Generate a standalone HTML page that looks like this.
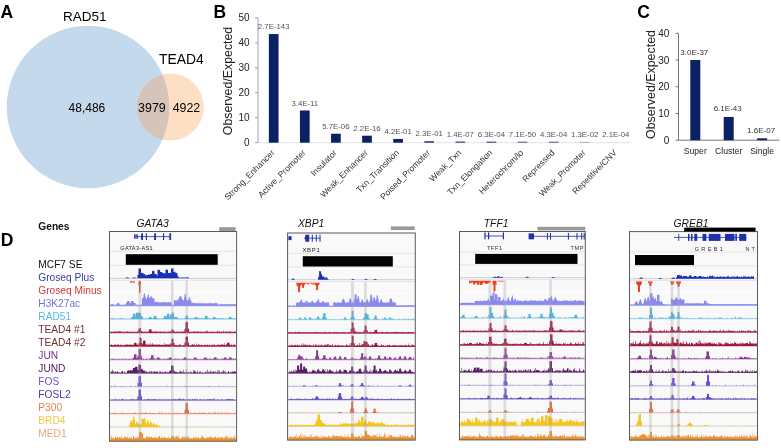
<!DOCTYPE html>
<html><head><meta charset="utf-8"><style>
html,body{margin:0;padding:0;background:#fff;}
svg{display:block;font-family:"Liberation Sans", Arial, sans-serif;}
</style></head><body>
<svg width="781" height="448" viewBox="0 0 781 448">
<defs><clipPath id="cb"><circle cx="88" cy="107" r="81.3"/></clipPath></defs>
<circle cx="88" cy="107" r="81.3" fill="#c5d9ec"/>
<circle cx="170.3" cy="107" r="33.5" fill="#fddfc4"/>
<circle cx="170.3" cy="107" r="33.5" fill="#d4c4b9" clip-path="url(#cb)"/>
<text x="62.9" y="21.0" font-size="13.5">RAD51</text>
<text x="159.0" y="63.5" font-size="13.9">TEAD4</text>
<text x="68.6" y="111.8" font-size="12">48,486</text>
<text x="138.1" y="111.7" font-size="12.4">3979</text>
<text x="172.7" y="111.7" font-size="12.4">4922</text>
<text x="0.6" y="17.5" font-size="17.5" font-weight="bold">A</text>
<text x="213.4" y="17.5" font-size="17.5" font-weight="bold">B</text>
<text x="637.2" y="17.9" font-size="17.5" font-weight="bold">C</text>
<text x="0.8" y="245.9" font-size="17.5" font-weight="bold">D</text>
<line x1="258" y1="142.7" x2="631.5" y2="142.7" stroke="#e2e2ea" stroke-width="1"/>
<line x1="258" y1="17.849999999999994" x2="258" y2="142.7" stroke="#9c9cc8" stroke-width="1"/>
<line x1="255" y1="142.70" x2="258" y2="142.70" stroke="#9c9cc8" stroke-width="1"/>
<text x="249.6" y="146.30" font-size="10" text-anchor="end" fill="#222">0</text>
<line x1="255" y1="117.73" x2="258" y2="117.73" stroke="#9c9cc8" stroke-width="1"/>
<text x="249.6" y="121.33" font-size="10" text-anchor="end" fill="#222">10</text>
<line x1="255" y1="92.76" x2="258" y2="92.76" stroke="#9c9cc8" stroke-width="1"/>
<text x="249.6" y="96.36" font-size="10" text-anchor="end" fill="#222">20</text>
<line x1="255" y1="67.79" x2="258" y2="67.79" stroke="#9c9cc8" stroke-width="1"/>
<text x="249.6" y="71.39" font-size="10" text-anchor="end" fill="#222">30</text>
<line x1="255" y1="42.82" x2="258" y2="42.82" stroke="#9c9cc8" stroke-width="1"/>
<text x="249.6" y="46.42" font-size="10" text-anchor="end" fill="#222">40</text>
<line x1="255" y1="17.85" x2="258" y2="17.85" stroke="#9c9cc8" stroke-width="1"/>
<text x="249.6" y="21.45" font-size="10" text-anchor="end" fill="#222">50</text>
<text transform="translate(232.2,81) rotate(-90)" font-size="12.35" text-anchor="middle" fill="#222">Observed/Expected</text>
<rect x="268.85" y="34.08" width="9.7" height="108.62" fill="#0b2163"/>
<text x="273.70" y="29.28" font-size="7.8" text-anchor="middle" fill="#555">2.7E-143</text>
<text transform="translate(275.20,153.3) rotate(-45)" font-size="8.6" text-anchor="end" fill="#333">Strong_Enhancer</text>
<rect x="299.95" y="110.49" width="9.7" height="32.21" fill="#0b2163"/>
<text x="304.80" y="105.69" font-size="7.8" text-anchor="middle" fill="#555">3.4E-11</text>
<text transform="translate(306.30,153.3) rotate(-45)" font-size="8.6" text-anchor="end" fill="#333">Active_Promoter</text>
<rect x="331.05" y="133.71" width="9.7" height="8.99" fill="#0b2163"/>
<text x="335.90" y="128.91" font-size="7.8" text-anchor="middle" fill="#555">5.7E-06</text>
<text transform="translate(337.40,153.3) rotate(-45)" font-size="8.6" text-anchor="end" fill="#333">Insulator</text>
<rect x="362.15" y="135.71" width="9.7" height="6.99" fill="#0b2163"/>
<text x="367.00" y="130.91" font-size="7.8" text-anchor="middle" fill="#555">2.2E-16</text>
<text transform="translate(368.50,153.3) rotate(-45)" font-size="8.6" text-anchor="end" fill="#333">Weak_Enhancer</text>
<rect x="393.25" y="138.95" width="9.7" height="3.75" fill="#0b2163"/>
<text x="398.10" y="134.15" font-size="7.8" text-anchor="middle" fill="#555">4.2E-01</text>
<text transform="translate(399.60,153.3) rotate(-45)" font-size="8.6" text-anchor="end" fill="#333">Txn_Transition</text>
<rect x="424.35" y="141.20" width="9.7" height="1.50" fill="#2a3470"/>
<text x="429.20" y="136.40" font-size="7.8" text-anchor="middle" fill="#555">2.3E-01</text>
<text transform="translate(430.70,153.3) rotate(-45)" font-size="8.6" text-anchor="end" fill="#333">Poised_Promoter</text>
<rect x="455.45" y="141.58" width="9.7" height="1.12" fill="#2a3470"/>
<text x="460.30" y="136.60" font-size="7.8" text-anchor="middle" fill="#555">1.4E-07</text>
<text transform="translate(461.80,153.3) rotate(-45)" font-size="8.6" text-anchor="end" fill="#333">Weak_Txn</text>
<rect x="486.55" y="141.65" width="9.7" height="1.05" fill="#2a3470"/>
<text x="491.40" y="136.60" font-size="7.8" text-anchor="middle" fill="#555">6.3E-04</text>
<text transform="translate(492.90,153.3) rotate(-45)" font-size="8.6" text-anchor="end" fill="#333">Txn_Elongation</text>
<rect x="517.65" y="141.70" width="9.7" height="1.00" fill="#50568a"/>
<text x="522.50" y="136.60" font-size="7.8" text-anchor="middle" fill="#555">7.1E-50</text>
<text transform="translate(524.00,153.3) rotate(-45)" font-size="8.6" text-anchor="end" fill="#333">Heterochrom/lo</text>
<rect x="548.75" y="141.70" width="9.7" height="1.00" fill="#50568a"/>
<text x="553.60" y="136.60" font-size="7.8" text-anchor="middle" fill="#555">4.3E-04</text>
<text transform="translate(555.10,153.3) rotate(-45)" font-size="8.6" text-anchor="end" fill="#333">Repressed</text>
<rect x="579.85" y="141.83" width="9.7" height="0.87" fill="#a0a4c0"/>
<text x="584.70" y="136.60" font-size="7.8" text-anchor="middle" fill="#555">1.3E-02</text>
<text transform="translate(586.20,153.3) rotate(-45)" font-size="8.6" text-anchor="end" fill="#333">Weak_Promoter</text>
<rect x="610.95" y="142.20" width="9.7" height="0.50" fill="#d8dae6"/>
<text x="615.80" y="136.60" font-size="7.8" text-anchor="middle" fill="#555">2.1E-04</text>
<text transform="translate(617.30,153.3) rotate(-45)" font-size="8.6" text-anchor="end" fill="#333">Repetitive/CNV</text>
<line x1="678.5" y1="33.32" x2="678.5" y2="140.2" stroke="#777" stroke-width="1"/>
<line x1="678.5" y1="140.2" x2="779.3" y2="140.2" stroke="#777" stroke-width="1"/>
<line x1="675.5" y1="140.20" x2="678.5" y2="140.20" stroke="#777" stroke-width="1"/>
<text x="669.4" y="143.80" font-size="10" text-anchor="end" fill="#222">0</text>
<line x1="675.5" y1="113.48" x2="678.5" y2="113.48" stroke="#777" stroke-width="1"/>
<text x="669.4" y="117.08" font-size="10" text-anchor="end" fill="#222">10</text>
<line x1="675.5" y1="86.76" x2="678.5" y2="86.76" stroke="#777" stroke-width="1"/>
<text x="669.4" y="90.36" font-size="10" text-anchor="end" fill="#222">20</text>
<line x1="675.5" y1="60.04" x2="678.5" y2="60.04" stroke="#777" stroke-width="1"/>
<text x="669.4" y="63.64" font-size="10" text-anchor="end" fill="#222">30</text>
<line x1="675.5" y1="33.32" x2="678.5" y2="33.32" stroke="#777" stroke-width="1"/>
<text x="669.4" y="36.92" font-size="10" text-anchor="end" fill="#222">40</text>
<text transform="translate(654.6,84.5) rotate(-90)" font-size="12.4" text-anchor="middle" fill="#222">Observed/Expected</text>
<rect x="690.30" y="60.04" width="10" height="80.16" fill="#0b2163"/>
<text x="694.30" y="54.54" font-size="8" text-anchor="middle" fill="#333">3.0E-37</text>
<text x="695.30" y="153.6" font-size="8.6" text-anchor="middle" fill="#222">Super</text>
<rect x="723.70" y="116.95" width="10" height="23.25" fill="#0b2163"/>
<text x="727.70" y="111.45" font-size="8" text-anchor="middle" fill="#333">6.1E-43</text>
<text x="728.70" y="153.6" font-size="8.6" text-anchor="middle" fill="#222">Cluster</text>
<rect x="757.10" y="138.33" width="10" height="1.87" fill="#0b2163"/>
<text x="761.10" y="132.83" font-size="8" text-anchor="middle" fill="#333">1.6E-07</text>
<text x="762.10" y="153.6" font-size="8.6" text-anchor="middle" fill="#222">Single</text>
<text x="38.3" y="229.7" font-size="10.2" font-weight="bold" fill="#111">Genes</text>
<text x="38.3" y="268.0" font-size="10.2" fill="#111">MCF7 SE</text>
<text x="38.3" y="281.0" font-size="10.2" fill="#3a3aa0">Groseq Plus</text>
<text x="38.3" y="294.0" font-size="10.2" fill="#d8343c">Groseq Minus</text>
<text x="38.3" y="307.0" font-size="10.2" fill="#7474d4">H3K27ac</text>
<text x="38.3" y="320.0" font-size="10.2" fill="#5ab8e2">RAD51</text>
<text x="38.3" y="333.0" font-size="10.2" fill="#7c2a34">TEAD4 #1</text>
<text x="38.3" y="346.0" font-size="10.2" fill="#7c2a34">TEAD4 #2</text>
<text x="38.3" y="359.0" font-size="10.2" fill="#74308c">JUN</text>
<text x="38.3" y="372.0" font-size="10.2" fill="#4c1a58">JUND</text>
<text x="38.3" y="385.0" font-size="10.2" fill="#7050dc">FOS</text>
<text x="38.3" y="398.0" font-size="10.2" fill="#4a38a8">FOSL2</text>
<text x="38.3" y="411.0" font-size="10.2" fill="#e8805a">P300</text>
<text x="38.3" y="424.0" font-size="10.2" fill="#f0cc40">BRD4</text>
<text x="38.3" y="437.0" font-size="10.2" fill="#e8a880">MED1</text>
<rect x="109.5" y="231.5" width="127.1" height="209.7" fill="#f9f9f9"/>
<line x1="109.5" y1="251.3" x2="236.6" y2="251.3" stroke="#dedede" stroke-width="0.8"/>
<line x1="109.5" y1="265.3" x2="236.6" y2="265.3" stroke="#dedede" stroke-width="0.8"/>
<line x1="109.5" y1="280.3" x2="236.6" y2="280.3" stroke="#dedede" stroke-width="0.8"/>
<line x1="109.5" y1="292.3" x2="236.6" y2="292.3" stroke="#ffffff" stroke-width="1"/>
<line x1="109.5" y1="305.8" x2="236.6" y2="305.8" stroke="#ffffff" stroke-width="1"/>
<line x1="109.5" y1="319.3" x2="236.6" y2="319.3" stroke="#ffffff" stroke-width="1"/>
<line x1="109.5" y1="332.8" x2="236.6" y2="332.8" stroke="#ffffff" stroke-width="1"/>
<line x1="109.5" y1="346.3" x2="236.6" y2="346.3" stroke="#ffffff" stroke-width="1"/>
<line x1="109.5" y1="359.9" x2="236.6" y2="359.9" stroke="#ffffff" stroke-width="1"/>
<line x1="109.5" y1="373.4" x2="236.6" y2="373.4" stroke="#ffffff" stroke-width="1"/>
<line x1="109.5" y1="386.9" x2="236.6" y2="386.9" stroke="#ffffff" stroke-width="1"/>
<line x1="109.5" y1="400.4" x2="236.6" y2="400.4" stroke="#ffffff" stroke-width="1"/>
<line x1="109.5" y1="413.9" x2="236.6" y2="413.9" stroke="#ffffff" stroke-width="1"/>
<line x1="109.5" y1="427.4" x2="236.6" y2="427.4" stroke="#ffffff" stroke-width="1"/>
<line x1="110.0" y1="278.3" x2="236.1" y2="278.3" stroke="#bbbbcc" stroke-opacity="0.6" stroke-width="1.3"/>
<path d="M125.0 278.3L125.0 277.9L125.5 277.9L125.5 278.0L126.0 278.0L126.0 277.4L126.5 277.4L126.5 277.4L127.0 277.4L127.0 277.4L127.5 277.4L127.5 277.5L128.0 277.5L128.0 277.5L128.5 277.5L128.5 278.0L129.0 278.0L129.0 278.0L129.5 278.0L129.5 278.3ZM132.0 278.3L132.0 278.0L132.5 278.0L132.5 277.9L133.0 277.9L133.0 277.4L133.5 277.4L133.5 277.4L134.0 277.4L134.0 277.5L134.5 277.5L134.5 277.5L135.0 277.5L135.0 277.4L135.5 277.4L135.5 278.0L136.0 278.0L136.0 278.0L136.5 278.0L136.5 278.3ZM137.5 278.3L137.5 274.7L138.0 274.7L138.0 274.7L138.5 274.7L138.5 268.5L139.0 268.5L139.0 268.2L139.5 268.2L139.5 268.7L140.0 268.7L140.0 268.4L140.5 268.4L140.5 268.6L141.0 268.6L141.0 273.1L141.5 273.1L141.5 272.9L142.0 272.9L142.0 273.0L142.5 273.0L142.5 272.8L143.0 272.8L143.0 272.9L143.5 272.9L143.5 274.2L144.0 274.2L144.0 273.9L144.5 273.9L144.5 274.0L145.0 274.0L145.0 274.2L145.5 274.2L145.5 275.7L146.0 275.7L146.0 275.0L146.5 275.0L146.5 275.2L147.0 275.2L147.0 275.1L147.5 275.1L147.5 275.1L148.0 275.1L148.0 274.5L148.5 274.5L148.5 274.5L149.0 274.5L149.0 274.7L149.5 274.7L149.5 274.8L150.0 274.8L150.0 274.0L150.5 274.0L150.5 274.0L151.0 274.0L151.0 274.0L151.5 274.0L151.5 274.0L152.0 274.0L152.0 270.7L152.5 270.7L152.5 271.2L153.0 271.2L153.0 270.7L153.5 270.7L153.5 271.0L154.0 271.0L154.0 271.2L154.5 271.2L154.5 274.0L155.0 274.0L155.0 274.1L155.5 274.1L155.5 274.1L156.0 274.1L156.0 274.0L156.5 274.0L156.5 275.1L157.0 275.1L157.0 275.7L157.5 275.7L157.5 270.1L158.0 270.1L158.0 270.0L158.5 270.0L158.5 269.6L159.0 269.6L159.0 270.0L159.5 270.0L159.5 269.7L160.0 269.7L160.0 271.8L160.5 271.8L160.5 272.1L161.0 272.1L161.0 271.9L161.5 271.9L161.5 271.9L162.0 271.9L162.0 272.7L162.5 272.7L162.5 272.7L163.0 272.7L163.0 273.3L163.5 273.3L163.5 273.0L164.0 273.0L164.0 272.8L164.5 272.8L164.5 273.7L165.0 273.7L165.0 273.5L165.5 273.5L165.5 269.4L166.0 269.4L166.0 269.6L166.5 269.6L166.5 270.0L167.0 270.0L167.0 269.4L167.5 269.4L167.5 269.8L168.0 269.8L168.0 273.1L168.5 273.1L168.5 273.1L169.0 273.1L169.0 272.7L169.5 272.7L169.5 272.9L170.0 272.9L170.0 272.8L170.5 272.8L170.5 273.1L171.0 273.1L171.0 268.3L171.5 268.3L171.5 268.4L172.0 268.4L172.0 268.7L172.5 268.7L172.5 268.6L173.0 268.6L173.0 267.8L173.5 267.8L173.5 272.1L174.0 272.1L174.0 272.0L174.5 272.0L174.5 271.6L175.0 271.6L175.0 271.7L175.5 271.7L175.5 272.9L176.0 272.9L176.0 273.2L176.5 273.2L176.5 272.8L177.0 272.8L177.0 273.0L177.5 273.0L177.5 276.2L178.0 276.2L178.0 276.3L178.5 276.3L178.5 277.4L179.0 277.4L179.0 277.6L179.5 277.6L179.5 277.6L180.0 277.6L180.0 278.0L180.5 278.0L180.5 277.5L181.0 277.5L181.0 277.5L181.5 277.5L181.5 277.4L182.0 277.4L182.0 277.4L182.5 277.4L182.5 277.5L183.0 277.5L183.0 277.5L183.5 277.5L183.5 277.5L184.0 277.5L184.0 277.5L184.5 277.5L184.5 277.5L185.0 277.5L185.0 277.5L185.5 277.5L185.5 277.9L186.0 277.9L186.0 277.2L186.5 277.2L186.5 277.2L187.0 277.2L187.0 277.2L187.5 277.2L187.5 277.2L188.0 277.2L188.0 277.3L188.5 277.3L188.5 278.0L189.0 278.0L189.0 277.9L189.5 277.9L189.5 278.3Z" fill="#1a2db5"/>
<path d="M130.0 281.3L130.0 282.7L130.5 282.7L130.5 282.4L131.0 282.4L131.0 282.9L131.5 282.9L131.5 282.6L132.0 282.6L132.0 281.3ZM132.5 281.3L132.5 282.6L133.0 282.6L133.0 283.1L133.5 283.1L133.5 282.4L134.0 282.4L134.0 283.3L134.5 283.3L134.5 281.3ZM138.5 281.3L138.5 285.7L139.0 285.7L139.0 292.4L139.5 292.4L139.5 292.8L140.0 292.8L140.0 292.4L140.5 292.4L140.5 284.3L141.0 284.3L141.0 281.3Z" fill="#ec3f1f"/>
<line x1="110.0" y1="305.5" x2="236.1" y2="305.5" stroke="#8a8aee" stroke-opacity="0.85" stroke-width="1.3"/>
<path d="M110.5 305.5L110.5 304.9L111.0 304.9L111.0 304.5L111.5 304.5L111.5 304.1L112.0 304.1L112.0 304.0L112.5 304.0L112.5 304.1L113.0 304.1L113.0 304.6L113.5 304.6L113.5 304.9L114.0 304.9L114.0 305.2L114.5 305.2L114.5 304.8L115.0 304.8L115.0 305.5ZM115.5 305.5L115.5 304.8L116.0 304.8L116.0 304.8L116.5 304.8L116.5 304.2L117.0 304.2L117.0 303.5L117.5 303.5L117.5 303.0L118.0 303.0L118.0 302.6L118.5 302.6L118.5 302.9L119.0 302.9L119.0 303.4L119.5 303.4L119.5 304.4L120.0 304.4L120.0 304.9L120.5 304.9L120.5 305.2L121.0 305.2L121.0 305.1L121.5 305.1L121.5 305.5ZM122.0 305.5L122.0 305.2L122.5 305.2L122.5 305.2L123.0 305.2L123.0 305.0L123.5 305.0L123.5 304.4L124.0 304.4L124.0 305.5ZM125.0 305.5L125.0 305.2L125.5 305.2L125.5 304.1L126.0 304.1L126.0 302.9L126.5 302.9L126.5 302.8L127.0 302.8L127.0 300.9L127.5 300.9L127.5 301.0L128.0 301.0L128.0 301.1L128.5 301.1L128.5 300.9L129.0 300.9L129.0 301.1L129.5 301.1L129.5 302.6L130.0 302.6L130.0 303.2L130.5 303.2L130.5 303.0L131.0 303.0L131.0 301.1L131.5 301.1L131.5 301.1L132.0 301.1L132.0 301.0L132.5 301.0L132.5 300.9L133.0 300.9L133.0 301.1L133.5 301.1L133.5 302.4L134.0 302.4L134.0 302.9L134.5 302.9L134.5 303.1L135.0 303.1L135.0 303.0L135.5 303.0L135.5 304.9L136.0 304.9L136.0 304.7L136.5 304.7L136.5 304.8L137.0 304.8L137.0 305.5ZM137.5 305.5L137.5 305.1L138.0 305.1L138.0 305.2L138.5 305.2L138.5 304.8L139.0 304.8L139.0 305.5ZM140.0 305.5L140.0 304.9L140.5 304.9L140.5 305.0L141.0 305.0L141.0 305.5ZM141.5 305.5L141.5 304.4L142.0 304.4L142.0 298.0L142.5 298.0L142.5 298.0L143.0 298.0L143.0 297.4L143.5 297.4L143.5 294.4L144.0 294.4L144.0 293.5L144.5 293.5L144.5 293.5L145.0 293.5L145.0 296.2L145.5 296.2L145.5 297.3L146.0 297.3L146.0 298.9L146.5 298.9L146.5 298.9L147.0 298.9L147.0 297.2L147.5 297.2L147.5 295.2L148.0 295.2L148.0 294.6L148.5 294.6L148.5 294.8L149.0 294.8L149.0 297.7L149.5 297.7L149.5 297.7L150.0 297.7L150.0 297.7L150.5 297.7L150.5 295.8L151.0 295.8L151.0 296.0L151.5 296.0L151.5 297.0L152.0 297.0L152.0 298.3L152.5 298.3L152.5 297.5L153.0 297.5L153.0 298.5L153.5 298.5L153.5 298.2L154.0 298.2L154.0 298.2L154.5 298.2L154.5 302.2L155.0 302.2L155.0 301.5L155.5 301.5L155.5 302.2L156.0 302.2L156.0 302.1L156.5 302.1L156.5 302.0L157.0 302.0L157.0 302.1L157.5 302.1L157.5 301.8L158.0 301.8L158.0 302.2L158.5 302.2L158.5 302.1L159.0 302.1L159.0 302.7L159.5 302.7L159.5 302.3L160.0 302.3L160.0 302.2L160.5 302.2L160.5 302.2L161.0 302.2L161.0 302.3L161.5 302.3L161.5 302.4L162.0 302.4L162.0 302.2L162.5 302.2L162.5 302.2L163.0 302.2L163.0 301.5L163.5 301.5L163.5 302.2L164.0 302.2L164.0 302.5L164.5 302.5L164.5 302.0L165.0 302.0L165.0 302.3L165.5 302.3L165.5 302.4L166.0 302.4L166.0 302.5L166.5 302.5L166.5 302.3L167.0 302.3L167.0 302.1L167.5 302.1L167.5 302.8L168.0 302.8L168.0 302.4L168.5 302.4L168.5 302.1L169.0 302.1L169.0 302.7L169.5 302.7L169.5 302.1L170.0 302.1L170.0 302.3L170.5 302.3L170.5 302.1L171.0 302.1L171.0 302.2L171.5 302.2L171.5 305.5ZM172.0 305.5L172.0 304.9L172.5 304.9L172.5 304.8L173.0 304.8L173.0 305.5ZM174.0 305.5L174.0 299.8L174.5 299.8L174.5 300.1L175.0 300.1L175.0 300.2L175.5 300.2L175.5 300.8L176.0 300.8L176.0 300.3L176.5 300.3L176.5 300.9L177.0 300.9L177.0 300.2L177.5 300.2L177.5 299.2L178.0 299.2L178.0 300.1L178.5 300.1L178.5 298.2L179.0 298.2L179.0 297.4L179.5 297.4L179.5 296.5L180.0 296.5L180.0 295.7L180.5 295.7L180.5 296.0L181.0 296.0L181.0 296.4L181.5 296.4L181.5 298.2L182.0 298.2L182.0 299.3L182.5 299.3L182.5 299.6L183.0 299.6L183.0 300.2L183.5 300.2L183.5 300.4L184.0 300.4L184.0 297.4L184.5 297.4L184.5 294.3L185.0 294.3L185.0 293.6L185.5 293.6L185.5 295.3L186.0 295.3L186.0 297.6L186.5 297.6L186.5 300.2L187.0 300.2L187.0 299.9L187.5 299.9L187.5 301.1L188.0 301.1L188.0 300.0L188.5 300.0L188.5 298.0L189.0 298.0L189.0 297.3L189.5 297.3L189.5 297.4L190.0 297.4L190.0 299.0L190.5 299.0L190.5 300.8L191.0 300.8L191.0 300.3L191.5 300.3L191.5 303.0L192.0 303.0L192.0 303.0L192.5 303.0L192.5 302.6L193.0 302.6L193.0 303.1L193.5 303.1L193.5 303.3L194.0 303.3L194.0 303.1L194.5 303.1L194.5 303.2L195.0 303.2L195.0 302.9L195.5 302.9L195.5 303.2L196.0 303.2L196.0 303.1L196.5 303.1L196.5 303.3L197.0 303.3L197.0 303.4L197.5 303.4L197.5 303.3L198.0 303.3L198.0 303.3L198.5 303.3L198.5 302.3L199.0 302.3L199.0 303.5L199.5 303.5L199.5 303.2L200.0 303.2L200.0 303.3L200.5 303.3L200.5 303.4L201.0 303.4L201.0 303.3L201.5 303.3L201.5 303.0L202.0 303.0L202.0 303.5L202.5 303.5L202.5 302.5L203.0 302.5L203.0 303.4L203.5 303.4L203.5 303.5L204.0 303.5L204.0 303.3L204.5 303.3L204.5 303.5L205.0 303.5L205.0 303.2L205.5 303.2L205.5 303.3L206.0 303.3L206.0 303.4L206.5 303.4L206.5 303.5L207.0 303.5L207.0 303.1L207.5 303.1L207.5 303.4L208.0 303.4L208.0 303.2L208.5 303.2L208.5 303.4L209.0 303.4L209.0 303.2L209.5 303.2L209.5 303.1L210.0 303.1L210.0 302.9L210.5 302.9L210.5 303.3L211.0 303.3L211.0 303.5L211.5 303.5L211.5 303.3L212.0 303.3L212.0 303.1L212.5 303.1L212.5 303.5L213.0 303.5L213.0 303.3L213.5 303.3L213.5 303.4L214.0 303.4L214.0 303.1L214.5 303.1L214.5 303.4L215.0 303.4L215.0 302.8L215.5 302.8L215.5 303.3L216.0 303.3L216.0 303.5L216.5 303.5L216.5 303.1L217.0 303.1L217.0 303.4L217.5 303.4L217.5 303.3L218.0 303.3L218.0 304.7L218.5 304.7L218.5 305.1L219.0 305.1L219.0 304.4L219.5 304.4L219.5 304.1L220.0 304.1L220.0 304.2L220.5 304.2L220.5 303.8L221.0 303.8L221.0 304.3L221.5 304.3L221.5 304.4L222.0 304.4L222.0 304.1L222.5 304.1L222.5 304.2L223.0 304.2L223.0 304.4L223.5 304.4L223.5 304.2L224.0 304.2L224.0 303.8L224.5 303.8L224.5 304.1L225.0 304.1L225.0 304.3L225.5 304.3L225.5 304.3L226.0 304.3L226.0 304.3L226.5 304.3L226.5 304.2L227.0 304.2L227.0 304.4L227.5 304.4L227.5 304.2L228.0 304.2L228.0 304.2L228.5 304.2L228.5 304.3L229.0 304.3L229.0 304.1L229.5 304.1L229.5 304.3L230.0 304.3L230.0 304.2L230.5 304.2L230.5 304.3L231.0 304.3L231.0 304.3L231.5 304.3L231.5 304.2L232.0 304.2L232.0 304.2L232.5 304.2L232.5 304.4L233.0 304.4L233.0 304.1L233.5 304.1L233.5 304.3L234.0 304.3L234.0 304.2L234.5 304.2L234.5 304.1L235.0 304.1L235.0 304.2L235.5 304.2L235.5 304.1L236.0 304.1L236.0 305.5Z" fill="#8a8aee"/>
<line x1="110.0" y1="319.0" x2="236.1" y2="319.0" stroke="#4db4dc" stroke-opacity="0.5" stroke-width="1.3"/>
<path d="M110.5 319.0L110.5 318.2L111.0 318.2L111.0 319.0ZM111.5 319.0L111.5 318.3L112.0 318.3L112.0 318.2L112.5 318.2L112.5 318.3L113.0 318.3L113.0 318.6L113.5 318.6L113.5 319.0ZM115.5 319.0L115.5 318.1L116.0 318.1L116.0 319.0ZM118.0 319.0L118.0 318.5L118.5 318.5L118.5 319.0ZM119.5 319.0L119.5 318.4L120.0 318.4L120.0 318.2L120.5 318.2L120.5 317.8L121.0 317.8L121.0 319.0ZM121.5 319.0L121.5 318.6L122.0 318.6L122.0 319.0ZM122.5 319.0L122.5 318.3L123.0 318.3L123.0 319.0ZM123.5 319.0L123.5 318.5L124.0 318.5L124.0 319.0ZM124.5 319.0L124.5 318.4L125.0 318.4L125.0 319.0ZM131.0 319.0L131.0 317.0L131.5 317.0L131.5 319.0ZM132.0 319.0L132.0 317.1L132.5 317.1L132.5 316.8L133.0 316.8L133.0 313.8L133.5 313.8L133.5 313.8L134.0 313.8L134.0 313.5L134.5 313.5L134.5 313.9L135.0 313.9L135.0 313.7L135.5 313.7L135.5 316.5L136.0 316.5L136.0 312.8L136.5 312.8L136.5 312.5L137.0 312.5L137.0 312.6L137.5 312.6L137.5 312.7L138.0 312.7L138.0 312.4L138.5 312.4L138.5 312.8L139.0 312.8L139.0 312.9L139.5 312.9L139.5 312.8L140.0 312.8L140.0 312.8L140.5 312.8L140.5 312.5L141.0 312.5L141.0 316.0L141.5 316.0L141.5 316.0L142.0 316.0L142.0 315.7L142.5 315.7L142.5 317.8L143.0 317.8L143.0 317.9L143.5 317.9L143.5 319.0ZM145.0 319.0L145.0 318.3L145.5 318.3L145.5 318.6L146.0 318.6L146.0 319.0ZM148.0 319.0L148.0 318.2L148.5 318.2L148.5 318.1L149.0 318.1L149.0 316.9L149.5 316.9L149.5 317.0L150.0 317.0L150.0 316.9L150.5 316.9L150.5 316.9L151.0 316.9L151.0 317.0L151.5 317.0L151.5 318.2L152.0 318.2L152.0 318.4L152.5 318.4L152.5 319.0ZM153.0 319.0L153.0 317.7L153.5 317.7L153.5 317.8L154.0 317.8L154.0 315.8L154.5 315.8L154.5 315.7L155.0 315.7L155.0 315.8L155.5 315.8L155.5 315.9L156.0 315.9L156.0 315.9L156.5 315.9L156.5 318.0L157.0 318.0L157.0 318.1L157.5 318.1L157.5 319.0ZM159.5 319.0L159.5 318.4L160.0 318.4L160.0 319.0ZM161.0 319.0L161.0 317.9L161.5 317.9L161.5 319.0ZM163.0 319.0L163.0 317.8L163.5 317.8L163.5 317.7L164.0 317.7L164.0 315.9L164.5 315.9L164.5 315.9L165.0 315.9L165.0 315.8L165.5 315.8L165.5 315.7L166.0 315.7L166.0 315.7L166.5 315.7L166.5 316.9L167.0 316.9L167.0 313.8L167.5 313.8L167.5 313.9L168.0 313.9L168.0 313.5L168.5 313.5L168.5 313.8L169.0 313.8L169.0 313.8L169.5 313.8L169.5 317.1L170.0 317.1L170.0 315.0L170.5 315.0L170.5 314.7L171.0 314.7L171.0 314.7L171.5 314.7L171.5 312.9L172.0 312.9L172.0 312.8L172.5 312.8L172.5 312.6L173.0 312.6L173.0 312.9L173.5 312.9L173.5 312.5L174.0 312.5L174.0 317.0L174.5 317.0L174.5 316.8L175.0 316.8L175.0 317.0L175.5 317.0L175.5 316.9L176.0 316.9L176.0 317.0L176.5 317.0L176.5 316.8L177.0 316.8L177.0 317.0L177.5 317.0L177.5 318.0L178.0 318.0L178.0 318.2L178.5 318.2L178.5 319.0ZM180.5 319.0L180.5 317.9L181.0 317.9L181.0 319.0ZM182.5 319.0L182.5 318.6L183.0 318.6L183.0 319.0ZM184.5 319.0L184.5 317.8L185.0 317.8L185.0 317.9L185.5 317.9L185.5 315.9L186.0 315.9L186.0 315.8L186.5 315.8L186.5 315.8L187.0 315.8L187.0 315.8L187.5 315.8L187.5 315.9L188.0 315.9L188.0 317.9L188.5 317.9L188.5 317.8L189.0 317.8L189.0 319.0ZM189.5 319.0L189.5 318.5L190.0 318.5L190.0 317.8L190.5 317.8L190.5 319.0ZM191.0 319.0L191.0 318.2L191.5 318.2L191.5 319.0ZM192.0 319.0L192.0 318.5L192.5 318.5L192.5 319.0ZM193.0 319.0L193.0 318.5L193.5 318.5L193.5 318.6L194.0 318.6L194.0 318.2L194.5 318.2L194.5 317.3L195.0 317.3L195.0 317.0L195.5 317.0L195.5 316.9L196.0 316.9L196.0 316.9L196.5 316.9L196.5 316.9L197.0 316.9L197.0 316.9L197.5 316.9L197.5 318.3L198.0 318.3L198.0 318.4L198.5 318.4L198.5 317.9L199.0 317.9L199.0 317.7L199.5 317.7L199.5 319.0ZM200.0 319.0L200.0 317.9L200.5 317.9L200.5 319.0ZM201.0 319.0L201.0 318.1L201.5 318.1L201.5 319.0ZM202.0 319.0L202.0 318.2L202.5 318.2L202.5 318.0L203.0 318.0L203.0 319.0ZM204.0 319.0L204.0 317.9L204.5 317.9L204.5 317.9L205.0 317.9L205.0 315.7L205.5 315.7L205.5 315.7L206.0 315.7L206.0 315.7L206.5 315.7L206.5 315.7L207.0 315.7L207.0 315.7L207.5 315.7L207.5 317.8L208.0 317.8L208.0 317.7L208.5 317.7L208.5 318.3L209.0 318.3L209.0 319.0ZM210.5 319.0L210.5 317.9L211.0 317.9L211.0 319.0ZM212.0 319.0L212.0 318.4L212.5 318.4L212.5 318.2L213.0 318.2L213.0 316.9L213.5 316.9L213.5 316.9L214.0 316.9L214.0 316.9L214.5 316.9L214.5 316.8L215.0 316.8L215.0 316.9L215.5 316.9L215.5 318.2L216.0 318.2L216.0 318.3L216.5 318.3L216.5 318.6L217.0 318.6L217.0 318.4L217.5 318.4L217.5 318.4L218.0 318.4L218.0 317.9L218.5 317.9L218.5 319.0ZM219.0 319.0L219.0 318.3L219.5 318.3L219.5 319.0ZM220.0 319.0L220.0 317.9L220.5 317.9L220.5 318.6L221.0 318.6L221.0 319.0ZM221.5 319.0L221.5 318.0L222.0 318.0L222.0 319.0ZM222.5 319.0L222.5 317.9L223.0 317.9L223.0 318.1L223.5 318.1L223.5 319.0ZM224.5 319.0L224.5 318.6L225.0 318.6L225.0 319.0ZM228.0 319.0L228.0 318.3L228.5 318.3L228.5 318.1L229.0 318.1L229.0 317.0L229.5 317.0L229.5 317.0L230.0 317.0L230.0 316.8L230.5 316.8L230.5 316.9L231.0 316.9L231.0 317.0L231.5 317.0L231.5 318.2L232.0 318.2L232.0 318.3L232.5 318.3L232.5 319.0ZM233.0 319.0L233.0 318.6L233.5 318.6L233.5 319.0ZM234.0 319.0L234.0 317.9L234.5 317.9L234.5 319.0ZM235.5 319.0L235.5 318.4L236.0 318.4L236.0 319.0Z" fill="#4db4dc"/>
<line x1="110.0" y1="332.5" x2="236.1" y2="332.5" stroke="#a01a3e" stroke-opacity="0.9" stroke-width="1.3"/>
<path d="M111.0 332.5L111.0 331.7L111.5 331.7L111.5 332.1L112.0 332.1L112.0 332.5ZM113.0 332.5L113.0 331.4L113.5 331.4L113.5 331.7L114.0 331.7L114.0 331.7L114.5 331.7L114.5 332.5ZM115.0 332.5L115.0 331.7L115.5 331.7L115.5 331.3L116.0 331.3L116.0 331.4L116.5 331.4L116.5 332.5ZM117.5 332.5L117.5 331.3L118.0 331.3L118.0 331.5L118.5 331.5L118.5 331.4L119.0 331.4L119.0 332.5ZM119.5 332.5L119.5 330.7L120.0 330.7L120.0 331.3L120.5 331.3L120.5 332.5ZM121.0 332.5L121.0 331.9L121.5 331.9L121.5 331.4L122.0 331.4L122.0 332.5ZM124.0 332.5L124.0 331.5L124.5 331.5L124.5 332.5ZM126.0 332.5L126.0 331.8L126.5 331.8L126.5 332.5ZM127.5 332.5L127.5 331.0L128.0 331.0L128.0 332.5ZM129.0 332.5L129.0 331.4L129.5 331.4L129.5 332.0L130.0 332.0L130.0 332.5ZM131.0 332.5L131.0 331.8L131.5 331.8L131.5 332.5ZM132.0 332.5L132.0 331.7L132.5 331.7L132.5 332.5ZM133.0 332.5L133.0 332.0L133.5 332.0L133.5 332.5ZM135.5 332.5L135.5 331.9L136.0 331.9L136.0 332.5ZM137.5 332.5L137.5 330.8L138.0 330.8L138.0 331.2L138.5 331.2L138.5 328.4L139.0 328.4L139.0 328.4L139.5 328.4L139.5 328.4L140.0 328.4L140.0 328.3L140.5 328.3L140.5 328.1L141.0 328.1L141.0 331.0L141.5 331.0L141.5 331.0L142.0 331.0L142.0 331.7L142.5 331.7L142.5 332.2L143.0 332.2L143.0 332.1L143.5 332.1L143.5 332.5ZM144.0 332.5L144.0 332.0L144.5 332.0L144.5 331.9L145.0 331.9L145.0 331.7L145.5 331.7L145.5 332.5ZM146.5 332.5L146.5 331.7L147.0 331.7L147.0 332.5ZM148.0 332.5L148.0 331.5L148.5 331.5L148.5 331.4L149.0 331.4L149.0 329.2L149.5 329.2L149.5 329.3L150.0 329.3L150.0 329.3L150.5 329.3L150.5 329.3L151.0 329.3L151.0 329.2L151.5 329.2L151.5 331.3L152.0 331.3L152.0 331.5L152.5 331.5L152.5 331.7L153.0 331.7L153.0 331.9L153.5 331.9L153.5 332.5ZM154.0 332.5L154.0 331.9L154.5 331.9L154.5 331.3L155.0 331.3L155.0 331.4L155.5 331.4L155.5 331.7L156.0 331.7L156.0 332.1L156.5 332.1L156.5 331.5L157.0 331.5L157.0 332.5ZM157.5 332.5L157.5 331.4L158.0 331.4L158.0 332.0L158.5 332.0L158.5 332.5ZM159.0 332.5L159.0 331.5L159.5 331.5L159.5 332.5ZM160.0 332.5L160.0 331.8L160.5 331.8L160.5 331.5L161.0 331.5L161.0 331.9L161.5 331.9L161.5 331.8L162.0 331.8L162.0 332.5ZM163.5 332.5L163.5 331.5L164.0 331.5L164.0 332.5ZM164.5 332.5L164.5 331.5L165.0 331.5L165.0 332.0L165.5 332.0L165.5 332.5ZM167.5 332.5L167.5 331.9L168.0 331.9L168.0 332.5ZM168.5 332.5L168.5 331.6L169.0 331.6L169.0 331.2L169.5 331.2L169.5 332.5ZM170.0 332.5L170.0 331.7L170.5 331.7L170.5 331.2L171.0 331.2L171.0 331.4L171.5 331.4L171.5 329.3L172.0 329.3L172.0 329.4L172.5 329.4L172.5 329.4L173.0 329.4L173.0 329.4L173.5 329.4L173.5 330.7L174.0 330.7L174.0 331.6L174.5 331.6L174.5 331.7L175.0 331.7L175.0 332.5ZM176.5 332.5L176.5 331.5L177.0 331.5L177.0 332.5ZM178.5 332.5L178.5 331.5L179.0 331.5L179.0 331.9L179.5 331.9L179.5 332.5ZM180.0 332.5L180.0 332.2L180.5 332.2L180.5 332.5ZM181.5 332.5L181.5 331.3L182.0 331.3L182.0 332.5ZM182.5 332.5L182.5 331.8L183.0 331.8L183.0 331.7L183.5 331.7L183.5 331.4L184.0 331.4L184.0 332.0L184.5 332.0L184.5 329.1L185.0 329.1L185.0 328.6L185.5 328.6L185.5 322.4L186.0 322.4L186.0 322.2L186.5 322.2L186.5 321.6L187.0 321.6L187.0 322.1L187.5 322.1L187.5 322.1L188.0 322.1L188.0 329.1L188.5 329.1L188.5 328.3L189.0 328.3L189.0 331.7L189.5 331.7L189.5 332.5ZM191.0 332.5L191.0 331.9L191.5 331.9L191.5 332.0L192.0 332.0L192.0 332.5ZM193.0 332.5L193.0 331.3L193.5 331.3L193.5 332.5ZM194.0 332.5L194.0 331.4L194.5 331.4L194.5 331.5L195.0 331.5L195.0 331.9L195.5 331.9L195.5 332.5ZM196.0 332.5L196.0 331.6L196.5 331.6L196.5 331.7L197.0 331.7L197.0 331.4L197.5 331.4L197.5 332.5ZM198.5 332.5L198.5 331.4L199.0 331.4L199.0 331.8L199.5 331.8L199.5 332.5ZM200.0 332.5L200.0 331.4L200.5 331.4L200.5 332.5ZM201.0 332.5L201.0 332.0L201.5 332.0L201.5 331.9L202.0 331.9L202.0 332.5ZM203.5 332.5L203.5 332.0L204.0 332.0L204.0 332.5ZM204.5 332.5L204.5 331.7L205.0 331.7L205.0 331.7L205.5 331.7L205.5 332.5ZM206.0 332.5L206.0 330.5L206.5 330.5L206.5 332.0L207.0 332.0L207.0 330.8L207.5 330.8L207.5 332.5ZM208.5 332.5L208.5 331.9L209.0 331.9L209.0 332.5ZM209.5 332.5L209.5 332.0L210.0 332.0L210.0 332.5ZM211.0 332.5L211.0 332.0L211.5 332.0L211.5 332.1L212.0 332.1L212.0 331.7L212.5 331.7L212.5 331.6L213.0 331.6L213.0 332.5ZM216.0 332.5L216.0 331.9L216.5 331.9L216.5 332.5ZM217.0 332.5L217.0 331.8L217.5 331.8L217.5 330.4L218.0 330.4L218.0 332.5ZM219.0 332.5L219.0 331.6L219.5 331.6L219.5 331.6L220.0 331.6L220.0 332.5ZM221.5 332.5L221.5 331.6L222.0 331.6L222.0 332.5ZM223.0 332.5L223.0 330.4L223.5 330.4L223.5 332.5ZM226.0 332.5L226.0 331.6L226.5 331.6L226.5 331.6L227.0 331.6L227.0 332.5ZM228.5 332.5L228.5 331.6L229.0 331.6L229.0 331.6L229.5 331.6L229.5 332.5ZM230.0 332.5L230.0 331.6L230.5 331.6L230.5 331.5L231.0 331.5L231.0 332.5ZM233.5 332.5L233.5 332.0L234.0 332.0L234.0 331.6L234.5 331.6L234.5 332.5ZM235.5 332.5L235.5 331.8L236.0 331.8L236.0 332.5Z" fill="#a01a3e"/>
<line x1="110.0" y1="346.0" x2="236.1" y2="346.0" stroke="#9c1438" stroke-opacity="0.95" stroke-width="1.3"/>
<path d="M110.5 346.0L110.5 344.7L111.0 344.7L111.0 345.0L111.5 345.0L111.5 344.2L112.0 344.2L112.0 345.0L112.5 345.0L112.5 345.0L113.0 345.0L113.0 346.0ZM113.5 346.0L113.5 345.0L114.0 345.0L114.0 346.0ZM114.5 346.0L114.5 344.3L115.0 344.3L115.0 344.7L115.5 344.7L115.5 344.5L116.0 344.5L116.0 344.9L116.5 344.9L116.5 346.0ZM117.0 346.0L117.0 344.7L117.5 344.7L117.5 344.4L118.0 344.4L118.0 344.4L118.5 344.4L118.5 344.8L119.0 344.8L119.0 346.0ZM120.0 346.0L120.0 345.4L120.5 345.4L120.5 344.5L121.0 344.5L121.0 344.6L121.5 344.6L121.5 346.0ZM122.0 346.0L122.0 345.4L122.5 345.4L122.5 345.4L123.0 345.4L123.0 346.0ZM123.5 346.0L123.5 345.4L124.0 345.4L124.0 344.8L124.5 344.8L124.5 346.0ZM125.0 346.0L125.0 344.8L125.5 344.8L125.5 345.1L126.0 345.1L126.0 344.2L126.5 344.2L126.5 344.6L127.0 344.6L127.0 344.6L127.5 344.6L127.5 344.8L128.0 344.8L128.0 345.1L128.5 345.1L128.5 344.5L129.0 344.5L129.0 345.0L129.5 345.0L129.5 344.6L130.0 344.6L130.0 344.5L130.5 344.5L130.5 344.8L131.0 344.8L131.0 345.2L131.5 345.2L131.5 344.3L132.0 344.3L132.0 345.1L132.5 345.1L132.5 344.8L133.0 344.8L133.0 344.5L133.5 344.5L133.5 344.9L134.0 344.9L134.0 343.0L134.5 343.0L134.5 342.7L135.0 342.7L135.0 342.8L135.5 342.8L135.5 342.9L136.0 342.9L136.0 343.0L136.5 343.0L136.5 344.4L137.0 344.4L137.0 344.7L137.5 344.7L137.5 344.5L138.0 344.5L138.0 344.8L138.5 344.8L138.5 343.0L139.0 343.0L139.0 342.9L139.5 342.9L139.5 337.4L140.0 337.4L140.0 337.2L140.5 337.2L140.5 337.9L141.0 337.9L141.0 337.9L141.5 337.9L141.5 342.9L142.0 342.9L142.0 343.2L142.5 343.2L142.5 344.5L143.0 344.5L143.0 340.6L143.5 340.6L143.5 341.0L144.0 341.0L144.0 340.5L144.5 340.5L144.5 340.5L145.0 340.5L145.0 340.7L145.5 340.7L145.5 344.4L146.0 344.4L146.0 344.0L146.5 344.0L146.5 345.2L147.0 345.2L147.0 344.9L147.5 344.9L147.5 343.5L148.0 343.5L148.0 345.0L148.5 345.0L148.5 344.3L149.0 344.3L149.0 344.5L149.5 344.5L149.5 344.9L150.0 344.9L150.0 344.6L150.5 344.6L150.5 342.9L151.0 342.9L151.0 344.4L151.5 344.4L151.5 344.9L152.0 344.9L152.0 344.4L152.5 344.4L152.5 343.0L153.0 343.0L153.0 344.3L153.5 344.3L153.5 344.9L154.0 344.9L154.0 344.4L154.5 344.4L154.5 344.7L155.0 344.7L155.0 344.5L155.5 344.5L155.5 344.7L156.0 344.7L156.0 344.7L156.5 344.7L156.5 344.8L157.0 344.8L157.0 344.0L157.5 344.0L157.5 345.2L158.0 345.2L158.0 344.7L158.5 344.7L158.5 344.7L159.0 344.7L159.0 344.3L159.5 344.3L159.5 344.8L160.0 344.8L160.0 344.9L160.5 344.9L160.5 344.7L161.0 344.7L161.0 344.6L161.5 344.6L161.5 344.9L162.0 344.9L162.0 344.8L162.5 344.8L162.5 344.8L163.0 344.8L163.0 344.7L163.5 344.7L163.5 345.2L164.0 345.2L164.0 343.0L164.5 343.0L164.5 344.9L165.0 344.9L165.0 344.5L165.5 344.5L165.5 344.8L166.0 344.8L166.0 344.2L166.5 344.2L166.5 344.6L167.0 344.6L167.0 344.5L167.5 344.5L167.5 344.8L168.0 344.8L168.0 344.5L168.5 344.5L168.5 344.6L169.0 344.6L169.0 344.5L169.5 344.5L169.5 344.7L170.0 344.7L170.0 344.6L170.5 344.6L170.5 343.0L171.0 343.0L171.0 343.7L171.5 343.7L171.5 338.7L172.0 338.7L172.0 338.7L172.5 338.7L172.5 338.4L173.0 338.4L173.0 338.9L173.5 338.9L173.5 343.3L174.0 343.3L174.0 342.9L174.5 342.9L174.5 345.2L175.0 345.2L175.0 344.8L175.5 344.8L175.5 346.0ZM176.0 346.0L176.0 344.9L176.5 344.9L176.5 346.0ZM177.5 346.0L177.5 345.2L178.0 345.2L178.0 346.0ZM179.0 346.0L179.0 344.6L179.5 344.6L179.5 344.3L180.0 344.3L180.0 346.0ZM180.5 346.0L180.5 344.4L181.0 344.4L181.0 346.0ZM183.0 346.0L183.0 344.9L183.5 344.9L183.5 346.0ZM184.5 346.0L184.5 342.3L185.0 342.3L185.0 343.2L185.5 343.2L185.5 336.9L186.0 336.9L186.0 336.8L186.5 336.8L186.5 336.3L187.0 336.3L187.0 336.4L187.5 336.4L187.5 336.4L188.0 336.4L188.0 342.7L188.5 342.7L188.5 342.7L189.0 342.7L189.0 346.0ZM190.0 346.0L190.0 345.4L190.5 345.4L190.5 346.0ZM191.0 346.0L191.0 344.7L191.5 344.7L191.5 346.0ZM192.0 346.0L192.0 343.9L192.5 343.9L192.5 344.5L193.0 344.5L193.0 344.9L193.5 344.9L193.5 345.0L194.0 345.0L194.0 344.4L194.5 344.4L194.5 344.6L195.0 344.6L195.0 346.0ZM196.0 346.0L196.0 343.5L196.5 343.5L196.5 346.0ZM197.0 346.0L197.0 345.1L197.5 345.1L197.5 345.2L198.0 345.2L198.0 344.4L198.5 344.4L198.5 344.3L199.0 344.3L199.0 346.0ZM199.5 346.0L199.5 344.4L200.0 344.4L200.0 345.5L200.5 345.5L200.5 346.0ZM201.0 346.0L201.0 344.5L201.5 344.5L201.5 345.4L202.0 345.4L202.0 346.0ZM202.5 346.0L202.5 345.0L203.0 345.0L203.0 346.0ZM204.0 346.0L204.0 344.7L204.5 344.7L204.5 346.0ZM205.0 346.0L205.0 344.7L205.5 344.7L205.5 344.8L206.0 344.8L206.0 346.0ZM206.5 346.0L206.5 345.0L207.0 345.0L207.0 344.4L207.5 344.4L207.5 344.9L208.0 344.9L208.0 346.0ZM209.5 346.0L209.5 344.3L210.0 344.3L210.0 346.0ZM211.0 346.0L211.0 344.7L211.5 344.7L211.5 345.0L212.0 345.0L212.0 345.1L212.5 345.1L212.5 344.8L213.0 344.8L213.0 346.0ZM213.5 346.0L213.5 344.5L214.0 344.5L214.0 344.3L214.5 344.3L214.5 346.0ZM215.0 346.0L215.0 345.3L215.5 345.3L215.5 346.0ZM216.5 346.0L216.5 345.3L217.0 345.3L217.0 346.0ZM217.5 346.0L217.5 344.6L218.0 344.6L218.0 345.4L218.5 345.4L218.5 344.3L219.0 344.3L219.0 345.1L219.5 345.1L219.5 345.1L220.0 345.1L220.0 345.2L220.5 345.2L220.5 344.3L221.0 344.3L221.0 344.3L221.5 344.3L221.5 346.0ZM222.0 346.0L222.0 344.5L222.5 344.5L222.5 344.5L223.0 344.5L223.0 344.6L223.5 344.6L223.5 345.0L224.0 345.0L224.0 345.1L224.5 345.1L224.5 343.3L225.0 343.3L225.0 346.0ZM225.5 346.0L225.5 345.0L226.0 345.0L226.0 344.5L226.5 344.5L226.5 344.5L227.0 344.5L227.0 342.7L227.5 342.7L227.5 342.8L228.0 342.8L228.0 342.7L228.5 342.7L228.5 342.7L229.0 342.7L229.0 342.7L229.5 342.7L229.5 344.8L230.0 344.8L230.0 344.8L230.5 344.8L230.5 346.0ZM231.0 346.0L231.0 344.3L231.5 344.3L231.5 344.9L232.0 344.9L232.0 346.0ZM232.5 346.0L232.5 345.0L233.0 345.0L233.0 344.4L233.5 344.4L233.5 346.0ZM234.0 346.0L234.0 344.6L234.5 344.6L234.5 344.4L235.0 344.4L235.0 346.0Z" fill="#9c1438"/>
<line x1="110.0" y1="359.5" x2="236.1" y2="359.5" stroke="#8a3a96" stroke-opacity="0.6" stroke-width="1.3"/>
<path d="M112.5 359.5L112.5 358.4L113.0 358.4L113.0 359.5ZM113.5 359.5L113.5 358.9L114.0 358.9L114.0 359.5ZM114.5 359.5L114.5 358.8L115.0 358.8L115.0 359.5ZM118.0 359.5L118.0 359.0L118.5 359.0L118.5 359.0L119.0 359.0L119.0 359.5ZM122.5 359.5L122.5 358.5L123.0 358.5L123.0 359.5ZM125.0 359.5L125.0 358.7L125.5 358.7L125.5 359.5ZM128.5 359.5L128.5 359.0L129.0 359.0L129.0 359.5ZM129.5 359.5L129.5 359.0L130.0 359.0L130.0 359.5ZM130.5 359.5L130.5 358.8L131.0 358.8L131.0 359.5ZM132.5 359.5L132.5 358.5L133.0 358.5L133.0 357.5L133.5 357.5L133.5 357.4L134.0 357.4L134.0 354.1L134.5 354.1L134.5 354.4L135.0 354.4L135.0 354.4L135.5 354.4L135.5 354.1L136.0 354.1L136.0 354.2L136.5 354.2L136.5 357.9L137.0 357.9L137.0 357.8L137.5 357.8L137.5 355.6L138.0 355.6L138.0 356.3L138.5 356.3L138.5 348.7L139.0 348.7L139.0 349.2L139.5 349.2L139.5 349.2L140.0 349.2L140.0 349.0L140.5 349.0L140.5 348.9L141.0 348.9L141.0 355.4L141.5 355.4L141.5 356.4L142.0 356.4L142.0 358.4L142.5 358.4L142.5 359.5ZM143.0 359.5L143.0 358.5L143.5 358.5L143.5 359.5ZM145.0 359.5L145.0 359.2L145.5 359.2L145.5 359.5ZM146.0 359.5L146.0 358.6L146.5 358.6L146.5 359.5ZM147.0 359.5L147.0 358.7L147.5 358.7L147.5 359.5ZM149.5 359.5L149.5 358.8L150.0 358.8L150.0 357.9L150.5 357.9L150.5 358.2L151.0 358.2L151.0 355.4L151.5 355.4L151.5 355.2L152.0 355.2L152.0 355.2L152.5 355.2L152.5 355.2L153.0 355.2L153.0 355.1L153.5 355.1L153.5 358.2L154.0 358.2L154.0 358.1L154.5 358.1L154.5 359.5ZM156.0 359.5L156.0 358.7L156.5 358.7L156.5 358.8L157.0 358.8L157.0 357.5L157.5 357.5L157.5 357.5L158.0 357.5L158.0 357.4L158.5 357.4L158.5 357.3L159.0 357.3L159.0 357.4L159.5 357.4L159.5 358.7L160.0 358.7L160.0 358.7L160.5 358.7L160.5 359.5ZM161.5 359.5L161.5 359.0L162.0 359.0L162.0 359.5ZM164.0 359.5L164.0 358.4L164.5 358.4L164.5 359.0L165.0 359.0L165.0 359.1L165.5 359.1L165.5 359.5ZM167.0 359.5L167.0 358.8L167.5 358.8L167.5 358.6L168.0 358.6L168.0 358.4L168.5 358.4L168.5 358.8L169.0 358.8L169.0 357.4L169.5 357.4L169.5 357.5L170.0 357.5L170.0 357.4L170.5 357.4L170.5 357.5L171.0 357.5L171.0 357.5L171.5 357.5L171.5 358.5L172.0 358.5L172.0 358.9L172.5 358.9L172.5 359.5ZM174.0 359.5L174.0 359.0L174.5 359.0L174.5 359.5ZM175.0 359.5L175.0 358.6L175.5 358.6L175.5 359.5ZM176.0 359.5L176.0 359.0L176.5 359.0L176.5 359.5ZM178.5 359.5L178.5 358.4L179.0 358.4L179.0 359.5ZM182.0 359.5L182.0 358.5L182.5 358.5L182.5 359.5ZM183.0 359.5L183.0 358.7L183.5 358.7L183.5 358.4L184.0 358.4L184.0 357.4L184.5 357.4L184.5 357.5L185.0 357.5L185.0 357.5L185.5 357.5L185.5 357.4L186.0 357.4L186.0 357.4L186.5 357.4L186.5 358.7L187.0 358.7L187.0 358.7L187.5 358.7L187.5 359.5ZM188.5 359.5L188.5 358.5L189.0 358.5L189.0 359.5ZM189.5 359.5L189.5 359.1L190.0 359.1L190.0 359.5ZM191.0 359.5L191.0 359.0L191.5 359.0L191.5 359.5ZM193.0 359.5L193.0 358.8L193.5 358.8L193.5 358.7L194.0 358.7L194.0 357.5L194.5 357.5L194.5 357.5L195.0 357.5L195.0 357.4L195.5 357.4L195.5 357.4L196.0 357.4L196.0 357.5L196.5 357.5L196.5 358.7L197.0 358.7L197.0 358.9L197.5 358.9L197.5 359.5ZM200.5 359.5L200.5 359.0L201.0 359.0L201.0 359.5ZM203.0 359.5L203.0 358.8L203.5 358.8L203.5 358.8L204.0 358.8L204.0 357.4L204.5 357.4L204.5 357.4L205.0 357.4L205.0 357.4L205.5 357.4L205.5 357.4L206.0 357.4L206.0 357.3L206.5 357.3L206.5 358.7L207.0 358.7L207.0 358.7L207.5 358.7L207.5 358.8L208.0 358.8L208.0 359.5ZM209.0 359.5L209.0 358.4L209.5 358.4L209.5 358.8L210.0 358.8L210.0 358.8L210.5 358.8L210.5 359.5ZM211.0 359.5L211.0 358.6L211.5 358.6L211.5 359.5ZM212.5 359.5L212.5 359.0L213.0 359.0L213.0 358.8L213.5 358.8L213.5 358.8L214.0 358.8L214.0 357.4L214.5 357.4L214.5 357.5L215.0 357.5L215.0 357.5L215.5 357.5L215.5 357.3L216.0 357.3L216.0 357.3L216.5 357.3L216.5 358.9L217.0 358.9L217.0 358.2L217.5 358.2L217.5 359.5ZM218.0 359.5L218.0 358.9L218.5 358.9L218.5 359.5ZM221.5 359.5L221.5 358.5L222.0 358.5L222.0 358.5L222.5 358.5L222.5 359.5ZM223.0 359.5L223.0 358.7L223.5 358.7L223.5 358.8L224.0 358.8L224.0 357.5L224.5 357.5L224.5 357.4L225.0 357.4L225.0 357.4L225.5 357.4L225.5 357.4L226.0 357.4L226.0 357.5L226.5 357.5L226.5 358.8L227.0 358.8L227.0 358.9L227.5 358.9L227.5 359.5ZM228.0 359.5L228.0 358.7L228.5 358.7L228.5 358.9L229.0 358.9L229.0 357.5L229.5 357.5L229.5 357.4L230.0 357.4L230.0 357.5L230.5 357.5L230.5 357.5L231.0 357.5L231.0 357.5L231.5 357.5L231.5 358.5L232.0 358.5L232.0 358.8L232.5 358.8L232.5 359.5ZM233.0 359.5L233.0 358.4L233.5 358.4L233.5 359.1L234.0 359.1L234.0 359.5ZM235.0 359.5L235.0 358.5L235.5 358.5L235.5 358.7L236.0 358.7L236.0 359.5Z" fill="#8a3a96"/>
<line x1="110.0" y1="373.1" x2="236.1" y2="373.1" stroke="#5b1d66" stroke-opacity="0.8" stroke-width="1.3"/>
<path d="M111.0 373.1L111.0 372.2L111.5 372.2L111.5 371.1L112.0 371.1L112.0 369.5L112.5 369.5L112.5 371.4L113.0 371.4L113.0 373.1ZM113.5 373.1L113.5 371.1L114.0 371.1L114.0 371.8L114.5 371.8L114.5 373.1ZM115.0 373.1L115.0 372.2L115.5 372.2L115.5 371.3L116.0 371.3L116.0 372.1L116.5 372.1L116.5 373.1ZM117.0 373.1L117.0 371.3L117.5 371.3L117.5 371.4L118.0 371.4L118.0 371.9L118.5 371.9L118.5 373.1ZM119.0 373.1L119.0 372.4L119.5 372.4L119.5 373.1ZM121.0 373.1L121.0 371.3L121.5 371.3L121.5 371.9L122.0 371.9L122.0 371.0L122.5 371.0L122.5 371.2L123.0 371.2L123.0 373.1ZM124.5 373.1L124.5 371.2L125.0 371.2L125.0 373.1ZM127.0 373.1L127.0 371.0L127.5 371.0L127.5 370.6L128.0 370.6L128.0 370.5L128.5 370.5L128.5 370.1L129.0 370.1L129.0 370.7L129.5 370.7L129.5 370.5L130.0 370.5L130.0 370.6L130.5 370.6L130.5 370.1L131.0 370.1L131.0 370.1L131.5 370.1L131.5 370.7L132.0 370.7L132.0 369.5L132.5 369.5L132.5 370.5L133.0 370.5L133.0 368.0L133.5 368.0L133.5 368.0L134.0 368.0L134.0 367.8L134.5 367.8L134.5 367.9L135.0 367.9L135.0 366.7L135.5 366.7L135.5 366.7L136.0 366.7L136.0 366.8L136.5 366.8L136.5 366.5L137.0 366.5L137.0 366.9L137.5 366.9L137.5 370.1L138.0 370.1L138.0 370.0L138.5 370.0L138.5 364.2L139.0 364.2L139.0 364.4L139.5 364.4L139.5 364.8L140.0 364.8L140.0 364.9L140.5 364.9L140.5 364.9L141.0 364.9L141.0 369.0L141.5 369.0L141.5 369.0L142.0 369.0L142.0 368.6L142.5 368.6L142.5 369.7L143.0 369.7L143.0 370.2L143.5 370.2L143.5 371.0L144.0 371.0L144.0 370.6L144.5 370.6L144.5 371.2L145.0 371.2L145.0 370.6L145.5 370.6L145.5 373.1ZM146.0 373.1L146.0 371.2L146.5 371.2L146.5 371.9L147.0 371.9L147.0 373.1ZM147.5 373.1L147.5 372.0L148.0 372.0L148.0 373.1ZM148.5 373.1L148.5 371.7L149.0 371.7L149.0 373.1ZM149.5 373.1L149.5 371.1L150.0 371.1L150.0 371.3L150.5 371.3L150.5 373.1ZM151.0 373.1L151.0 371.4L151.5 371.4L151.5 371.2L152.0 371.2L152.0 371.7L152.5 371.7L152.5 373.1ZM153.5 373.1L153.5 371.1L154.0 371.1L154.0 371.6L154.5 371.6L154.5 371.6L155.0 371.6L155.0 371.9L155.5 371.9L155.5 371.7L156.0 371.7L156.0 371.4L156.5 371.4L156.5 372.1L157.0 372.1L157.0 371.6L157.5 371.6L157.5 371.6L158.0 371.6L158.0 373.1ZM159.5 373.1L159.5 371.3L160.0 371.3L160.0 371.1L160.5 371.1L160.5 372.4L161.0 372.4L161.0 373.1ZM161.5 373.1L161.5 371.8L162.0 371.8L162.0 373.1ZM162.5 373.1L162.5 371.4L163.0 371.4L163.0 372.2L163.5 372.2L163.5 373.1ZM164.0 373.1L164.0 372.2L164.5 372.2L164.5 372.2L165.0 372.2L165.0 372.2L165.5 372.2L165.5 371.1L166.0 371.1L166.0 373.1ZM166.5 373.1L166.5 372.2L167.0 372.2L167.0 371.5L167.5 371.5L167.5 373.1ZM168.5 373.1L168.5 372.0L169.0 372.0L169.0 371.5L169.5 371.5L169.5 371.2L170.0 371.2L170.0 370.2L170.5 370.2L170.5 370.5L171.0 370.5L171.0 365.8L171.5 365.8L171.5 365.6L172.0 365.6L172.0 365.3L172.5 365.3L172.5 365.8L173.0 365.8L173.0 365.9L173.5 365.9L173.5 370.6L174.0 370.6L174.0 370.5L174.5 370.5L174.5 371.9L175.0 371.9L175.0 371.2L175.5 371.2L175.5 372.0L176.0 372.0L176.0 371.9L176.5 371.9L176.5 371.7L177.0 371.7L177.0 373.1ZM177.5 373.1L177.5 372.0L178.0 372.0L178.0 373.1ZM179.0 373.1L179.0 371.9L179.5 371.9L179.5 371.2L180.0 371.2L180.0 372.0L180.5 372.0L180.5 370.2L181.0 370.2L181.0 372.4L181.5 372.4L181.5 371.4L182.0 371.4L182.0 371.4L182.5 371.4L182.5 373.1ZM183.5 373.1L183.5 369.6L184.0 369.6L184.0 373.1ZM184.5 373.1L184.5 372.2L185.0 372.2L185.0 373.1ZM185.5 373.1L185.5 372.3L186.0 372.3L186.0 373.1ZM186.5 373.1L186.5 369.5L187.0 369.5L187.0 371.7L187.5 371.7L187.5 373.1ZM188.5 373.1L188.5 372.2L189.0 372.2L189.0 373.1ZM190.5 373.1L190.5 371.1L191.0 371.1L191.0 372.1L191.5 372.1L191.5 373.1ZM193.0 373.1L193.0 372.2L193.5 372.2L193.5 370.1L194.0 370.1L194.0 370.3L194.5 370.3L194.5 371.3L195.0 371.3L195.0 371.2L195.5 371.2L195.5 371.9L196.0 371.9L196.0 373.1ZM197.0 373.1L197.0 372.3L197.5 372.3L197.5 370.2L198.0 370.2L198.0 373.1ZM199.0 373.1L199.0 372.4L199.5 372.4L199.5 371.5L200.0 371.5L200.0 373.1ZM200.5 373.1L200.5 371.1L201.0 371.1L201.0 373.1ZM202.0 373.1L202.0 371.9L202.5 371.9L202.5 373.1ZM205.5 373.1L205.5 371.4L206.0 371.4L206.0 373.1ZM206.5 373.1L206.5 371.2L207.0 371.2L207.0 369.6L207.5 369.6L207.5 373.1ZM208.5 373.1L208.5 371.4L209.0 371.4L209.0 373.1ZM209.5 373.1L209.5 371.9L210.0 371.9L210.0 370.0L210.5 370.0L210.5 372.3L211.0 372.3L211.0 371.4L211.5 371.4L211.5 373.1ZM212.5 373.1L212.5 371.8L213.0 371.8L213.0 371.5L213.5 371.5L213.5 371.2L214.0 371.2L214.0 373.1ZM214.5 373.1L214.5 371.6L215.0 371.6L215.0 373.1ZM215.5 373.1L215.5 371.2L216.0 371.2L216.0 373.1ZM216.5 373.1L216.5 372.3L217.0 372.3L217.0 370.3L217.5 370.3L217.5 373.1ZM218.0 373.1L218.0 370.1L218.5 370.1L218.5 373.1ZM219.0 373.1L219.0 372.1L219.5 372.1L219.5 370.8L220.0 370.8L220.0 373.1ZM221.0 373.1L221.0 371.8L221.5 371.8L221.5 373.1ZM222.5 373.1L222.5 371.1L223.0 371.1L223.0 369.9L223.5 369.9L223.5 371.7L224.0 371.7L224.0 371.1L224.5 371.1L224.5 373.1ZM225.0 373.1L225.0 371.2L225.5 371.2L225.5 373.1ZM228.0 373.1L228.0 371.3L228.5 371.3L228.5 371.2L229.0 371.2L229.0 373.1ZM230.0 373.1L230.0 371.8L230.5 371.8L230.5 373.1ZM231.5 373.1L231.5 371.5L232.0 371.5L232.0 371.5L232.5 371.5L232.5 371.8L233.0 371.8L233.0 371.7L233.5 371.7L233.5 372.2L234.0 372.2L234.0 371.1L234.5 371.1L234.5 371.6L235.0 371.6L235.0 371.7L235.5 371.7L235.5 371.5L236.0 371.5L236.0 373.1Z" fill="#5b1d66"/>
<line x1="110.0" y1="386.6" x2="236.1" y2="386.6" stroke="#b0a8d8" stroke-opacity="0.7" stroke-width="1.3"/>
<path d="M111.0 386.6L111.0 386.0L111.5 386.0L111.5 385.9L112.0 385.9L112.0 386.6ZM114.5 386.6L114.5 385.2L115.0 385.2L115.0 386.6ZM116.5 386.6L116.5 385.9L117.0 385.9L117.0 386.6ZM121.0 386.6L121.0 386.0L121.5 386.0L121.5 386.6ZM122.0 386.6L122.0 386.0L122.5 386.0L122.5 386.6ZM130.0 386.6L130.0 385.9L130.5 385.9L130.5 385.8L131.0 385.8L131.0 386.6ZM135.5 386.6L135.5 386.3L136.0 386.3L136.0 386.6ZM137.5 386.6L137.5 382.7L138.0 382.7L138.0 383.0L138.5 383.0L138.5 375.9L139.0 375.9L139.0 376.3L139.5 376.3L139.5 375.9L140.0 375.9L140.0 375.8L140.5 375.8L140.5 376.3L141.0 376.3L141.0 383.0L141.5 383.0L141.5 382.5L142.0 382.5L142.0 386.6ZM167.5 386.6L167.5 385.8L168.0 385.8L168.0 386.6ZM171.5 386.6L171.5 385.9L172.0 385.9L172.0 386.6ZM184.0 386.6L184.0 385.8L184.5 385.8L184.5 386.6ZM186.0 386.6L186.0 386.1L186.5 386.1L186.5 386.1L187.0 386.1L187.0 386.6ZM189.0 386.6L189.0 385.9L189.5 385.9L189.5 386.6ZM193.5 386.6L193.5 386.1L194.0 386.1L194.0 386.6ZM198.0 386.6L198.0 385.8L198.5 385.8L198.5 386.6ZM200.5 386.6L200.5 385.9L201.0 385.9L201.0 386.6ZM203.0 386.6L203.0 386.1L203.5 386.1L203.5 386.6ZM206.5 386.6L206.5 386.2L207.0 386.2L207.0 386.6ZM208.0 386.6L208.0 386.1L208.5 386.1L208.5 386.0L209.0 386.0L209.0 386.6ZM218.5 386.6L218.5 385.8L219.0 385.8L219.0 386.0L219.5 386.0L219.5 386.6ZM229.0 386.6L229.0 386.2L229.5 386.2L229.5 386.6Z" fill="#6b4bdf"/>
<line x1="110.0" y1="400.1" x2="236.1" y2="400.1" stroke="#6242c4" stroke-opacity="0.8" stroke-width="1.3"/>
<path d="M112.5 400.1L112.5 399.4L113.0 399.4L113.0 400.1ZM114.0 400.1L114.0 399.4L114.5 399.4L114.5 400.1ZM115.5 400.1L115.5 398.6L116.0 398.6L116.0 400.1ZM117.5 400.1L117.5 399.1L118.0 399.1L118.0 400.1ZM119.0 400.1L119.0 399.1L119.5 399.1L119.5 400.1ZM121.5 400.1L121.5 399.0L122.0 399.0L122.0 399.0L122.5 399.0L122.5 398.6L123.0 398.6L123.0 399.5L123.5 399.5L123.5 400.1ZM125.5 400.1L125.5 399.1L126.0 399.1L126.0 400.1ZM127.5 400.1L127.5 399.7L128.0 399.7L128.0 400.1ZM129.5 400.1L129.5 399.2L130.0 399.2L130.0 400.1ZM130.5 400.1L130.5 399.6L131.0 399.6L131.0 399.2L131.5 399.2L131.5 399.2L132.0 399.2L132.0 399.6L132.5 399.6L132.5 399.3L133.0 399.3L133.0 399.2L133.5 399.2L133.5 400.1ZM134.0 400.1L134.0 399.6L134.5 399.6L134.5 400.1ZM135.5 400.1L135.5 399.3L136.0 399.3L136.0 400.1ZM136.5 400.1L136.5 399.3L137.0 399.3L137.0 399.2L137.5 399.2L137.5 396.2L138.0 396.2L138.0 396.9L138.5 396.9L138.5 389.6L139.0 389.6L139.0 389.7L139.5 389.7L139.5 389.3L140.0 389.3L140.0 389.9L140.5 389.9L140.5 389.4L141.0 389.4L141.0 396.4L141.5 396.4L141.5 396.3L142.0 396.3L142.0 400.1ZM144.0 400.1L144.0 399.2L144.5 399.2L144.5 399.7L145.0 399.7L145.0 400.1ZM145.5 400.1L145.5 399.6L146.0 399.6L146.0 399.6L146.5 399.6L146.5 400.1ZM147.0 400.1L147.0 399.4L147.5 399.4L147.5 399.4L148.0 399.4L148.0 399.0L148.5 399.0L148.5 399.1L149.0 399.1L149.0 400.1ZM149.5 400.1L149.5 399.1L150.0 399.1L150.0 400.1ZM150.5 400.1L150.5 399.3L151.0 399.3L151.0 398.8L151.5 398.8L151.5 400.1ZM152.5 400.1L152.5 399.3L153.0 399.3L153.0 399.1L153.5 399.1L153.5 399.1L154.0 399.1L154.0 399.7L154.5 399.7L154.5 399.5L155.0 399.5L155.0 399.1L155.5 399.1L155.5 399.2L156.0 399.2L156.0 399.7L156.5 399.7L156.5 400.1ZM157.5 400.1L157.5 399.7L158.0 399.7L158.0 399.0L158.5 399.0L158.5 399.7L159.0 399.7L159.0 400.1ZM159.5 400.1L159.5 399.4L160.0 399.4L160.0 400.1ZM160.5 400.1L160.5 399.6L161.0 399.6L161.0 400.1ZM161.5 400.1L161.5 399.2L162.0 399.2L162.0 399.3L162.5 399.3L162.5 400.1ZM163.5 400.1L163.5 399.5L164.0 399.5L164.0 400.1ZM164.5 400.1L164.5 399.3L165.0 399.3L165.0 400.1ZM165.5 400.1L165.5 399.6L166.0 399.6L166.0 400.1ZM167.0 400.1L167.0 399.2L167.5 399.2L167.5 400.1ZM168.0 400.1L168.0 399.4L168.5 399.4L168.5 400.1ZM169.0 400.1L169.0 399.6L169.5 399.6L169.5 399.1L170.0 399.1L170.0 400.1ZM171.0 400.1L171.0 398.5L171.5 398.5L171.5 400.1ZM172.0 400.1L172.0 399.2L172.5 399.2L172.5 399.4L173.0 399.4L173.0 399.6L173.5 399.6L173.5 399.0L174.0 399.0L174.0 399.6L174.5 399.6L174.5 399.2L175.0 399.2L175.0 399.2L175.5 399.2L175.5 399.7L176.0 399.7L176.0 400.1ZM176.5 400.1L176.5 399.4L177.0 399.4L177.0 399.6L177.5 399.6L177.5 399.0L178.0 399.0L178.0 399.3L178.5 399.3L178.5 399.4L179.0 399.4L179.0 399.3L179.5 399.3L179.5 398.2L180.0 398.2L180.0 398.5L180.5 398.5L180.5 399.6L181.0 399.6L181.0 399.6L181.5 399.6L181.5 399.7L182.0 399.7L182.0 400.1ZM182.5 400.1L182.5 399.1L183.0 399.1L183.0 399.6L183.5 399.6L183.5 398.4L184.0 398.4L184.0 400.1ZM184.5 400.1L184.5 399.3L185.0 399.3L185.0 399.7L185.5 399.7L185.5 400.1ZM186.5 400.1L186.5 399.4L187.0 399.4L187.0 399.5L187.5 399.5L187.5 399.5L188.0 399.5L188.0 399.1L188.5 399.1L188.5 399.7L189.0 399.7L189.0 400.1ZM190.0 400.1L190.0 399.4L190.5 399.4L190.5 399.0L191.0 399.0L191.0 400.1ZM192.0 400.1L192.0 399.1L192.5 399.1L192.5 399.0L193.0 399.0L193.0 400.1ZM194.0 400.1L194.0 399.1L194.5 399.1L194.5 399.3L195.0 399.3L195.0 398.5L195.5 398.5L195.5 400.1ZM196.0 400.1L196.0 399.4L196.5 399.4L196.5 400.1ZM197.0 400.1L197.0 399.6L197.5 399.6L197.5 399.4L198.0 399.4L198.0 400.1ZM199.5 400.1L199.5 399.3L200.0 399.3L200.0 399.0L200.5 399.0L200.5 400.1ZM201.5 400.1L201.5 399.1L202.0 399.1L202.0 400.1ZM204.5 400.1L204.5 399.1L205.0 399.1L205.0 399.5L205.5 399.5L205.5 400.1ZM207.0 400.1L207.0 399.6L207.5 399.6L207.5 399.0L208.0 399.0L208.0 399.2L208.5 399.2L208.5 400.1ZM209.0 400.1L209.0 399.1L209.5 399.1L209.5 398.9L210.0 398.9L210.0 398.9L210.5 398.9L210.5 400.1ZM211.0 400.1L211.0 399.7L211.5 399.7L211.5 399.1L212.0 399.1L212.0 399.2L212.5 399.2L212.5 400.1ZM213.0 400.1L213.0 399.5L213.5 399.5L213.5 399.0L214.0 399.0L214.0 398.3L214.5 398.3L214.5 400.1ZM217.0 400.1L217.0 399.3L217.5 399.3L217.5 399.6L218.0 399.6L218.0 400.1ZM221.5 400.1L221.5 399.0L222.0 399.0L222.0 399.5L222.5 399.5L222.5 400.1ZM225.0 400.1L225.0 399.4L225.5 399.4L225.5 399.7L226.0 399.7L226.0 400.1ZM226.5 400.1L226.5 399.2L227.0 399.2L227.0 399.6L227.5 399.6L227.5 399.0L228.0 399.0L228.0 399.1L228.5 399.1L228.5 399.0L229.0 399.0L229.0 398.8L229.5 398.8L229.5 399.4L230.0 399.4L230.0 399.1L230.5 399.1L230.5 400.1ZM231.0 400.1L231.0 399.5L231.5 399.5L231.5 399.2L232.0 399.2L232.0 399.3L232.5 399.3L232.5 399.0L233.0 399.0L233.0 399.7L233.5 399.7L233.5 400.1Z" fill="#6242c4"/>
<line x1="110.0" y1="413.6" x2="236.1" y2="413.6" stroke="#e8683a" stroke-opacity="0.6" stroke-width="1.3"/>
<path d="M110.5 413.6L110.5 413.2L111.0 413.2L111.0 413.6ZM112.0 413.6L112.0 412.9L112.5 412.9L112.5 413.6ZM113.5 413.6L113.5 412.7L114.0 412.7L114.0 412.6L114.5 412.6L114.5 413.6ZM115.0 413.6L115.0 412.9L115.5 412.9L115.5 412.7L116.0 412.7L116.0 412.9L116.5 412.9L116.5 413.6ZM118.5 413.6L118.5 413.0L119.0 413.0L119.0 413.6ZM120.5 413.6L120.5 412.8L121.0 412.8L121.0 413.6ZM122.0 413.6L122.0 413.1L122.5 413.1L122.5 412.0L123.0 412.0L123.0 413.6ZM124.0 413.6L124.0 413.0L124.5 413.0L124.5 413.6ZM126.0 413.6L126.0 412.9L126.5 412.9L126.5 413.6ZM127.5 413.6L127.5 412.9L128.0 412.9L128.0 412.7L128.5 412.7L128.5 413.6ZM130.0 413.6L130.0 413.1L130.5 413.1L130.5 413.6ZM131.0 413.6L131.0 412.7L131.5 412.7L131.5 413.6ZM132.5 413.6L132.5 413.0L133.0 413.0L133.0 413.1L133.5 413.1L133.5 413.6ZM134.0 413.6L134.0 412.7L134.5 412.7L134.5 412.7L135.0 412.7L135.0 412.6L135.5 412.6L135.5 413.3L136.0 413.3L136.0 413.6ZM136.5 413.6L136.5 412.7L137.0 412.7L137.0 413.6ZM138.5 413.6L138.5 412.7L139.0 412.7L139.0 412.8L139.5 412.8L139.5 413.6ZM140.5 413.6L140.5 413.1L141.0 413.1L141.0 412.7L141.5 412.7L141.5 412.8L142.0 412.8L142.0 412.7L142.5 412.7L142.5 413.2L143.0 413.2L143.0 413.6ZM143.5 413.6L143.5 412.7L144.0 412.7L144.0 413.0L144.5 413.0L144.5 413.2L145.0 413.2L145.0 412.2L145.5 412.2L145.5 412.8L146.0 412.8L146.0 412.5L146.5 412.5L146.5 413.1L147.0 413.1L147.0 413.6ZM149.0 413.6L149.0 413.0L149.5 413.0L149.5 412.8L150.0 412.8L150.0 413.1L150.5 413.1L150.5 413.6ZM151.0 413.6L151.0 413.0L151.5 413.0L151.5 413.6ZM152.0 413.6L152.0 412.9L152.5 412.9L152.5 412.7L153.0 412.7L153.0 413.6ZM154.0 413.6L154.0 413.0L154.5 413.0L154.5 413.0L155.0 413.0L155.0 413.6ZM155.5 413.6L155.5 413.2L156.0 413.2L156.0 413.6ZM157.5 413.6L157.5 412.9L158.0 412.9L158.0 413.0L158.5 413.0L158.5 413.6ZM159.5 413.6L159.5 411.8L160.0 411.8L160.0 413.6ZM161.5 413.6L161.5 411.8L162.0 411.8L162.0 413.6ZM163.0 413.6L163.0 412.7L163.5 412.7L163.5 413.6ZM164.0 413.6L164.0 413.0L164.5 413.0L164.5 413.6ZM165.5 413.6L165.5 412.6L166.0 412.6L166.0 413.0L166.5 413.0L166.5 413.6ZM168.0 413.6L168.0 412.9L168.5 412.9L168.5 413.6ZM169.5 413.6L169.5 412.6L170.0 412.6L170.0 413.0L170.5 413.0L170.5 413.6ZM172.0 413.6L172.0 413.1L172.5 413.1L172.5 413.0L173.0 413.0L173.0 413.6ZM173.5 413.6L173.5 413.2L174.0 413.2L174.0 412.7L174.5 412.7L174.5 412.7L175.0 412.7L175.0 413.6ZM176.0 413.6L176.0 413.2L176.5 413.2L176.5 413.6ZM177.0 413.6L177.0 412.6L177.5 412.6L177.5 413.2L178.0 413.2L178.0 413.6ZM178.5 413.6L178.5 413.2L179.0 413.2L179.0 412.8L179.5 412.8L179.5 413.0L180.0 413.0L180.0 413.2L180.5 413.2L180.5 412.8L181.0 412.8L181.0 413.6ZM182.5 413.6L182.5 412.9L183.0 412.9L183.0 413.6ZM184.5 413.6L184.5 410.3L185.0 410.3L185.0 409.2L185.5 409.2L185.5 402.6L186.0 402.6L186.0 402.7L186.5 402.7L186.5 403.5L187.0 403.5L187.0 402.7L187.5 402.7L187.5 402.9L188.0 402.9L188.0 409.8L188.5 409.8L188.5 410.2L189.0 410.2L189.0 413.6ZM190.5 413.6L190.5 411.8L191.0 411.8L191.0 413.6ZM191.5 413.6L191.5 412.9L192.0 412.9L192.0 413.6ZM192.5 413.6L192.5 413.1L193.0 413.1L193.0 413.6ZM194.0 413.6L194.0 413.3L194.5 413.3L194.5 412.4L195.0 412.4L195.0 412.8L195.5 412.8L195.5 413.6ZM196.0 413.6L196.0 412.8L196.5 412.8L196.5 412.9L197.0 412.9L197.0 413.6ZM197.5 413.6L197.5 413.1L198.0 413.1L198.0 413.0L198.5 413.0L198.5 413.6ZM199.0 413.6L199.0 412.1L199.5 412.1L199.5 413.6ZM200.0 413.6L200.0 413.2L200.5 413.2L200.5 413.6ZM201.0 413.6L201.0 412.7L201.5 412.7L201.5 412.8L202.0 412.8L202.0 413.6ZM202.5 413.6L202.5 412.6L203.0 412.6L203.0 413.0L203.5 413.0L203.5 413.0L204.0 413.0L204.0 412.7L204.5 412.7L204.5 412.7L205.0 412.7L205.0 413.2L205.5 413.2L205.5 413.2L206.0 413.2L206.0 413.6ZM206.5 413.6L206.5 413.1L207.0 413.1L207.0 413.6ZM208.0 413.6L208.0 412.6L208.5 412.6L208.5 413.6ZM209.0 413.6L209.0 412.6L209.5 412.6L209.5 413.6ZM210.5 413.6L210.5 412.6L211.0 412.6L211.0 412.8L211.5 412.8L211.5 413.6ZM212.5 413.6L212.5 412.9L213.0 412.9L213.0 412.8L213.5 412.8L213.5 413.6ZM214.0 413.6L214.0 412.1L214.5 412.1L214.5 412.9L215.0 412.9L215.0 413.6ZM215.5 413.6L215.5 412.0L216.0 412.0L216.0 413.6ZM217.0 413.6L217.0 413.1L217.5 413.1L217.5 412.6L218.0 412.6L218.0 412.6L218.5 412.6L218.5 413.6ZM219.5 413.6L219.5 412.9L220.0 412.9L220.0 412.7L220.5 412.7L220.5 413.6ZM221.5 413.6L221.5 411.8L222.0 411.8L222.0 413.6ZM223.0 413.6L223.0 412.8L223.5 412.8L223.5 413.6ZM224.0 413.6L224.0 412.6L224.5 412.6L224.5 413.6ZM225.0 413.6L225.0 412.7L225.5 412.7L225.5 413.6ZM226.0 413.6L226.0 412.4L226.5 412.4L226.5 413.6ZM227.5 413.6L227.5 412.6L228.0 412.6L228.0 413.6ZM228.5 413.6L228.5 412.8L229.0 412.8L229.0 413.6ZM229.5 413.6L229.5 412.6L230.0 412.6L230.0 413.6ZM231.0 413.6L231.0 413.3L231.5 413.3L231.5 413.0L232.0 413.0L232.0 413.6ZM233.0 413.6L233.0 413.2L233.5 413.2L233.5 413.6ZM234.5 413.6L234.5 413.0L235.0 413.0L235.0 412.5L235.5 412.5L235.5 413.6Z" fill="#e8683a"/>
<line x1="110.0" y1="427.1" x2="236.1" y2="427.1" stroke="#c8c0a0" stroke-opacity="0.6" stroke-width="1.3"/>
<path d="M111.5 427.1L111.5 426.6L112.0 426.6L112.0 427.1ZM117.0 427.1L117.0 426.8L117.5 426.8L117.5 426.6L118.0 426.6L118.0 427.1ZM124.0 427.1L124.0 426.8L124.5 426.8L124.5 427.1ZM125.5 427.1L125.5 426.7L126.0 426.7L126.0 427.1ZM128.5 427.1L128.5 426.5L129.0 426.5L129.0 425.7L129.5 425.7L129.5 424.2L130.0 424.2L130.0 422.5L130.5 422.5L130.5 420.4L131.0 420.4L131.0 420.8L131.5 420.8L131.5 420.5L132.0 420.5L132.0 422.3L132.5 422.3L132.5 419.9L133.0 419.9L133.0 417.3L133.5 417.3L133.5 415.3L134.0 415.3L134.0 417.0L134.5 417.0L134.5 419.8L135.0 419.8L135.0 423.4L135.5 423.4L135.5 423.9L136.0 423.9L136.0 422.3L136.5 422.3L136.5 420.9L137.0 420.9L137.0 422.1L137.5 422.1L137.5 423.7L138.0 423.7L138.0 423.6L138.5 423.6L138.5 423.7L139.0 423.7L139.0 423.4L139.5 423.4L139.5 423.5L140.0 423.5L140.0 425.8L140.5 425.8L140.5 424.4L141.0 424.4L141.0 424.1L141.5 424.1L141.5 419.0L142.0 419.0L142.0 418.5L142.5 418.5L142.5 418.5L143.0 418.5L143.0 418.7L143.5 418.7L143.5 418.6L144.0 418.6L144.0 418.7L144.5 418.7L144.5 417.5L145.0 417.5L145.0 418.7L145.5 418.7L145.5 422.4L146.0 422.4L146.0 424.6L146.5 424.6L146.5 422.7L147.0 422.7L147.0 420.4L147.5 420.4L147.5 419.6L148.0 419.6L148.0 420.4L148.5 420.4L148.5 422.7L149.0 422.7L149.0 424.6L149.5 424.6L149.5 423.6L150.0 423.6L150.0 421.6L150.5 421.6L150.5 420.7L151.0 420.7L151.0 421.8L151.5 421.8L151.5 423.0L152.0 423.0L152.0 424.9L152.5 424.9L152.5 424.2L153.0 424.2L153.0 422.7L153.5 422.7L153.5 422.8L154.0 422.8L154.0 423.4L154.5 423.4L154.5 424.4L155.0 424.4L155.0 425.6L155.5 425.6L155.5 425.2L156.0 425.2L156.0 424.6L156.5 424.6L156.5 424.4L157.0 424.4L157.0 424.3L157.5 424.3L157.5 425.2L158.0 425.2L158.0 425.9L158.5 425.9L158.5 425.9L159.0 425.9L159.0 425.6L159.5 425.6L159.5 425.8L160.0 425.8L160.0 426.1L160.5 426.1L160.5 426.6L161.0 426.6L161.0 426.8L161.5 426.8L161.5 427.1ZM164.0 427.1L164.0 426.8L164.5 426.8L164.5 427.1ZM165.0 427.1L165.0 426.7L165.5 426.7L165.5 427.1ZM174.0 427.1L174.0 426.6L174.5 426.6L174.5 427.1ZM176.5 427.1L176.5 426.8L177.0 426.8L177.0 427.1ZM177.5 427.1L177.5 426.7L178.0 426.7L178.0 426.8L178.5 426.8L178.5 427.1ZM184.5 427.1L184.5 426.9L185.0 426.9L185.0 427.1ZM189.5 427.1L189.5 426.6L190.0 426.6L190.0 427.1ZM190.5 427.1L190.5 426.7L191.0 426.7L191.0 427.1ZM192.0 427.1L192.0 426.9L192.5 426.9L192.5 427.1ZM195.0 427.1L195.0 426.2L195.5 426.2L195.5 427.1ZM196.5 427.1L196.5 426.8L197.0 426.8L197.0 427.1ZM197.5 427.1L197.5 426.7L198.0 426.7L198.0 427.1ZM198.5 427.1L198.5 426.3L199.0 426.3L199.0 426.9L199.5 426.9L199.5 427.1ZM202.0 427.1L202.0 426.3L202.5 426.3L202.5 427.1ZM203.0 427.1L203.0 426.7L203.5 426.7L203.5 426.8L204.0 426.8L204.0 427.1ZM204.5 427.1L204.5 426.7L205.0 426.7L205.0 427.1ZM205.5 427.1L205.5 426.7L206.0 426.7L206.0 426.9L206.5 426.9L206.5 426.8L207.0 426.8L207.0 427.1ZM208.5 427.1L208.5 426.8L209.0 426.8L209.0 427.1ZM212.0 427.1L212.0 426.7L212.5 426.7L212.5 427.1ZM214.5 427.1L214.5 426.7L215.0 426.7L215.0 427.1ZM216.5 427.1L216.5 426.7L217.0 426.7L217.0 427.1ZM218.0 427.1L218.0 426.6L218.5 426.6L218.5 427.1ZM227.0 427.1L227.0 426.9L227.5 426.9L227.5 426.7L228.0 426.7L228.0 427.1ZM230.0 427.1L230.0 426.2L230.5 426.2L230.5 426.7L231.0 426.7L231.0 427.1ZM232.5 427.1L232.5 426.9L233.0 426.9L233.0 427.1ZM233.5 427.1L233.5 426.8L234.0 426.8L234.0 426.8L234.5 426.8L234.5 427.1Z" fill="#f6c51d"/>
<line x1="110.0" y1="440.6" x2="236.1" y2="440.6" stroke="#f0922c" stroke-opacity="0.9" stroke-width="1.3"/>
<path d="M110.5 440.6L110.5 437.7L111.0 437.7L111.0 437.9L111.5 437.9L111.5 434.9L112.0 434.9L112.0 438.4L112.5 438.4L112.5 437.3L113.0 437.3L113.0 438.1L113.5 438.1L113.5 438.7L114.0 438.7L114.0 438.7L114.5 438.7L114.5 437.9L115.0 437.9L115.0 436.2L115.5 436.2L115.5 437.2L116.0 437.2L116.0 437.9L116.5 437.9L116.5 438.1L117.0 438.1L117.0 436.4L117.5 436.4L117.5 436.8L118.0 436.8L118.0 438.6L118.5 438.6L118.5 437.5L119.0 437.5L119.0 437.8L119.5 437.8L119.5 436.8L120.0 436.8L120.0 437.4L120.5 437.4L120.5 437.7L121.0 437.7L121.0 436.0L121.5 436.0L121.5 438.7L122.0 438.7L122.0 437.7L122.5 437.7L122.5 437.5L123.0 437.5L123.0 438.4L123.5 438.4L123.5 438.5L124.0 438.5L124.0 437.3L124.5 437.3L124.5 436.2L125.0 436.2L125.0 437.1L125.5 437.1L125.5 436.8L126.0 436.8L126.0 437.4L126.5 437.4L126.5 437.9L127.0 437.9L127.0 437.6L127.5 437.6L127.5 436.6L128.0 436.6L128.0 438.4L128.5 438.4L128.5 438.4L129.0 438.4L129.0 437.2L129.5 437.2L129.5 437.7L130.0 437.7L130.0 438.2L130.5 438.2L130.5 437.3L131.0 437.3L131.0 437.3L131.5 437.3L131.5 438.6L132.0 438.6L132.0 438.4L132.5 438.4L132.5 438.4L133.0 438.4L133.0 435.4L133.5 435.4L133.5 436.4L134.0 436.4L134.0 437.4L134.5 437.4L134.5 438.7L135.0 438.7L135.0 437.5L135.5 437.5L135.5 437.8L136.0 437.8L136.0 437.9L136.5 437.9L136.5 437.6L137.0 437.6L137.0 438.1L137.5 438.1L137.5 436.2L138.0 436.2L138.0 437.5L138.5 437.5L138.5 437.2L139.0 437.2L139.0 431.7L139.5 431.7L139.5 432.2L140.0 432.2L140.0 432.5L140.5 432.5L140.5 431.8L141.0 431.8L141.0 432.0L141.5 432.0L141.5 432.8L142.0 432.8L142.0 433.4L142.5 433.4L142.5 433.0L143.0 433.0L143.0 437.9L143.5 437.9L143.5 437.9L144.0 437.9L144.0 437.8L144.5 437.8L144.5 438.2L145.0 438.2L145.0 438.3L145.5 438.3L145.5 438.3L146.0 438.3L146.0 436.8L146.5 436.8L146.5 435.9L147.0 435.9L147.0 436.3L147.5 436.3L147.5 437.8L148.0 437.8L148.0 438.1L148.5 438.1L148.5 436.6L149.0 436.6L149.0 437.0L149.5 437.0L149.5 436.4L150.0 436.4L150.0 437.2L150.5 437.2L150.5 437.6L151.0 437.6L151.0 436.6L151.5 436.6L151.5 437.5L152.0 437.5L152.0 437.5L152.5 437.5L152.5 437.6L153.0 437.6L153.0 437.9L153.5 437.9L153.5 438.1L154.0 438.1L154.0 437.2L154.5 437.2L154.5 438.0L155.0 438.0L155.0 437.7L155.5 437.7L155.5 436.4L156.0 436.4L156.0 437.5L156.5 437.5L156.5 438.5L157.0 438.5L157.0 438.1L157.5 438.1L157.5 437.3L158.0 437.3L158.0 438.0L158.5 438.0L158.5 436.2L159.0 436.2L159.0 436.4L159.5 436.4L159.5 435.7L160.0 435.7L160.0 438.2L160.5 438.2L160.5 438.0L161.0 438.0L161.0 437.9L161.5 437.9L161.5 436.1L162.0 436.1L162.0 438.0L162.5 438.0L162.5 437.8L163.0 437.8L163.0 437.5L163.5 437.5L163.5 437.7L164.0 437.7L164.0 436.4L164.5 436.4L164.5 437.5L165.0 437.5L165.0 437.3L165.5 437.3L165.5 437.9L166.0 437.9L166.0 438.3L166.5 438.3L166.5 438.2L167.0 438.2L167.0 437.9L167.5 437.9L167.5 437.6L168.0 437.6L168.0 436.5L168.5 436.5L168.5 438.4L169.0 438.4L169.0 438.1L169.5 438.1L169.5 437.8L170.0 437.8L170.0 438.5L170.5 438.5L170.5 438.3L171.0 438.3L171.0 436.2L171.5 436.2L171.5 436.1L172.0 436.1L172.0 436.2L172.5 436.2L172.5 436.2L173.0 436.2L173.0 436.1L173.5 436.1L173.5 436.8L174.0 436.8L174.0 437.5L174.5 437.5L174.5 437.6L175.0 437.6L175.0 435.9L175.5 435.9L175.5 438.2L176.0 438.2L176.0 436.0L176.5 436.0L176.5 436.5L177.0 436.5L177.0 435.9L177.5 435.9L177.5 438.5L178.0 438.5L178.0 437.5L178.5 437.5L178.5 435.7L179.0 435.7L179.0 438.4L179.5 438.4L179.5 438.1L180.0 438.1L180.0 438.7L180.5 438.7L180.5 438.4L181.0 438.4L181.0 438.3L181.5 438.3L181.5 437.8L182.0 437.8L182.0 436.6L182.5 436.6L182.5 437.0L183.0 437.0L183.0 436.4L183.5 436.4L183.5 438.3L184.0 438.3L184.0 438.0L184.5 438.0L184.5 436.1L185.0 436.1L185.0 437.4L185.5 437.4L185.5 437.4L186.0 437.4L186.0 436.3L186.5 436.3L186.5 437.5L187.0 437.5L187.0 437.5L187.5 437.5L187.5 438.1L188.0 438.1L188.0 436.2L188.5 436.2L188.5 437.4L189.0 437.4L189.0 437.4L189.5 437.4L189.5 438.7L190.0 438.7L190.0 438.7L190.5 438.7L190.5 438.4L191.0 438.4L191.0 438.6L191.5 438.6L191.5 437.7L192.0 437.7L192.0 438.4L192.5 438.4L192.5 438.4L193.0 438.4L193.0 436.9L193.5 436.9L193.5 437.5L194.0 437.5L194.0 437.3L194.5 437.3L194.5 438.5L195.0 438.5L195.0 437.9L195.5 437.9L195.5 436.1L196.0 436.1L196.0 438.3L196.5 438.3L196.5 437.6L197.0 437.6L197.0 438.2L197.5 438.2L197.5 437.5L198.0 437.5L198.0 436.4L198.5 436.4L198.5 438.0L199.0 438.0L199.0 438.2L199.5 438.2L199.5 438.8L200.0 438.8L200.0 438.2L200.5 438.2L200.5 437.7L201.0 437.7L201.0 438.0L201.5 438.0L201.5 435.8L202.0 435.8L202.0 436.5L202.5 436.5L202.5 435.8L203.0 435.8L203.0 437.9L203.5 437.9L203.5 437.0L204.0 437.0L204.0 438.2L204.5 438.2L204.5 438.3L205.0 438.3L205.0 437.4L205.5 437.4L205.5 438.6L206.0 438.6L206.0 437.6L206.5 437.6L206.5 437.9L207.0 437.9L207.0 436.4L207.5 436.4L207.5 438.0L208.0 438.0L208.0 437.0L208.5 437.0L208.5 438.4L209.0 438.4L209.0 437.6L209.5 437.6L209.5 437.2L210.0 437.2L210.0 435.6L210.5 435.6L210.5 437.3L211.0 437.3L211.0 437.5L211.5 437.5L211.5 437.2L212.0 437.2L212.0 437.5L212.5 437.5L212.5 438.2L213.0 438.2L213.0 437.4L213.5 437.4L213.5 437.7L214.0 437.7L214.0 436.7L214.5 436.7L214.5 438.0L215.0 438.0L215.0 437.1L215.5 437.1L215.5 436.4L216.0 436.4L216.0 437.6L216.5 437.6L216.5 438.2L217.0 438.2L217.0 438.1L217.5 438.1L217.5 438.1L218.0 438.1L218.0 438.2L218.5 438.2L218.5 436.0L219.0 436.0L219.0 437.4L219.5 437.4L219.5 438.6L220.0 438.6L220.0 438.3L220.5 438.3L220.5 436.9L221.0 436.9L221.0 437.4L221.5 437.4L221.5 437.5L222.0 437.5L222.0 436.2L222.5 436.2L222.5 437.5L223.0 437.5L223.0 438.0L223.5 438.0L223.5 438.7L224.0 438.7L224.0 436.7L224.5 436.7L224.5 438.6L225.0 438.6L225.0 436.6L225.5 436.6L225.5 438.3L226.0 438.3L226.0 436.5L226.5 436.5L226.5 435.9L227.0 435.9L227.0 436.1L227.5 436.1L227.5 438.0L228.0 438.0L228.0 438.2L228.5 438.2L228.5 438.5L229.0 438.5L229.0 438.3L229.5 438.3L229.5 437.1L230.0 437.1L230.0 438.7L230.5 438.7L230.5 437.0L231.0 437.0L231.0 437.2L231.5 437.2L231.5 437.7L232.0 437.7L232.0 438.4L232.5 438.4L232.5 437.9L233.0 437.9L233.0 438.0L233.5 438.0L233.5 436.3L234.0 436.3L234.0 434.7L234.5 434.7L234.5 438.0L235.0 438.0L235.0 438.7L235.5 438.7L235.5 437.3L236.0 437.3L236.0 440.6Z" fill="#f0922c"/>
<rect x="138.4" y="280.5" width="2.9" height="160.7" fill="#a0a0a0" fill-opacity="0.33"/>
<rect x="171.0" y="280.5" width="2.6" height="160.7" fill="#a0a0a0" fill-opacity="0.33"/>
<rect x="185.5" y="280.5" width="2.5" height="160.7" fill="#a0a0a0" fill-opacity="0.33"/>
<rect x="109.5" y="231.5" width="127.1" height="209.7" fill="none" stroke="#5a5a5a" stroke-width="1"/>
<rect x="287.6" y="233.0" width="127.7" height="207.1" fill="#f9f9f9"/>
<line x1="287.6" y1="253.4" x2="415.3" y2="253.4" stroke="#dedede" stroke-width="0.8"/>
<line x1="287.6" y1="266.9" x2="415.3" y2="266.9" stroke="#dedede" stroke-width="0.8"/>
<line x1="287.6" y1="281.6" x2="415.3" y2="281.6" stroke="#dedede" stroke-width="0.8"/>
<line x1="287.6" y1="293.1" x2="415.3" y2="293.1" stroke="#ffffff" stroke-width="1"/>
<line x1="287.6" y1="306.4" x2="415.3" y2="306.4" stroke="#ffffff" stroke-width="1"/>
<line x1="287.6" y1="319.8" x2="415.3" y2="319.8" stroke="#ffffff" stroke-width="1"/>
<line x1="287.6" y1="333.1" x2="415.3" y2="333.1" stroke="#ffffff" stroke-width="1"/>
<line x1="287.6" y1="346.4" x2="415.3" y2="346.4" stroke="#ffffff" stroke-width="1"/>
<line x1="287.6" y1="359.8" x2="415.3" y2="359.8" stroke="#ffffff" stroke-width="1"/>
<line x1="287.6" y1="373.1" x2="415.3" y2="373.1" stroke="#ffffff" stroke-width="1"/>
<line x1="287.6" y1="386.4" x2="415.3" y2="386.4" stroke="#ffffff" stroke-width="1"/>
<line x1="287.6" y1="399.7" x2="415.3" y2="399.7" stroke="#ffffff" stroke-width="1"/>
<line x1="287.6" y1="413.1" x2="415.3" y2="413.1" stroke="#ffffff" stroke-width="1"/>
<line x1="287.6" y1="426.4" x2="415.3" y2="426.4" stroke="#ffffff" stroke-width="1"/>
<line x1="288.1" y1="279.7" x2="414.8" y2="279.7" stroke="#bbbbcc" stroke-opacity="0.6" stroke-width="1.3"/>
<path d="M291.1 279.7L291.1 279.4L291.6 279.4L291.6 279.3L292.1 279.3L292.1 278.7L292.6 278.7L292.6 278.6L293.1 278.6L293.1 278.6L293.6 278.6L293.6 278.6L294.1 278.6L294.1 279.3L294.6 279.3L294.6 279.4L295.1 279.4L295.1 279.7ZM318.1 279.7L318.1 276.7L318.6 276.7L318.6 276.9L319.1 276.9L319.1 270.9L319.6 270.9L319.6 271.3L320.1 271.3L320.1 271.3L320.6 271.3L320.6 271.4L321.1 271.4L321.1 274.1L321.6 274.1L321.6 274.5L322.1 274.5L322.1 276.6L322.6 276.6L322.6 276.6L323.1 276.6L323.1 276.4L323.6 276.4L323.6 276.5L324.1 276.5L324.1 276.7L324.6 276.7L324.6 278.6L325.1 278.6L325.1 277.5L325.6 277.5L325.6 277.6L326.1 277.6L326.1 277.6L326.6 277.6L326.6 277.6L327.1 277.6L327.1 277.7L327.6 277.7L327.6 278.9L328.1 278.9L328.1 278.9L328.6 278.9L328.6 279.7ZM351.1 279.7L351.1 279.4L351.6 279.4L351.6 279.4L352.1 279.4L352.1 278.8L352.6 278.8L352.6 278.9L353.1 278.9L353.1 278.9L353.6 278.9L353.6 278.9L354.1 278.9L354.1 279.4L354.6 279.4L354.6 279.4L355.1 279.4L355.1 279.7ZM364.1 279.7L364.1 279.4L364.6 279.4L364.6 279.4L365.1 279.4L365.1 278.8L365.6 278.8L365.6 278.9L366.1 278.9L366.1 278.8L366.6 278.8L366.6 278.9L367.1 278.9L367.1 279.4L367.6 279.4L367.6 279.4L368.1 279.4L368.1 279.7ZM373.1 279.7L373.1 279.4L373.6 279.4L373.6 279.4L374.1 279.4L374.1 278.8L374.6 278.8L374.6 278.9L375.1 278.9L375.1 278.9L375.6 278.9L375.6 278.8L376.1 278.8L376.1 279.3L376.6 279.3L376.6 279.4L377.1 279.4L377.1 279.7Z" fill="#1a2db5"/>
<path d="M296.1 282.7L296.1 283.4L296.6 283.4L296.6 286.0L297.1 286.0L297.1 286.0L297.6 286.0L297.6 286.6L298.1 286.6L298.1 292.5L298.6 292.5L298.6 291.9L299.1 291.9L299.1 292.5L299.6 292.5L299.6 291.8L300.1 291.8L300.1 286.1L300.6 286.1L300.6 285.8L301.1 285.8L301.1 284.7L301.6 284.7L301.6 284.4L302.1 284.4L302.1 287.8L302.6 287.8L302.6 288.1L303.1 288.1L303.1 288.1L303.6 288.1L303.6 287.7L304.1 287.7L304.1 284.8L304.6 284.8L304.6 284.9L305.1 284.9L305.1 283.4L305.6 283.4L305.6 283.4L306.1 283.4L306.1 283.6L306.6 283.6L306.6 283.7L307.1 283.7L307.1 283.2L307.6 283.2L307.6 284.8L308.1 284.8L308.1 284.8L308.6 284.8L308.6 283.4L309.1 283.4L309.1 283.5L309.6 283.5L309.6 283.2L310.1 283.2L310.1 283.5L310.6 283.5L310.6 283.3L311.1 283.3L311.1 283.9L311.6 283.9L311.6 283.5L312.1 283.5L312.1 283.2L312.6 283.2L312.6 284.9L313.1 284.9L313.1 284.9L313.6 284.9L313.6 283.2L314.1 283.2L314.1 283.5L314.6 283.5L314.6 284.8L315.1 284.8L315.1 285.5L315.6 285.5L315.6 285.4L316.1 285.4L316.1 290.4L316.6 290.4L316.6 290.1L317.1 290.1L317.1 289.8L317.6 289.8L317.6 290.2L318.1 290.2L318.1 285.3L318.6 285.3L318.6 285.2L319.1 285.2L319.1 283.5L319.6 283.5L319.6 283.6L320.1 283.6L320.1 282.7Z" fill="#ec3f1f"/>
<line x1="288.1" y1="306.3" x2="414.8" y2="306.3" stroke="#8a8aee" stroke-opacity="0.85" stroke-width="1.3"/>
<path d="M288.6 306.3L288.6 305.6L289.1 305.6L289.1 305.0L289.6 305.0L289.6 305.6L290.1 305.6L290.1 306.0L290.6 306.0L290.6 306.3ZM291.6 306.3L291.6 306.0L292.1 306.0L292.1 305.6L292.6 305.6L292.6 306.3ZM293.1 306.3L293.1 305.1L293.6 305.1L293.6 306.3ZM294.1 306.3L294.1 305.7L294.6 305.7L294.6 305.7L295.1 305.7L295.1 306.3ZM295.6 306.3L295.6 305.8L296.1 305.8L296.1 302.3L296.6 302.3L296.6 302.9L297.1 302.9L297.1 302.2L297.6 302.2L297.6 302.8L298.1 302.8L298.1 302.5L298.6 302.5L298.6 302.6L299.1 302.6L299.1 302.1L299.6 302.1L299.6 302.1L300.1 302.1L300.1 301.1L300.6 301.1L300.6 299.8L301.1 299.8L301.1 299.2L301.6 299.2L301.6 299.7L302.1 299.7L302.1 302.1L302.6 302.1L302.6 302.6L303.1 302.6L303.1 302.1L303.6 302.1L303.6 303.0L304.1 303.0L304.1 302.5L304.6 302.5L304.6 302.3L305.1 302.3L305.1 302.3L305.6 302.3L305.6 300.7L306.1 300.7L306.1 300.4L306.6 300.4L306.6 301.5L307.1 301.5L307.1 302.7L307.6 302.7L307.6 301.0L308.1 301.0L308.1 302.3L308.6 302.3L308.6 302.4L309.1 302.4L309.1 302.3L309.6 302.3L309.6 302.7L310.1 302.7L310.1 302.8L310.6 302.8L310.6 302.2L311.1 302.2L311.1 302.1L311.6 302.1L311.6 301.1L312.1 301.1L312.1 300.6L312.6 300.6L312.6 300.9L313.1 300.9L313.1 302.8L313.6 302.8L313.6 302.7L314.1 302.7L314.1 302.3L314.6 302.3L314.6 303.0L315.1 303.0L315.1 302.5L315.6 302.5L315.6 302.4L316.1 302.4L316.1 301.0L316.6 301.0L316.6 302.5L317.1 302.5L317.1 300.9L317.6 300.9L317.6 299.5L318.1 299.5L318.1 298.7L318.6 298.7L318.6 299.8L319.1 299.8L319.1 301.7L319.6 301.7L319.6 302.7L320.1 302.7L320.1 302.8L320.6 302.8L320.6 302.2L321.1 302.2L321.1 302.8L321.6 302.8L321.6 302.4L322.1 302.4L322.1 302.1L322.6 302.1L322.6 301.0L323.1 301.0L323.1 300.9L323.6 300.9L323.6 301.2L324.1 301.2L324.1 302.6L324.6 302.6L324.6 302.4L325.1 302.4L325.1 302.5L325.6 302.5L325.6 302.7L326.1 302.7L326.1 302.2L326.6 302.2L326.6 302.4L327.1 302.4L327.1 302.6L327.6 302.6L327.6 302.6L328.1 302.6L328.1 302.3L328.6 302.3L328.6 302.6L329.1 302.6L329.1 305.6L329.6 305.6L329.6 306.3ZM330.6 306.3L330.6 306.0L331.1 306.0L331.1 306.0L331.6 306.0L331.6 306.0L332.1 306.0L332.1 305.7L332.6 305.7L332.6 305.7L333.1 305.7L333.1 302.6L333.6 302.6L333.6 302.6L334.1 302.6L334.1 302.2L334.6 302.2L334.6 302.5L335.1 302.5L335.1 302.6L335.6 302.6L335.6 302.4L336.1 302.4L336.1 302.8L336.6 302.8L336.6 302.5L337.1 302.5L337.1 303.0L337.6 303.0L337.6 302.6L338.1 302.6L338.1 302.2L338.6 302.2L338.6 302.3L339.1 302.3L339.1 302.4L339.6 302.4L339.6 303.0L340.1 303.0L340.1 302.9L340.6 302.9L340.6 302.6L341.1 302.6L341.1 302.3L341.6 302.3L341.6 301.4L342.1 301.4L342.1 299.6L342.6 299.6L342.6 299.5L343.1 299.5L343.1 298.5L343.6 298.5L343.6 299.4L344.1 299.4L344.1 300.0L344.6 300.0L344.6 301.4L345.1 301.4L345.1 302.8L345.6 302.8L345.6 302.9L346.1 302.9L346.1 302.3L346.6 302.3L346.6 302.2L347.1 302.2L347.1 302.4L347.6 302.4L347.6 302.2L348.1 302.2L348.1 302.6L348.6 302.6L348.6 302.2L349.1 302.2L349.1 300.0L349.6 300.0L349.6 298.6L350.1 298.6L350.1 298.1L350.6 298.1L350.6 299.0L351.1 299.0L351.1 301.3L351.6 301.3L351.6 302.8L352.1 302.8L352.1 302.6L352.6 302.6L352.6 301.6L353.1 301.6L353.1 303.0L353.6 303.0L353.6 301.6L354.1 301.6L354.1 298.7L354.6 298.7L354.6 294.7L355.1 294.7L355.1 294.3L355.6 294.3L355.6 294.3L356.1 294.3L356.1 294.4L356.6 294.4L356.6 299.4L357.1 299.4L357.1 298.4L357.6 298.4L357.6 296.1L358.1 296.1L358.1 296.4L358.6 296.4L358.6 296.8L359.1 296.8L359.1 299.8L359.6 299.8L359.6 302.8L360.1 302.8L360.1 302.5L360.6 302.5L360.6 302.2L361.1 302.2L361.1 300.9L361.6 300.9L361.6 299.4L362.1 299.4L362.1 299.2L362.6 299.2L362.6 300.1L363.1 300.1L363.1 301.9L363.6 301.9L363.6 302.2L364.1 302.2L364.1 302.4L364.6 302.4L364.6 302.2L365.1 302.2L365.1 302.6L365.6 302.6L365.6 302.2L366.1 302.2L366.1 300.7L366.6 300.7L366.6 299.8L367.1 299.8L367.1 298.7L367.6 298.7L367.6 300.1L368.1 300.1L368.1 301.6L368.6 301.6L368.6 302.7L369.1 302.7L369.1 302.3L369.6 302.3L369.6 300.5L370.1 300.5L370.1 296.3L370.6 296.3L370.6 294.3L371.1 294.3L371.1 294.3L371.6 294.3L371.6 295.2L372.1 295.2L372.1 298.4L372.6 298.4L372.6 301.5L373.1 301.5L373.1 298.7L373.6 298.7L373.6 296.8L374.1 296.8L374.1 296.9L374.6 296.9L374.6 297.7L375.1 297.7L375.1 300.0L375.6 300.0L375.6 300.7L376.1 300.7L376.1 298.5L376.6 298.5L376.6 294.7L377.1 294.7L377.1 295.5L377.6 295.5L377.6 296.2L378.1 296.2L378.1 299.1L378.6 299.1L378.6 302.2L379.1 302.2L379.1 302.4L379.6 302.4L379.6 302.5L380.1 302.5L380.1 300.7L380.6 300.7L380.6 299.4L381.1 299.4L381.1 298.8L381.6 298.8L381.6 300.1L382.1 300.1L382.1 302.0L382.6 302.0L382.6 302.0L383.1 302.0L383.1 302.6L383.6 302.6L383.6 302.5L384.1 302.5L384.1 302.3L384.6 302.3L384.6 302.8L385.1 302.8L385.1 303.0L385.6 303.0L385.6 302.5L386.1 302.5L386.1 302.6L386.6 302.6L386.6 302.1L387.1 302.1L387.1 303.0L387.6 303.0L387.6 302.4L388.1 302.4L388.1 302.1L388.6 302.1L388.6 302.1L389.1 302.1L389.1 302.5L389.6 302.5L389.6 298.7L390.1 298.7L390.1 298.5L390.6 298.5L390.6 298.9L391.1 298.9L391.1 298.6L391.6 298.6L391.6 299.2L392.1 299.2L392.1 302.7L392.6 302.7L392.6 301.2L393.1 301.2L393.1 302.6L393.6 302.6L393.6 301.5L394.1 301.5L394.1 302.7L394.6 302.7L394.6 302.4L395.1 302.4L395.1 302.9L395.6 302.9L395.6 302.4L396.1 302.4L396.1 305.3L396.6 305.3L396.6 305.4L397.1 305.4L397.1 305.2L397.6 305.2L397.6 305.2L398.1 305.2L398.1 305.4L398.6 305.4L398.6 305.4L399.1 305.4L399.1 305.3L399.6 305.3L399.6 305.4L400.1 305.4L400.1 305.2L400.6 305.2L400.6 305.2L401.1 305.2L401.1 305.3L401.6 305.3L401.6 305.4L402.1 305.4L402.1 305.0L402.6 305.0L402.6 305.4L403.1 305.4L403.1 305.4L403.6 305.4L403.6 305.3L404.1 305.3L404.1 305.4L404.6 305.4L404.6 304.9L405.1 304.9L405.1 305.4L405.6 305.4L405.6 305.4L406.1 305.4L406.1 305.3L406.6 305.3L406.6 305.4L407.1 305.4L407.1 305.3L407.6 305.3L407.6 305.3L408.1 305.3L408.1 305.2L408.6 305.2L408.6 305.2L409.1 305.2L409.1 305.2L409.6 305.2L409.6 305.3L410.1 305.3L410.1 305.4L410.6 305.4L410.6 305.1L411.1 305.1L411.1 305.2L411.6 305.2L411.6 305.3L412.1 305.3L412.1 305.3L412.6 305.3L412.6 305.3L413.1 305.3L413.1 305.3L413.6 305.3L413.6 305.3L414.1 305.3L414.1 305.3L414.6 305.3L414.6 306.3Z" fill="#8a8aee"/>
<line x1="288.1" y1="319.6" x2="414.8" y2="319.6" stroke="#4db4dc" stroke-opacity="0.5" stroke-width="1.3"/>
<path d="M289.6 319.6L289.6 318.8L290.1 318.8L290.1 319.6ZM295.6 319.6L295.6 318.6L296.1 318.6L296.1 319.6ZM298.1 319.6L298.1 318.8L298.6 318.8L298.6 318.9L299.1 318.9L299.1 317.5L299.6 317.5L299.6 317.6L300.1 317.6L300.1 317.5L300.6 317.5L300.6 317.5L301.1 317.5L301.1 318.9L301.6 318.9L301.6 318.8L302.1 318.8L302.1 319.6ZM303.1 319.6L303.1 318.9L303.6 318.9L303.6 319.0L304.1 319.0L304.1 317.6L304.6 317.6L304.6 317.5L305.1 317.5L305.1 317.6L305.6 317.6L305.6 317.5L306.1 317.5L306.1 318.8L306.6 318.8L306.6 318.8L307.1 318.8L307.1 319.6ZM308.1 319.6L308.1 318.8L308.6 318.8L308.6 318.8L309.1 318.8L309.1 317.4L309.6 317.4L309.6 317.6L310.1 317.6L310.1 317.4L310.6 317.4L310.6 317.4L311.1 317.4L311.1 318.8L311.6 318.8L311.6 318.8L312.1 318.8L312.1 319.6ZM312.6 319.6L312.6 318.7L313.1 318.7L313.1 319.6ZM313.6 319.6L313.6 318.5L314.1 318.5L314.1 318.7L314.6 318.7L314.6 319.6ZM315.1 319.6L315.1 318.6L315.6 318.6L315.6 319.6ZM316.1 319.6L316.1 318.5L316.6 318.5L316.6 318.5L317.1 318.5L317.1 316.6L317.6 316.6L317.6 316.4L318.1 316.4L318.1 316.4L318.6 316.4L318.6 316.3L319.1 316.3L319.1 318.3L319.6 318.3L319.6 318.5L320.1 318.5L320.1 319.6ZM320.6 319.6L320.6 318.7L321.1 318.7L321.1 319.6ZM321.6 319.6L321.6 318.9L322.1 318.9L322.1 317.0L322.6 317.0L322.6 317.4L323.1 317.4L323.1 313.6L323.6 313.6L323.6 313.3L324.1 313.3L324.1 313.2L324.6 313.2L324.6 313.1L325.1 313.1L325.1 313.4L325.6 313.4L325.6 317.7L326.1 317.7L326.1 317.2L326.6 317.2L326.6 318.7L327.1 318.7L327.1 319.6ZM330.6 319.6L330.6 318.5L331.1 318.5L331.1 319.6ZM331.6 319.6L331.6 319.2L332.1 319.2L332.1 318.9L332.6 318.9L332.6 319.6ZM334.1 319.6L334.1 319.2L334.6 319.2L334.6 318.7L335.1 318.7L335.1 319.6ZM337.6 319.6L337.6 319.2L338.1 319.2L338.1 319.6ZM341.1 319.6L341.1 318.5L341.6 318.5L341.6 319.6ZM343.1 319.6L343.1 318.9L343.6 318.9L343.6 318.8L344.1 318.8L344.1 317.5L344.6 317.5L344.6 317.6L345.1 317.6L345.1 317.5L345.6 317.5L345.6 317.4L346.1 317.4L346.1 318.9L346.6 318.9L346.6 318.6L347.1 318.6L347.1 319.6ZM347.6 319.6L347.6 319.2L348.1 319.2L348.1 319.6ZM350.6 319.6L350.6 317.1L351.1 317.1L351.1 317.0L351.6 317.0L351.6 311.0L352.1 311.0L352.1 311.0L352.6 311.0L352.6 311.0L353.1 311.0L353.1 310.7L353.6 310.7L353.6 316.9L354.1 316.9L354.1 317.1L354.6 317.1L354.6 319.6ZM356.1 319.6L356.1 318.9L356.6 318.9L356.6 319.6ZM362.6 319.6L362.6 319.0L363.1 319.0L363.1 318.6L363.6 318.6L363.6 317.3L364.1 317.3L364.1 317.5L364.6 317.5L364.6 313.3L365.1 313.3L365.1 313.3L365.6 313.3L365.6 313.0L366.1 313.0L366.1 313.4L366.6 313.4L366.6 313.1L367.1 313.1L367.1 314.5L367.6 314.5L367.6 314.2L368.1 314.2L368.1 314.2L368.6 314.2L368.6 317.8L369.1 317.8L369.1 318.0L369.6 318.0L369.6 319.6ZM373.6 319.6L373.6 318.1L374.1 318.1L374.1 318.2L374.6 318.2L374.6 315.4L375.1 315.4L375.1 315.3L375.6 315.3L375.6 315.6L376.1 315.6L376.1 315.6L376.6 315.6L376.6 317.9L377.1 317.9L377.1 317.9L377.6 317.9L377.6 319.0L378.1 319.0L378.1 319.6ZM378.6 319.6L378.6 319.2L379.1 319.2L379.1 319.6ZM382.1 319.6L382.1 318.8L382.6 318.8L382.6 318.0L383.1 318.0L383.1 319.0L383.6 319.0L383.6 318.9L384.1 318.9L384.1 317.5L384.6 317.5L384.6 317.4L385.1 317.4L385.1 317.5L385.6 317.5L385.6 317.4L386.1 317.4L386.1 319.0L386.6 319.0L386.6 318.8L387.1 318.8L387.1 319.6ZM387.6 319.6L387.6 318.5L388.1 318.5L388.1 319.0L388.6 319.0L388.6 318.8L389.1 318.8L389.1 317.4L389.6 317.4L389.6 317.5L390.1 317.5L390.1 317.4L390.6 317.4L390.6 317.5L391.1 317.5L391.1 318.7L391.6 318.7L391.6 318.8L392.1 318.8L392.1 318.9L392.6 318.9L392.6 318.5L393.1 318.5L393.1 318.5L393.6 318.5L393.6 319.6ZM394.1 319.6L394.1 318.9L394.6 318.9L394.6 319.6ZM396.1 319.6L396.1 318.9L396.6 318.9L396.6 319.6ZM398.6 319.6L398.6 318.8L399.1 318.8L399.1 318.6L399.6 318.6L399.6 319.6ZM401.6 319.6L401.6 319.2L402.1 319.2L402.1 319.6ZM403.6 319.6L403.6 319.1L404.1 319.1L404.1 319.6ZM404.6 319.6L404.6 318.5L405.1 318.5L405.1 319.1L405.6 319.1L405.6 319.6ZM406.1 319.6L406.1 318.5L406.6 318.5L406.6 319.6ZM408.1 319.6L408.1 319.0L408.6 319.0L408.6 318.5L409.1 318.5L409.1 319.6ZM409.6 319.6L409.6 318.9L410.1 318.9L410.1 319.6ZM410.6 319.6L410.6 319.3L411.1 319.3L411.1 319.6ZM411.6 319.6L411.6 319.1L412.1 319.1L412.1 318.6L412.6 318.6L412.6 319.6ZM413.1 319.6L413.1 318.8L413.6 318.8L413.6 318.7L414.1 318.7L414.1 319.1L414.6 319.1L414.6 319.6Z" fill="#4db4dc"/>
<line x1="288.1" y1="333.0" x2="414.8" y2="333.0" stroke="#a01a3e" stroke-opacity="0.9" stroke-width="1.3"/>
<path d="M288.6 333.0L288.6 332.0L289.1 332.0L289.1 332.3L289.6 332.3L289.6 333.0ZM290.6 333.0L290.6 332.2L291.1 332.2L291.1 331.9L291.6 331.9L291.6 333.0ZM293.1 333.0L293.1 332.3L293.6 332.3L293.6 333.0ZM295.1 333.0L295.1 331.8L295.6 331.8L295.6 331.8L296.1 331.8L296.1 333.0ZM296.6 333.0L296.6 332.5L297.1 332.5L297.1 332.4L297.6 332.4L297.6 332.4L298.1 332.4L298.1 332.3L298.6 332.3L298.6 333.0ZM299.1 333.0L299.1 331.5L299.6 331.5L299.6 332.1L300.1 332.1L300.1 331.9L300.6 331.9L300.6 333.0ZM302.1 333.0L302.1 332.1L302.6 332.1L302.6 333.0ZM303.1 333.0L303.1 332.4L303.6 332.4L303.6 333.0ZM304.6 333.0L304.6 332.6L305.1 332.6L305.1 333.0ZM305.6 333.0L305.6 332.2L306.1 332.2L306.1 333.0ZM306.6 333.0L306.6 332.1L307.1 332.1L307.1 333.0ZM308.1 333.0L308.1 332.1L308.6 332.1L308.6 333.0ZM309.6 333.0L309.6 332.0L310.1 332.0L310.1 332.5L310.6 332.5L310.6 332.4L311.1 332.4L311.1 332.3L311.6 332.3L311.6 333.0ZM312.6 333.0L312.6 332.1L313.1 332.1L313.1 333.0ZM314.1 333.0L314.1 332.4L314.6 332.4L314.6 331.9L315.1 331.9L315.1 331.4L315.6 331.4L315.6 333.0ZM316.1 333.0L316.1 332.1L316.6 332.1L316.6 333.0ZM317.6 333.0L317.6 332.1L318.1 332.1L318.1 333.0ZM318.6 333.0L318.6 332.0L319.1 332.0L319.1 333.0ZM319.6 333.0L319.6 332.4L320.1 332.4L320.1 332.3L320.6 332.3L320.6 333.0ZM322.1 333.0L322.1 332.5L322.6 332.5L322.6 332.4L323.1 332.4L323.1 333.0ZM323.6 333.0L323.6 332.4L324.1 332.4L324.1 333.0ZM324.6 333.0L324.6 332.2L325.1 332.2L325.1 331.4L325.6 331.4L325.6 333.0ZM326.6 333.0L326.6 332.4L327.1 332.4L327.1 333.0ZM328.6 333.0L328.6 332.3L329.1 332.3L329.1 331.8L329.6 331.8L329.6 333.0ZM330.6 333.0L330.6 332.2L331.1 332.2L331.1 333.0ZM332.1 333.0L332.1 332.2L332.6 332.2L332.6 333.0ZM333.6 333.0L333.6 332.4L334.1 332.4L334.1 332.2L334.6 332.2L334.6 331.4L335.1 331.4L335.1 333.0ZM336.1 333.0L336.1 331.9L336.6 331.9L336.6 332.0L337.1 332.0L337.1 333.0ZM338.1 333.0L338.1 332.6L338.6 332.6L338.6 333.0ZM339.6 333.0L339.6 331.9L340.1 331.9L340.1 333.0ZM341.1 333.0L341.1 332.5L341.6 332.5L341.6 333.0ZM342.6 333.0L342.6 331.9L343.1 331.9L343.1 332.4L343.6 332.4L343.6 333.0ZM344.1 333.0L344.1 332.4L344.6 332.4L344.6 332.6L345.1 332.6L345.1 333.0ZM345.6 333.0L345.6 332.6L346.1 332.6L346.1 333.0ZM348.6 333.0L348.6 332.3L349.1 332.3L349.1 332.0L349.6 332.0L349.6 333.0ZM350.6 333.0L350.6 328.8L351.1 328.8L351.1 328.7L351.6 328.7L351.6 321.8L352.1 321.8L352.1 322.5L352.6 322.5L352.6 321.9L353.1 321.9L353.1 322.9L353.6 322.9L353.6 327.5L354.1 327.5L354.1 327.8L354.6 327.8L354.6 331.2L355.1 331.2L355.1 330.9L355.6 330.9L355.6 331.8L356.1 331.8L356.1 332.3L356.6 332.3L356.6 332.4L357.1 332.4L357.1 331.8L357.6 331.8L357.6 333.0ZM359.6 333.0L359.6 331.5L360.1 331.5L360.1 332.3L360.6 332.3L360.6 333.0ZM361.1 333.0L361.1 332.4L361.6 332.4L361.6 333.0ZM363.1 333.0L363.1 332.2L363.6 332.2L363.6 330.3L364.1 330.3L364.1 330.7L364.6 330.7L364.6 325.7L365.1 325.7L365.1 325.2L365.6 325.2L365.6 325.7L366.1 325.7L366.1 325.7L366.6 325.7L366.6 330.3L367.1 330.3L367.1 329.9L367.6 329.9L367.6 333.0ZM369.1 333.0L369.1 331.8L369.6 331.8L369.6 333.0ZM370.6 333.0L370.6 331.4L371.1 331.4L371.1 333.0ZM371.6 333.0L371.6 332.3L372.1 332.3L372.1 333.0ZM373.1 333.0L373.1 332.0L373.6 332.0L373.6 331.7L374.1 331.7L374.1 331.9L374.6 331.9L374.6 329.7L375.1 329.7L375.1 329.9L375.6 329.9L375.6 329.9L376.1 329.9L376.1 329.8L376.6 329.8L376.6 329.7L377.1 329.7L377.1 332.0L377.6 332.0L377.6 332.0L378.1 332.0L378.1 333.0ZM379.6 333.0L379.6 332.0L380.1 332.0L380.1 333.0ZM381.1 333.0L381.1 331.9L381.6 331.9L381.6 333.0ZM382.1 333.0L382.1 331.7L382.6 331.7L382.6 331.8L383.1 331.8L383.1 333.0ZM385.1 333.0L385.1 332.0L385.6 332.0L385.6 333.0ZM386.6 333.0L386.6 331.8L387.1 331.8L387.1 332.1L387.6 332.1L387.6 331.9L388.1 331.9L388.1 333.0ZM388.6 333.0L388.6 332.2L389.1 332.2L389.1 333.0ZM390.1 333.0L390.1 332.3L390.6 332.3L390.6 332.0L391.1 332.0L391.1 332.3L391.6 332.3L391.6 333.0ZM392.1 333.0L392.1 332.3L392.6 332.3L392.6 333.0ZM393.1 333.0L393.1 332.3L393.6 332.3L393.6 332.2L394.1 332.2L394.1 332.2L394.6 332.2L394.6 333.0ZM395.1 333.0L395.1 332.0L395.6 332.0L395.6 331.7L396.1 331.7L396.1 332.1L396.6 332.1L396.6 331.8L397.1 331.8L397.1 332.1L397.6 332.1L397.6 332.3L398.1 332.3L398.1 332.2L398.6 332.2L398.6 332.2L399.1 332.2L399.1 332.2L399.6 332.2L399.6 333.0ZM400.1 333.0L400.1 332.0L400.6 332.0L400.6 333.0ZM401.1 333.0L401.1 332.6L401.6 332.6L401.6 333.0ZM402.1 333.0L402.1 332.3L402.6 332.3L402.6 331.9L403.1 331.9L403.1 332.1L403.6 332.1L403.6 332.0L404.1 332.0L404.1 333.0ZM405.6 333.0L405.6 332.5L406.1 332.5L406.1 332.0L406.6 332.0L406.6 333.0ZM407.1 333.0L407.1 332.5L407.6 332.5L407.6 333.0ZM408.1 333.0L408.1 331.8L408.6 331.8L408.6 332.0L409.1 332.0L409.1 332.3L409.6 332.3L409.6 332.4L410.1 332.4L410.1 333.0ZM410.6 333.0L410.6 332.1L411.1 332.1L411.1 333.0ZM411.6 333.0L411.6 331.8L412.1 331.8L412.1 333.0ZM412.6 333.0L412.6 331.9L413.1 331.9L413.1 332.3L413.6 332.3L413.6 333.0Z" fill="#a01a3e"/>
<line x1="288.1" y1="346.3" x2="414.8" y2="346.3" stroke="#9c1438" stroke-opacity="0.95" stroke-width="1.3"/>
<path d="M289.1 346.3L289.1 345.2L289.6 345.2L289.6 345.4L290.1 345.4L290.1 346.3ZM290.6 346.3L290.6 345.1L291.1 345.1L291.1 345.6L291.6 345.6L291.6 344.6L292.1 344.6L292.1 345.5L292.6 345.5L292.6 344.9L293.1 344.9L293.1 346.3ZM294.1 346.3L294.1 345.1L294.6 345.1L294.6 345.1L295.1 345.1L295.1 344.8L295.6 344.8L295.6 345.4L296.1 345.4L296.1 345.4L296.6 345.4L296.6 345.6L297.1 345.6L297.1 345.2L297.6 345.2L297.6 344.6L298.1 344.6L298.1 346.3ZM298.6 346.3L298.6 345.0L299.1 345.0L299.1 345.1L299.6 345.1L299.6 346.3ZM301.1 346.3L301.1 345.2L301.6 345.2L301.6 343.6L302.1 343.6L302.1 345.4L302.6 345.4L302.6 346.3ZM303.1 346.3L303.1 344.8L303.6 344.8L303.6 343.3L304.1 343.3L304.1 345.5L304.6 345.5L304.6 344.6L305.1 344.6L305.1 344.6L305.6 344.6L305.6 345.3L306.1 345.3L306.1 344.8L306.6 344.8L306.6 346.3ZM307.1 346.3L307.1 344.6L307.6 344.6L307.6 345.5L308.1 345.5L308.1 346.3ZM308.6 346.3L308.6 344.7L309.1 344.7L309.1 344.9L309.6 344.9L309.6 344.7L310.1 344.7L310.1 345.2L310.6 345.2L310.6 345.4L311.1 345.4L311.1 346.3ZM311.6 346.3L311.6 345.4L312.1 345.4L312.1 346.3ZM313.1 346.3L313.1 343.9L313.6 343.9L313.6 345.6L314.1 345.6L314.1 346.3ZM315.1 346.3L315.1 344.6L315.6 344.6L315.6 344.6L316.1 344.6L316.1 346.3ZM316.6 346.3L316.6 344.6L317.1 344.6L317.1 345.5L317.6 345.5L317.6 346.3ZM318.1 346.3L318.1 344.5L318.6 344.5L318.6 346.3ZM319.1 346.3L319.1 344.8L319.6 344.8L319.6 346.3ZM320.1 346.3L320.1 345.2L320.6 345.2L320.6 345.3L321.1 345.3L321.1 344.2L321.6 344.2L321.6 346.3ZM322.1 346.3L322.1 345.5L322.6 345.5L322.6 344.7L323.1 344.7L323.1 346.3ZM324.1 346.3L324.1 345.2L324.6 345.2L324.6 344.5L325.1 344.5L325.1 345.4L325.6 345.4L325.6 344.7L326.1 344.7L326.1 345.6L326.6 345.6L326.6 344.2L327.1 344.2L327.1 344.2L327.6 344.2L327.6 344.7L328.1 344.7L328.1 343.9L328.6 343.9L328.6 345.7L329.1 345.7L329.1 344.7L329.6 344.7L329.6 346.3ZM330.1 346.3L330.1 344.9L330.6 344.9L330.6 345.0L331.1 345.0L331.1 346.3ZM332.1 346.3L332.1 343.7L332.6 343.7L332.6 345.5L333.1 345.5L333.1 346.3ZM334.1 346.3L334.1 345.7L334.6 345.7L334.6 346.3ZM335.1 346.3L335.1 345.0L335.6 345.0L335.6 344.6L336.1 344.6L336.1 346.3ZM337.1 346.3L337.1 345.4L337.6 345.4L337.6 344.7L338.1 344.7L338.1 345.5L338.6 345.5L338.6 345.1L339.1 345.1L339.1 344.9L339.6 344.9L339.6 345.7L340.1 345.7L340.1 346.3ZM341.1 346.3L341.1 344.9L341.6 344.9L341.6 346.3ZM342.1 346.3L342.1 345.2L342.6 345.2L342.6 346.3ZM343.6 346.3L343.6 345.5L344.1 345.5L344.1 346.3ZM345.1 346.3L345.1 345.5L345.6 345.5L345.6 346.3ZM346.1 346.3L346.1 344.6L346.6 344.6L346.6 344.4L347.1 344.4L347.1 346.3ZM347.6 346.3L347.6 345.2L348.1 345.2L348.1 345.5L348.6 345.5L348.6 346.3ZM349.1 346.3L349.1 344.6L349.6 344.6L349.6 346.3ZM350.6 346.3L350.6 342.9L351.1 342.9L351.1 343.0L351.6 343.0L351.6 335.6L352.1 335.6L352.1 335.8L352.6 335.8L352.6 335.7L353.1 335.7L353.1 335.8L353.6 335.8L353.6 342.9L354.1 342.9L354.1 343.0L354.6 343.0L354.6 344.9L355.1 344.9L355.1 346.3ZM356.6 346.3L356.6 345.1L357.1 345.1L357.1 344.5L357.6 344.5L357.6 345.4L358.1 345.4L358.1 346.3ZM358.6 346.3L358.6 344.8L359.1 344.8L359.1 343.1L359.6 343.1L359.6 345.4L360.1 345.4L360.1 344.9L360.6 344.9L360.6 346.3ZM361.1 346.3L361.1 343.8L361.6 343.8L361.6 346.3ZM362.1 346.3L362.1 344.6L362.6 344.6L362.6 344.2L363.1 344.2L363.1 344.3L363.6 344.3L363.6 340.9L364.1 340.9L364.1 340.9L364.6 340.9L364.6 341.0L365.1 341.0L365.1 341.1L365.6 341.1L365.6 342.1L366.1 342.1L366.1 341.8L366.6 341.8L366.6 342.1L367.1 342.1L367.1 341.9L367.6 341.9L367.6 344.9L368.1 344.9L368.1 344.5L368.6 344.5L368.6 344.1L369.1 344.1L369.1 346.3ZM370.1 346.3L370.1 345.7L370.6 345.7L370.6 346.3ZM371.6 346.3L371.6 344.5L372.1 344.5L372.1 344.5L372.6 344.5L372.6 344.6L373.1 344.6L373.1 345.7L373.6 345.7L373.6 345.2L374.1 345.2L374.1 344.9L374.6 344.9L374.6 343.2L375.1 343.2L375.1 343.1L375.6 343.1L375.6 343.0L376.1 343.0L376.1 343.1L376.6 343.1L376.6 343.0L377.1 343.0L377.1 345.3L377.6 345.3L377.6 345.0L378.1 345.0L378.1 346.3ZM378.6 346.3L378.6 345.5L379.1 345.5L379.1 346.3ZM381.1 346.3L381.1 344.2L381.6 344.2L381.6 345.0L382.1 345.0L382.1 346.3ZM382.6 346.3L382.6 345.2L383.1 345.2L383.1 344.9L383.6 344.9L383.6 345.6L384.1 345.6L384.1 346.3ZM387.1 346.3L387.1 345.1L387.6 345.1L387.6 345.1L388.1 345.1L388.1 345.4L388.6 345.4L388.6 346.3ZM389.1 346.3L389.1 344.6L389.6 344.6L389.6 345.0L390.1 345.0L390.1 345.5L390.6 345.5L390.6 345.7L391.1 345.7L391.1 346.3ZM392.1 346.3L392.1 345.7L392.6 345.7L392.6 345.3L393.1 345.3L393.1 345.3L393.6 345.3L393.6 344.9L394.1 344.9L394.1 345.5L394.6 345.5L394.6 345.1L395.1 345.1L395.1 345.6L395.6 345.6L395.6 346.3ZM396.1 346.3L396.1 345.1L396.6 345.1L396.6 345.3L397.1 345.3L397.1 346.3ZM398.1 346.3L398.1 345.1L398.6 345.1L398.6 346.3ZM399.1 346.3L399.1 345.1L399.6 345.1L399.6 346.3ZM400.1 346.3L400.1 345.6L400.6 345.6L400.6 345.6L401.1 345.6L401.1 344.7L401.6 344.7L401.6 345.5L402.1 345.5L402.1 345.2L402.6 345.2L402.6 346.3ZM403.6 346.3L403.6 345.2L404.1 345.2L404.1 345.5L404.6 345.5L404.6 345.4L405.1 345.4L405.1 345.0L405.6 345.0L405.6 344.8L406.1 344.8L406.1 346.3ZM406.6 346.3L406.6 345.5L407.1 345.5L407.1 346.3ZM408.1 346.3L408.1 345.0L408.6 345.0L408.6 343.4L409.1 343.4L409.1 345.2L409.6 345.2L409.6 346.3ZM411.1 346.3L411.1 344.8L411.6 344.8L411.6 345.6L412.1 345.6L412.1 344.2L412.6 344.2L412.6 346.3ZM413.1 346.3L413.1 344.8L413.6 344.8L413.6 345.6L414.1 345.6L414.1 345.0L414.6 345.0L414.6 346.3Z" fill="#9c1438"/>
<line x1="288.1" y1="359.6" x2="414.8" y2="359.6" stroke="#8a3a96" stroke-opacity="0.6" stroke-width="1.3"/>
<path d="M289.6 359.6L289.6 358.9L290.1 358.9L290.1 359.6ZM293.6 359.6L293.6 358.9L294.1 358.9L294.1 359.6ZM296.6 359.6L296.6 359.0L297.1 359.0L297.1 358.3L297.6 358.3L297.6 357.3L298.1 357.3L298.1 355.8L298.6 355.8L298.6 354.6L299.1 354.6L299.1 354.4L299.6 354.4L299.6 354.9L300.1 354.9L300.1 356.2L300.6 356.2L300.6 356.4L301.1 356.4L301.1 356.5L301.6 356.5L301.6 356.3L302.1 356.3L302.1 356.4L302.6 356.4L302.6 358.5L303.1 358.5L303.1 358.3L303.6 358.3L303.6 358.7L304.1 358.7L304.1 359.6ZM305.1 359.6L305.1 358.4L305.6 358.4L305.6 359.6ZM306.1 359.6L306.1 358.4L306.6 358.4L306.6 358.0L307.1 358.0L307.1 359.2L307.6 359.2L307.6 359.6ZM308.1 359.6L308.1 359.1L308.6 359.1L308.6 359.6ZM311.1 359.6L311.1 358.8L311.6 358.8L311.6 359.6ZM312.6 359.6L312.6 359.0L313.1 359.0L313.1 359.6ZM313.6 359.6L313.6 358.2L314.1 358.2L314.1 359.0L314.6 359.0L314.6 359.6ZM315.1 359.6L315.1 356.7L315.6 356.7L315.6 355.9L316.1 355.9L316.1 349.9L316.6 349.9L316.6 350.5L317.1 350.5L317.1 350.1L317.6 350.1L317.6 350.4L318.1 350.4L318.1 355.6L318.6 355.6L318.6 356.7L319.1 356.7L319.1 358.8L319.6 358.8L319.6 359.1L320.1 359.1L320.1 359.0L320.6 359.0L320.6 358.6L321.1 358.6L321.1 359.6ZM322.1 359.6L322.1 358.0L322.6 358.0L322.6 358.1L323.1 358.1L323.1 355.5L323.6 355.5L323.6 355.2L324.1 355.2L324.1 355.3L324.6 355.3L324.6 355.3L325.1 355.3L325.1 355.5L325.6 355.5L325.6 358.3L326.1 358.3L326.1 358.2L326.6 358.2L326.6 359.0L327.1 359.0L327.1 358.6L327.6 358.6L327.6 359.6ZM328.1 359.6L328.1 359.0L328.6 359.0L328.6 358.9L329.1 358.9L329.1 357.5L329.6 357.5L329.6 357.5L330.1 357.5L330.1 357.4L330.6 357.4L330.6 357.6L331.1 357.6L331.1 358.9L331.6 358.9L331.6 358.9L332.1 358.9L332.1 359.6ZM333.1 359.6L333.1 358.2L333.6 358.2L333.6 358.6L334.1 358.6L334.1 356.5L334.6 356.5L334.6 356.6L335.1 356.6L335.1 356.5L335.6 356.5L335.6 356.5L336.1 356.5L336.1 358.4L336.6 358.4L336.6 358.6L337.1 358.6L337.1 359.6ZM338.1 359.6L338.1 358.5L338.6 358.5L338.6 358.4L339.1 358.4L339.1 356.5L339.6 356.5L339.6 356.6L340.1 356.6L340.1 356.3L340.6 356.3L340.6 356.3L341.1 356.3L341.1 358.6L341.6 358.6L341.6 358.6L342.1 358.6L342.1 359.6ZM343.1 359.6L343.1 358.7L343.6 358.7L343.6 358.8L344.1 358.8L344.1 356.9L344.6 356.9L344.6 356.9L345.1 356.9L345.1 356.9L345.6 356.9L345.6 357.0L346.1 357.0L346.1 358.6L346.6 358.6L346.6 358.5L347.1 358.5L347.1 359.6ZM348.1 359.6L348.1 359.1L348.6 359.1L348.6 359.6ZM349.6 359.6L349.6 358.9L350.1 358.9L350.1 358.9L350.6 358.9L350.6 358.5L351.1 358.5L351.1 357.6L351.6 357.6L351.6 357.4L352.1 357.4L352.1 357.4L352.6 357.4L352.6 357.5L353.1 357.5L353.1 358.8L353.6 358.8L353.6 358.9L354.1 358.9L354.1 359.6ZM354.6 359.6L354.6 358.2L355.1 358.2L355.1 358.6L355.6 358.6L355.6 358.9L356.1 358.9L356.1 359.6ZM357.1 359.6L357.1 358.9L357.6 358.9L357.6 358.6L358.1 358.6L358.1 359.6ZM358.6 359.6L358.6 359.2L359.1 359.2L359.1 358.8L359.6 358.8L359.6 359.6ZM360.1 359.6L360.1 357.7L360.6 357.7L360.6 357.3L361.1 357.3L361.1 353.5L361.6 353.5L361.6 353.3L362.1 353.3L362.1 353.0L362.6 353.0L362.6 353.2L363.1 353.2L363.1 357.5L363.6 357.5L363.6 357.6L364.1 357.6L364.1 356.3L364.6 356.3L364.6 356.5L365.1 356.5L365.1 356.4L365.6 356.4L365.6 356.4L366.1 356.4L366.1 357.4L366.6 357.4L366.6 358.6L367.1 358.6L367.1 358.4L367.6 358.4L367.6 359.6ZM368.1 359.6L368.1 358.5L368.6 358.5L368.6 358.3L369.1 358.3L369.1 356.5L369.6 356.5L369.6 356.5L370.1 356.5L370.1 356.4L370.6 356.4L370.6 356.3L371.1 356.3L371.1 358.5L371.6 358.5L371.6 358.5L372.1 358.5L372.1 358.5L372.6 358.5L372.6 359.6ZM373.1 359.6L373.1 358.5L373.6 358.5L373.6 359.1L374.1 359.1L374.1 359.6ZM374.6 359.6L374.6 359.0L375.1 359.0L375.1 358.1L375.6 358.1L375.6 358.7L376.1 358.7L376.1 359.6ZM376.6 359.6L376.6 358.2L377.1 358.2L377.1 358.3L377.6 358.3L377.6 358.1L378.1 358.1L378.1 355.4L378.6 355.4L378.6 355.5L379.1 355.5L379.1 355.4L379.6 355.4L379.6 355.3L380.1 355.3L380.1 358.2L380.6 358.2L380.6 358.0L381.1 358.0L381.1 359.0L381.6 359.0L381.6 358.7L382.1 358.7L382.1 358.8L382.6 358.8L382.6 358.6L383.1 358.6L383.1 358.4L383.6 358.4L383.6 358.7L384.1 358.7L384.1 356.6L384.6 356.6L384.6 356.4L385.1 356.4L385.1 356.4L385.6 356.4L385.6 356.4L386.1 356.4L386.1 358.6L386.6 358.6L386.6 358.5L387.1 358.5L387.1 357.5L387.6 357.5L387.6 359.1L388.1 359.1L388.1 358.6L388.6 358.6L388.6 358.7L389.1 358.7L389.1 357.0L389.6 357.0L389.6 357.0L390.1 357.0L390.1 356.9L390.6 356.9L390.6 357.0L391.1 357.0L391.1 358.4L391.6 358.4L391.6 358.5L392.1 358.5L392.1 359.6ZM393.1 359.6L393.1 358.8L393.6 358.8L393.6 358.7L394.1 358.7L394.1 357.4L394.6 357.4L394.6 357.4L395.1 357.4L395.1 357.5L395.6 357.5L395.6 357.5L396.1 357.5L396.1 358.8L396.6 358.8L396.6 358.9L397.1 358.9L397.1 359.6ZM397.6 359.6L397.6 358.8L398.1 358.8L398.1 358.5L398.6 358.5L398.6 358.0L399.1 358.0L399.1 356.4L399.6 356.4L399.6 356.4L400.1 356.4L400.1 356.3L400.6 356.3L400.6 356.5L401.1 356.5L401.1 358.6L401.6 358.6L401.6 358.4L402.1 358.4L402.1 358.7L402.6 358.7L402.6 358.7L403.1 358.7L403.1 358.6L403.6 358.6L403.6 358.3L404.1 358.3L404.1 356.3L404.6 356.3L404.6 356.4L405.1 356.4L405.1 356.5L405.6 356.5L405.6 356.4L406.1 356.4L406.1 358.4L406.6 358.4L406.6 358.3L407.1 358.3L407.1 359.6ZM408.1 359.6L408.1 358.0L408.6 358.0L408.6 358.3L409.1 358.3L409.1 356.8L409.6 356.8L409.6 356.9L410.1 356.9L410.1 356.9L410.6 356.9L410.6 356.9L411.1 356.9L411.1 358.5L411.6 358.5L411.6 358.6L412.1 358.6L412.1 359.6ZM413.1 359.6L413.1 357.2L413.6 357.2L413.6 358.5L414.1 358.5L414.1 359.6Z" fill="#8a3a96"/>
<line x1="288.1" y1="373.0" x2="414.8" y2="373.0" stroke="#5b1d66" stroke-opacity="0.8" stroke-width="1.3"/>
<path d="M289.1 373.0L289.1 372.1L289.6 372.1L289.6 370.8L290.1 370.8L290.1 373.0ZM290.6 373.0L290.6 372.0L291.1 372.0L291.1 370.8L291.6 370.8L291.6 370.9L292.1 370.9L292.1 371.5L292.6 371.5L292.6 373.0ZM293.1 373.0L293.1 371.0L293.6 371.0L293.6 369.5L294.1 369.5L294.1 372.2L294.6 372.2L294.6 371.0L295.1 371.0L295.1 369.3L295.6 369.3L295.6 373.0ZM296.1 373.0L296.1 370.6L296.6 370.6L296.6 370.0L297.1 370.0L297.1 365.4L297.6 365.4L297.6 365.2L298.1 365.2L298.1 365.3L298.6 365.3L298.6 365.8L299.1 365.8L299.1 370.0L299.6 370.0L299.6 369.0L300.1 369.0L300.1 363.6L300.6 363.6L300.6 363.4L301.1 363.4L301.1 363.3L301.6 363.3L301.6 363.3L302.1 363.3L302.1 369.4L302.6 369.4L302.6 370.0L303.1 370.0L303.1 366.8L303.6 366.8L303.6 366.6L304.1 366.6L304.1 366.8L304.6 366.8L304.6 366.6L305.1 366.6L305.1 368.5L305.6 368.5L305.6 368.6L306.1 368.6L306.1 368.8L306.6 368.8L306.6 368.6L307.1 368.6L307.1 371.6L307.6 371.6L307.6 371.7L308.1 371.7L308.1 373.0ZM309.6 373.0L309.6 371.0L310.1 371.0L310.1 373.0ZM310.6 373.0L310.6 371.8L311.1 371.8L311.1 371.9L311.6 371.9L311.6 371.6L312.1 371.6L312.1 370.6L312.6 370.6L312.6 369.8L313.1 369.8L313.1 370.1L313.6 370.1L313.6 370.2L314.1 370.2L314.1 371.1L314.6 371.1L314.6 370.5L315.1 370.5L315.1 370.4L315.6 370.4L315.6 372.1L316.1 372.1L316.1 371.9L316.6 371.9L316.6 371.2L317.1 371.2L317.1 370.1L317.6 370.1L317.6 369.3L318.1 369.3L318.1 368.9L318.6 368.9L318.6 369.5L319.1 369.5L319.1 370.5L319.6 370.5L319.6 371.4L320.1 371.4L320.1 371.2L320.6 371.2L320.6 371.2L321.1 371.2L321.1 371.7L321.6 371.7L321.6 371.2L322.1 371.2L322.1 370.1L322.6 370.1L322.6 368.8L323.1 368.8L323.1 369.0L323.6 369.0L323.6 369.4L324.1 369.4L324.1 370.3L324.6 370.3L324.6 370.9L325.1 370.9L325.1 372.2L325.6 372.2L325.6 369.6L326.1 369.6L326.1 373.0ZM326.6 373.0L326.6 371.6L327.1 371.6L327.1 369.0L327.6 369.0L327.6 371.4L328.1 371.4L328.1 370.8L328.6 370.8L328.6 371.7L329.1 371.7L329.1 369.7L329.6 369.7L329.6 369.8L330.1 369.8L330.1 369.7L330.6 369.7L330.6 369.9L331.1 369.9L331.1 371.0L331.6 371.0L331.6 371.8L332.1 371.8L332.1 370.6L332.6 370.6L332.6 371.9L333.1 371.9L333.1 370.9L333.6 370.9L333.6 373.0ZM335.1 373.0L335.1 371.7L335.6 371.7L335.6 372.1L336.1 372.1L336.1 369.5L336.6 369.5L336.6 371.5L337.1 371.5L337.1 373.0ZM337.6 373.0L337.6 371.1L338.1 371.1L338.1 371.6L338.6 371.6L338.6 371.7L339.1 371.7L339.1 369.8L339.6 369.8L339.6 369.8L340.1 369.8L340.1 369.7L340.6 369.7L340.6 369.8L341.1 369.8L341.1 372.0L341.6 372.0L341.6 371.6L342.1 371.6L342.1 373.0ZM342.6 373.0L342.6 371.2L343.1 371.2L343.1 371.8L343.6 371.8L343.6 369.6L344.1 369.6L344.1 369.7L344.6 369.7L344.6 369.9L345.1 369.9L345.1 369.6L345.6 369.6L345.6 369.9L346.1 369.9L346.1 371.0L346.6 371.0L346.6 370.1L347.1 370.1L347.1 373.0ZM348.1 373.0L348.1 372.1L348.6 372.1L348.6 373.0ZM349.1 373.0L349.1 369.8L349.6 369.8L349.6 371.3L350.1 371.3L350.1 370.4L350.6 370.4L350.6 370.6L351.1 370.6L351.1 366.7L351.6 366.7L351.6 366.4L352.1 366.4L352.1 366.4L352.6 366.4L352.6 366.8L353.1 366.8L353.1 370.9L353.6 370.9L353.6 370.7L354.1 370.7L354.1 372.2L354.6 372.2L354.6 371.1L355.1 371.1L355.1 373.0ZM356.1 373.0L356.1 372.2L356.6 372.2L356.6 371.0L357.1 371.0L357.1 371.1L357.6 371.1L357.6 371.6L358.1 371.6L358.1 371.4L358.6 371.4L358.6 369.0L359.1 369.0L359.1 368.7L359.6 368.7L359.6 368.8L360.1 368.8L360.1 368.6L360.6 368.6L360.6 368.9L361.1 368.9L361.1 371.6L361.6 371.6L361.6 371.4L362.1 371.4L362.1 372.1L362.6 372.1L362.6 373.0ZM363.6 373.0L363.6 370.2L364.1 370.2L364.1 370.2L364.6 370.2L364.6 365.5L365.1 365.5L365.1 365.5L365.6 365.5L365.6 365.7L366.1 365.7L366.1 365.7L366.6 365.7L366.6 370.2L367.1 370.2L367.1 370.4L367.6 370.4L367.6 373.0ZM368.6 373.0L368.6 371.7L369.1 371.7L369.1 371.2L369.6 371.2L369.6 370.7L370.1 370.7L370.1 373.0ZM370.6 373.0L370.6 369.3L371.1 369.3L371.1 373.0ZM371.6 373.0L371.6 371.5L372.1 371.5L372.1 373.0ZM372.6 373.0L372.6 370.3L373.1 370.3L373.1 369.9L373.6 369.9L373.6 365.5L374.1 365.5L374.1 365.3L374.6 365.3L374.6 365.8L375.1 365.8L375.1 365.5L375.6 365.5L375.6 370.7L376.1 370.7L376.1 370.6L376.6 370.6L376.6 369.2L377.1 369.2L377.1 373.0ZM377.6 373.0L377.6 371.3L378.1 371.3L378.1 370.9L378.6 370.9L378.6 371.5L379.1 371.5L379.1 368.8L379.6 368.8L379.6 368.5L380.1 368.5L380.1 368.8L380.6 368.8L380.6 368.8L381.1 368.8L381.1 370.8L381.6 370.8L381.6 371.5L382.1 371.5L382.1 373.0ZM382.6 373.0L382.6 371.0L383.1 371.0L383.1 371.6L383.6 371.6L383.6 371.1L384.1 371.1L384.1 370.7L384.6 370.7L384.6 370.0L385.1 370.0L385.1 369.9L385.6 369.9L385.6 370.1L386.1 370.1L386.1 371.1L386.6 371.1L386.6 371.9L387.1 371.9L387.1 371.4L387.6 371.4L387.6 371.5L388.1 371.5L388.1 372.0L388.6 372.0L388.6 371.9L389.1 371.9L389.1 369.7L389.6 369.7L389.6 369.7L390.1 369.7L390.1 369.8L390.6 369.8L390.6 369.7L391.1 369.7L391.1 371.6L391.6 371.6L391.6 371.1L392.1 371.1L392.1 373.0ZM392.6 373.0L392.6 372.3L393.1 372.3L393.1 372.2L393.6 372.2L393.6 371.0L394.1 371.0L394.1 370.7L394.6 370.7L394.6 370.1L395.1 370.1L395.1 369.8L395.6 369.8L395.6 370.1L396.1 370.1L396.1 371.0L396.6 371.0L396.6 371.3L397.1 371.3L397.1 369.8L397.6 369.8L397.6 370.9L398.1 370.9L398.1 371.6L398.6 371.6L398.6 371.3L399.1 371.3L399.1 368.8L399.6 368.8L399.6 368.8L400.1 368.8L400.1 368.6L400.6 368.6L400.6 368.8L401.1 368.8L401.1 371.2L401.6 371.2L401.6 371.0L402.1 371.0L402.1 372.2L402.6 372.2L402.6 371.5L403.1 371.5L403.1 372.3L403.6 372.3L403.6 371.6L404.1 371.6L404.1 370.9L404.6 370.9L404.6 369.9L405.1 369.9L405.1 369.7L405.6 369.7L405.6 370.3L406.1 370.3L406.1 371.0L406.6 371.0L406.6 371.7L407.1 371.7L407.1 371.3L407.6 371.3L407.6 372.7L408.1 372.7L408.1 371.1L408.6 371.1L408.6 371.6L409.1 371.6L409.1 369.7L409.6 369.7L409.6 369.7L410.1 369.7L410.1 369.7L410.6 369.7L410.6 369.6L411.1 369.6L411.1 371.7L411.6 371.7L411.6 372.0L412.1 372.0L412.1 371.5L412.6 371.5L412.6 372.1L413.1 372.1L413.1 373.0ZM414.1 373.0L414.1 372.0L414.6 372.0L414.6 373.0Z" fill="#5b1d66"/>
<line x1="288.1" y1="386.3" x2="414.8" y2="386.3" stroke="#b0a8d8" stroke-opacity="0.7" stroke-width="1.3"/>
<path d="M293.1 386.3L293.1 385.7L293.6 385.7L293.6 385.9L294.1 385.9L294.1 386.3ZM302.1 386.3L302.1 385.9L302.6 385.9L302.6 385.9L303.1 385.9L303.1 385.2L303.6 385.2L303.6 385.2L304.1 385.2L304.1 385.2L304.6 385.2L304.6 385.3L305.1 385.3L305.1 385.9L305.6 385.9L305.6 385.8L306.1 385.8L306.1 386.3ZM312.6 386.3L312.6 385.4L313.1 385.4L313.1 386.3ZM314.1 386.3L314.1 385.9L314.6 385.9L314.6 386.0L315.1 386.0L315.1 385.3L315.6 385.3L315.6 385.2L316.1 385.2L316.1 385.2L316.6 385.2L316.6 385.2L317.1 385.2L317.1 385.8L317.6 385.8L317.6 386.0L318.1 386.0L318.1 386.3ZM319.6 386.3L319.6 385.8L320.1 385.8L320.1 385.7L320.6 385.7L320.6 386.3ZM324.6 386.3L324.6 386.0L325.1 386.0L325.1 386.3ZM326.6 386.3L326.6 385.7L327.1 385.7L327.1 386.3ZM331.1 386.3L331.1 385.7L331.6 385.7L331.6 386.3ZM334.6 386.3L334.6 385.9L335.1 385.9L335.1 386.3ZM338.1 386.3L338.1 385.2L338.6 385.2L338.6 385.3L339.1 385.3L339.1 383.0L339.6 383.0L339.6 382.9L340.1 382.9L340.1 383.2L340.6 383.2L340.6 383.0L341.1 383.0L341.1 385.2L341.6 385.2L341.6 385.1L342.1 385.1L342.1 386.3ZM343.1 386.3L343.1 384.9L343.6 384.9L343.6 386.3ZM345.6 386.3L345.6 385.7L346.1 385.7L346.1 386.3ZM350.1 386.3L350.1 385.6L350.6 385.6L350.6 385.6L351.1 385.6L351.1 384.2L351.6 384.2L351.6 384.2L352.1 384.2L352.1 384.1L352.6 384.1L352.6 384.1L353.1 384.1L353.1 385.6L353.6 385.6L353.6 385.4L354.1 385.4L354.1 386.3ZM359.1 386.3L359.1 385.6L359.6 385.6L359.6 386.3ZM360.1 386.3L360.1 385.0L360.6 385.0L360.6 385.1L361.1 385.1L361.1 383.2L361.6 383.2L361.6 383.0L362.1 383.0L362.1 383.1L362.6 383.1L362.6 383.1L363.1 383.1L363.1 385.0L363.6 385.0L363.6 385.1L364.1 385.1L364.1 386.3ZM364.6 386.3L364.6 385.6L365.1 385.6L365.1 386.0L365.6 386.0L365.6 385.9L366.1 385.9L366.1 386.3ZM367.6 386.3L367.6 385.6L368.1 385.6L368.1 385.5L368.6 385.5L368.6 385.5L369.1 385.5L369.1 386.3ZM370.1 386.3L370.1 385.6L370.6 385.6L370.6 386.3ZM371.1 386.3L371.1 385.7L371.6 385.7L371.6 386.3ZM373.1 386.3L373.1 385.6L373.6 385.6L373.6 386.3ZM375.6 386.3L375.6 385.9L376.1 385.9L376.1 386.3ZM377.1 386.3L377.1 385.2L377.6 385.2L377.6 386.3ZM378.6 386.3L378.6 385.9L379.1 385.9L379.1 386.3ZM381.6 386.3L381.6 385.8L382.1 385.8L382.1 386.3ZM398.1 386.3L398.1 385.9L398.6 385.9L398.6 385.8L399.1 385.8L399.1 385.2L399.6 385.2L399.6 385.2L400.1 385.2L400.1 385.2L400.6 385.2L400.6 385.2L401.1 385.2L401.1 385.9L401.6 385.9L401.6 385.9L402.1 385.9L402.1 386.3ZM406.1 386.3L406.1 385.6L406.6 385.6L406.6 386.3ZM408.1 386.3L408.1 385.7L408.6 385.7L408.6 385.6L409.1 385.6L409.1 384.7L409.6 384.7L409.6 384.6L410.1 384.6L410.1 384.7L410.6 384.7L410.6 384.6L411.1 384.6L411.1 385.7L411.6 385.7L411.6 385.7L412.1 385.7L412.1 386.3Z" fill="#6b4bdf"/>
<line x1="288.1" y1="399.6" x2="414.8" y2="399.6" stroke="#6242c4" stroke-opacity="0.8" stroke-width="1.3"/>
<path d="M290.1 399.6L290.1 399.2L290.6 399.2L290.6 399.6ZM291.1 399.6L291.1 398.1L291.6 398.1L291.6 399.1L292.1 399.1L292.1 399.6ZM293.1 399.6L293.1 399.2L293.6 399.2L293.6 399.6ZM295.1 399.6L295.1 399.0L295.6 399.0L295.6 399.1L296.1 399.1L296.1 399.6ZM296.6 399.6L296.6 398.5L297.1 398.5L297.1 398.6L297.6 398.6L297.6 399.6ZM298.1 399.6L298.1 398.8L298.6 398.8L298.6 398.4L299.1 398.4L299.1 398.7L299.6 398.7L299.6 399.6ZM300.1 399.6L300.1 398.7L300.6 398.7L300.6 398.8L301.1 398.8L301.1 398.9L301.6 398.9L301.6 399.6ZM302.6 399.6L302.6 398.9L303.1 398.9L303.1 399.1L303.6 399.1L303.6 399.6ZM304.6 399.6L304.6 398.5L305.1 398.5L305.1 398.5L305.6 398.5L305.6 399.6ZM306.1 399.6L306.1 398.6L306.6 398.6L306.6 399.6ZM307.6 399.6L307.6 399.3L308.1 399.3L308.1 398.9L308.6 398.9L308.6 398.9L309.1 398.9L309.1 399.1L309.6 399.1L309.6 399.2L310.1 399.2L310.1 399.6ZM311.1 399.6L311.1 398.8L311.6 398.8L311.6 399.1L312.1 399.1L312.1 398.5L312.6 398.5L312.6 397.7L313.1 397.7L313.1 398.9L313.6 398.9L313.6 398.8L314.1 398.8L314.1 399.2L314.6 399.2L314.6 398.3L315.1 398.3L315.1 398.3L315.6 398.3L315.6 396.5L316.1 396.5L316.1 396.4L316.6 396.4L316.6 396.4L317.1 396.4L317.1 396.3L317.6 396.3L317.6 396.5L318.1 396.5L318.1 398.5L318.6 398.5L318.6 398.1L319.1 398.1L319.1 399.6ZM319.6 399.6L319.6 398.6L320.1 398.6L320.1 398.7L320.6 398.7L320.6 399.6ZM322.1 399.6L322.1 398.1L322.6 398.1L322.6 398.9L323.1 398.9L323.1 399.6ZM323.6 399.6L323.6 399.1L324.1 399.1L324.1 398.9L324.6 398.9L324.6 398.5L325.1 398.5L325.1 399.6ZM325.6 399.6L325.6 398.6L326.1 398.6L326.1 399.6ZM326.6 399.6L326.6 398.8L327.1 398.8L327.1 398.0L327.6 398.0L327.6 399.0L328.1 399.0L328.1 398.7L328.6 398.7L328.6 399.0L329.1 399.0L329.1 398.6L329.6 398.6L329.6 398.4L330.1 398.4L330.1 399.6ZM330.6 399.6L330.6 398.5L331.1 398.5L331.1 399.6ZM332.6 399.6L332.6 398.1L333.1 398.1L333.1 398.6L333.6 398.6L333.6 398.9L334.1 398.9L334.1 399.6ZM335.1 399.6L335.1 398.6L335.6 398.6L335.6 399.6ZM337.6 399.6L337.6 397.5L338.1 397.5L338.1 397.0L338.6 397.0L338.6 393.5L339.1 393.5L339.1 392.9L339.6 392.9L339.6 393.3L340.1 393.3L340.1 392.9L340.6 392.9L340.6 393.5L341.1 393.5L341.1 397.2L341.6 397.2L341.6 397.0L342.1 397.0L342.1 399.6ZM342.6 399.6L342.6 399.2L343.1 399.2L343.1 399.6ZM343.6 399.6L343.6 399.2L344.1 399.2L344.1 398.6L344.6 398.6L344.6 399.6ZM345.6 399.6L345.6 399.0L346.1 399.0L346.1 399.6ZM346.6 399.6L346.6 398.9L347.1 398.9L347.1 398.7L347.6 398.7L347.6 399.6ZM348.1 399.6L348.1 399.1L348.6 399.1L348.6 399.6ZM349.1 399.6L349.1 398.7L349.6 398.7L349.6 399.6ZM350.1 399.6L350.1 398.3L350.6 398.3L350.6 398.4L351.1 398.4L351.1 396.5L351.6 396.5L351.6 396.5L352.1 396.5L352.1 396.3L352.6 396.3L352.6 396.3L353.1 396.3L353.1 398.6L353.6 398.6L353.6 398.5L354.1 398.5L354.1 398.8L354.6 398.8L354.6 399.6ZM355.1 399.6L355.1 398.5L355.6 398.5L355.6 398.6L356.1 398.6L356.1 399.6ZM356.6 399.6L356.6 399.2L357.1 399.2L357.1 399.1L357.6 399.1L357.6 399.6ZM358.1 399.6L358.1 398.7L358.6 398.7L358.6 399.2L359.1 399.2L359.1 398.7L359.6 398.7L359.6 398.7L360.1 398.7L360.1 398.5L360.6 398.5L360.6 398.3L361.1 398.3L361.1 397.2L361.6 397.2L361.6 396.9L362.1 396.9L362.1 396.4L362.6 396.4L362.6 397.0L363.1 397.0L363.1 397.7L363.6 397.7L363.6 398.4L364.1 398.4L364.1 398.8L364.6 398.8L364.6 398.1L365.1 398.1L365.1 397.5L365.6 397.5L365.6 396.8L366.1 396.8L366.1 396.4L366.6 396.4L366.6 396.8L367.1 396.8L367.1 397.7L367.6 397.7L367.6 398.4L368.1 398.4L368.1 398.6L368.6 398.6L368.6 399.4L369.1 399.4L369.1 399.6ZM369.6 399.6L369.6 398.3L370.1 398.3L370.1 399.6ZM370.6 399.6L370.6 398.5L371.1 398.5L371.1 399.6ZM371.6 399.6L371.6 397.8L372.1 397.8L372.1 399.1L372.6 399.1L372.6 398.6L373.1 398.6L373.1 398.4L373.6 398.4L373.6 398.9L374.1 398.9L374.1 399.1L374.6 399.1L374.6 398.9L375.1 398.9L375.1 399.0L375.6 399.0L375.6 399.6ZM376.6 399.6L376.6 399.0L377.1 399.0L377.1 399.6ZM377.6 399.6L377.6 398.0L378.1 398.0L378.1 399.1L378.6 399.1L378.6 398.6L379.1 398.6L379.1 399.6ZM381.1 399.6L381.1 398.5L381.6 398.5L381.6 399.6ZM382.6 399.6L382.6 399.2L383.1 399.2L383.1 399.6ZM383.6 399.6L383.6 398.9L384.1 398.9L384.1 399.6ZM385.1 399.6L385.1 399.1L385.6 399.1L385.6 399.1L386.1 399.1L386.1 399.6ZM387.1 399.6L387.1 398.9L387.6 398.9L387.6 399.6ZM388.1 399.6L388.1 398.7L388.6 398.7L388.6 399.2L389.1 399.2L389.1 399.6ZM390.6 399.6L390.6 398.5L391.1 398.5L391.1 397.9L391.6 397.9L391.6 399.2L392.1 399.2L392.1 399.6ZM392.6 399.6L392.6 399.0L393.1 399.0L393.1 399.0L393.6 399.0L393.6 399.6ZM394.1 399.6L394.1 398.8L394.6 398.8L394.6 399.3L395.1 399.3L395.1 399.6ZM396.1 399.6L396.1 399.0L396.6 399.0L396.6 399.6ZM397.1 399.6L397.1 398.6L397.6 398.6L397.6 399.3L398.1 399.3L398.1 398.7L398.6 398.7L398.6 399.6ZM399.6 399.6L399.6 399.1L400.1 399.1L400.1 399.1L400.6 399.1L400.6 399.6ZM401.1 399.6L401.1 399.1L401.6 399.1L401.6 398.8L402.1 398.8L402.1 399.6ZM402.6 399.6L402.6 399.1L403.1 399.1L403.1 399.6ZM403.6 399.6L403.6 398.7L404.1 398.7L404.1 399.0L404.6 399.0L404.6 399.6ZM405.6 399.6L405.6 398.5L406.1 398.5L406.1 399.6ZM408.1 399.6L408.1 399.1L408.6 399.1L408.6 399.6ZM409.1 399.6L409.1 397.9L409.6 397.9L409.6 398.9L410.1 398.9L410.1 399.6ZM411.6 399.6L411.6 398.9L412.1 398.9L412.1 399.6ZM412.6 399.6L412.6 399.1L413.1 399.1L413.1 398.7L413.6 398.7L413.6 399.0L414.1 399.0L414.1 399.6Z" fill="#6242c4"/>
<line x1="288.1" y1="412.9" x2="414.8" y2="412.9" stroke="#c8b8b0" stroke-opacity="0.7" stroke-width="1.3"/>
<path d="M292.6 412.9L292.6 412.7L293.1 412.7L293.1 412.9ZM295.6 412.9L295.6 412.8L296.1 412.8L296.1 412.9ZM298.6 412.9L298.6 412.7L299.1 412.7L299.1 412.4L299.6 412.4L299.6 412.9ZM302.6 412.9L302.6 412.6L303.1 412.6L303.1 412.7L303.6 412.7L303.6 412.9ZM305.1 412.9L305.1 412.7L305.6 412.7L305.6 412.9ZM309.6 412.9L309.6 412.5L310.1 412.5L310.1 412.9ZM312.1 412.9L312.1 412.8L312.6 412.8L312.6 412.9ZM318.1 412.9L318.1 412.5L318.6 412.5L318.6 412.9ZM329.1 412.9L329.1 412.6L329.6 412.6L329.6 412.9ZM330.1 412.9L330.1 412.7L330.6 412.7L330.6 412.9ZM331.6 412.9L331.6 412.7L332.1 412.7L332.1 412.9ZM332.6 412.9L332.6 412.7L333.1 412.7L333.1 412.9ZM334.1 412.9L334.1 412.5L334.6 412.5L334.6 412.9ZM337.6 412.9L337.6 412.5L338.1 412.5L338.1 412.6L338.6 412.6L338.6 412.5L339.1 412.5L339.1 411.8L339.6 411.8L339.6 411.9L340.1 411.9L340.1 411.8L340.6 411.8L340.6 411.9L341.1 411.9L341.1 412.5L341.6 412.5L341.6 412.6L342.1 412.6L342.1 412.9ZM346.1 412.9L346.1 412.6L346.6 412.6L346.6 412.9ZM350.1 412.9L350.1 409.3L350.6 409.3L350.6 408.3L351.1 408.3L351.1 401.8L351.6 401.8L351.6 401.6L352.1 401.6L352.1 400.9L352.6 400.9L352.6 401.4L353.1 401.4L353.1 408.1L353.6 408.1L353.6 409.0L354.1 409.0L354.1 412.2L354.6 412.2L354.6 412.9ZM356.6 412.9L356.6 412.6L357.1 412.6L357.1 412.9ZM360.1 412.9L360.1 412.7L360.6 412.7L360.6 412.9ZM363.1 412.9L363.1 412.6L363.6 412.6L363.6 412.1L364.1 412.1L364.1 411.0L364.6 411.0L364.6 409.2L365.1 409.2L365.1 408.2L365.6 408.2L365.6 407.5L366.1 407.5L366.1 408.6L366.6 408.6L366.6 410.2L367.1 410.2L367.1 411.4L367.6 411.4L367.6 412.3L368.1 412.3L368.1 412.9ZM372.1 412.9L372.1 412.7L372.6 412.7L372.6 411.7L373.1 411.7L373.1 411.4L373.6 411.4L373.6 408.6L374.1 408.6L374.1 408.7L374.6 408.7L374.6 408.7L375.1 408.7L375.1 408.6L375.6 408.6L375.6 411.6L376.1 411.6L376.1 411.4L376.6 411.4L376.6 412.9ZM377.6 412.9L377.6 412.6L378.1 412.6L378.1 412.7L378.6 412.7L378.6 412.9ZM379.1 412.9L379.1 412.7L379.6 412.7L379.6 412.5L380.1 412.5L380.1 412.9ZM385.6 412.9L385.6 412.4L386.1 412.4L386.1 412.9ZM404.1 412.9L404.1 412.5L404.6 412.5L404.6 412.9ZM406.6 412.9L406.6 412.5L407.1 412.5L407.1 412.9ZM409.1 412.9L409.1 412.7L409.6 412.7L409.6 412.9ZM411.1 412.9L411.1 412.1L411.6 412.1L411.6 412.9ZM413.1 412.9L413.1 412.4L413.6 412.4L413.6 412.9Z" fill="#e8683a"/>
<line x1="288.1" y1="426.3" x2="414.8" y2="426.3" stroke="#c8c0a0" stroke-opacity="0.6" stroke-width="1.3"/>
<path d="M289.1 426.3L289.1 425.1L289.6 425.1L289.6 424.7L290.1 424.7L290.1 425.0L290.6 425.0L290.6 424.8L291.1 424.8L291.1 424.7L291.6 424.7L291.6 424.7L292.1 424.7L292.1 424.9L292.6 424.9L292.6 424.6L293.1 424.6L293.1 425.2L293.6 425.2L293.6 425.1L294.1 425.1L294.1 425.3L294.6 425.3L294.6 424.7L295.1 424.7L295.1 425.0L295.6 425.0L295.6 424.6L296.1 424.6L296.1 424.4L296.6 424.4L296.6 425.3L297.1 425.3L297.1 424.6L297.6 424.6L297.6 424.9L298.1 424.9L298.1 424.7L298.6 424.7L298.6 424.7L299.1 424.7L299.1 425.3L299.6 425.3L299.6 424.8L300.1 424.8L300.1 425.2L300.6 425.2L300.6 425.0L301.1 425.0L301.1 425.0L301.6 425.0L301.6 424.6L302.1 424.6L302.1 424.8L302.6 424.8L302.6 424.8L303.1 424.8L303.1 425.0L303.6 425.0L303.6 425.3L304.1 425.3L304.1 425.1L304.6 425.1L304.6 424.7L305.1 424.7L305.1 425.0L305.6 425.0L305.6 425.3L306.1 425.3L306.1 424.4L306.6 424.4L306.6 424.9L307.1 424.9L307.1 425.2L307.6 425.2L307.6 424.7L308.1 424.7L308.1 425.0L308.6 425.0L308.6 424.9L309.1 424.9L309.1 425.0L309.6 425.0L309.6 424.9L310.1 424.9L310.1 424.8L310.6 424.8L310.6 424.9L311.1 424.9L311.1 424.9L311.6 424.9L311.6 425.2L312.1 425.2L312.1 425.0L312.6 425.0L312.6 424.9L313.1 424.9L313.1 424.7L313.6 424.7L313.6 425.3L314.1 425.3L314.1 424.9L314.6 424.9L314.6 424.6L315.1 424.6L315.1 423.5L315.6 423.5L315.6 422.3L316.1 422.3L316.1 420.5L316.6 420.5L316.6 419.5L317.1 419.5L317.1 419.1L317.6 419.1L317.6 414.3L318.1 414.3L318.1 414.7L318.6 414.7L318.6 414.6L319.1 414.6L319.1 414.4L319.6 414.4L319.6 414.5L320.1 414.5L320.1 419.9L320.6 419.9L320.6 419.7L321.1 419.7L321.1 420.0L321.6 420.0L321.6 421.6L322.1 421.6L322.1 422.4L322.6 422.4L322.6 422.7L323.1 422.7L323.1 422.8L323.6 422.8L323.6 423.1L324.1 423.1L324.1 423.5L324.6 423.5L324.6 424.0L325.1 424.0L325.1 424.6L325.6 424.6L325.6 424.6L326.1 424.6L326.1 424.9L326.6 424.9L326.6 425.2L327.1 425.2L327.1 424.7L327.6 424.7L327.6 424.8L328.1 424.8L328.1 425.0L328.6 425.0L328.6 424.7L329.1 424.7L329.1 424.7L329.6 424.7L329.6 424.3L330.1 424.3L330.1 424.7L330.6 424.7L330.6 425.2L331.1 425.2L331.1 424.8L331.6 424.8L331.6 424.6L332.1 424.6L332.1 424.9L332.6 424.9L332.6 424.6L333.1 424.6L333.1 425.1L333.6 425.1L333.6 424.6L334.1 424.6L334.1 425.2L334.6 425.2L334.6 424.5L335.1 424.5L335.1 424.7L335.6 424.7L335.6 424.8L336.1 424.8L336.1 425.3L336.6 425.3L336.6 425.0L337.1 425.0L337.1 424.6L337.6 424.6L337.6 424.7L338.1 424.7L338.1 424.7L338.6 424.7L338.6 424.6L339.1 424.6L339.1 425.0L339.6 425.0L339.6 424.5L340.1 424.5L340.1 422.5L340.6 422.5L340.6 423.8L341.1 423.8L341.1 424.0L341.6 424.0L341.6 424.0L342.1 424.0L342.1 423.6L342.6 423.6L342.6 423.8L343.1 423.8L343.1 422.2L343.6 422.2L343.6 424.0L344.1 424.0L344.1 423.2L344.6 423.2L344.6 423.7L345.1 423.7L345.1 423.1L345.6 423.1L345.6 422.3L346.1 422.3L346.1 423.3L346.6 423.3L346.6 423.5L347.1 423.5L347.1 423.8L347.6 423.8L347.6 424.2L348.1 424.2L348.1 422.9L348.6 422.9L348.6 423.2L349.1 423.2L349.1 423.7L349.6 423.7L349.6 424.3L350.1 424.3L350.1 424.1L350.6 424.1L350.6 423.2L351.1 423.2L351.1 423.3L351.6 423.3L351.6 423.4L352.1 423.4L352.1 423.4L352.6 423.4L352.6 423.8L353.1 423.8L353.1 424.1L353.6 424.1L353.6 423.0L354.1 423.0L354.1 423.4L354.6 423.4L354.6 424.0L355.1 424.0L355.1 422.7L355.6 422.7L355.6 422.5L356.1 422.5L356.1 423.6L356.6 423.6L356.6 423.3L357.1 423.3L357.1 422.8L357.6 422.8L357.6 423.1L358.1 423.1L358.1 421.5L358.6 421.5L358.6 420.3L359.1 420.3L359.1 419.4L359.6 419.4L359.6 420.7L360.1 420.7L360.1 421.9L360.6 421.9L360.6 422.4L361.1 422.4L361.1 416.5L361.6 416.5L361.6 416.5L362.1 416.5L362.1 417.2L362.6 417.2L362.6 417.0L363.1 417.0L363.1 416.7L363.6 416.7L363.6 422.5L364.1 422.5L364.1 421.3L364.6 421.3L364.6 419.9L365.1 419.9L365.1 419.1L365.6 419.1L365.6 420.8L366.1 420.8L366.1 422.3L366.6 422.3L366.6 423.2L367.1 423.2L367.1 423.9L367.6 423.9L367.6 423.2L368.1 423.2L368.1 422.0L368.6 422.0L368.6 420.9L369.1 420.9L369.1 421.0L369.6 421.0L369.6 421.4L370.1 421.4L370.1 423.0L370.6 423.0L370.6 422.1L371.1 422.1L371.1 421.8L371.6 421.8L371.6 423.1L372.1 423.1L372.1 422.8L372.6 422.8L372.6 421.2L373.1 421.2L373.1 421.8L373.6 421.8L373.6 422.4L374.1 422.4L374.1 422.8L374.6 422.8L374.6 422.8L375.1 422.8L375.1 423.6L375.6 423.6L375.6 424.0L376.1 424.0L376.1 423.7L376.6 423.7L376.6 423.1L377.1 423.1L377.1 422.6L377.6 422.6L377.6 423.1L378.1 423.1L378.1 423.0L378.6 423.0L378.6 423.4L379.1 423.4L379.1 423.3L379.6 423.3L379.6 424.1L380.1 424.1L380.1 422.9L380.6 422.9L380.6 422.6L381.1 422.6L381.1 421.7L381.6 421.7L381.6 423.1L382.1 423.1L382.1 422.8L382.6 422.8L382.6 422.9L383.1 422.9L383.1 423.9L383.6 423.9L383.6 423.5L384.1 423.5L384.1 423.9L384.6 423.9L384.6 423.1L385.1 423.1L385.1 425.3L385.6 425.3L385.6 424.9L386.1 424.9L386.1 425.1L386.6 425.1L386.6 424.7L387.1 424.7L387.1 424.6L387.6 424.6L387.6 424.6L388.1 424.6L388.1 425.0L388.6 425.0L388.6 425.1L389.1 425.1L389.1 424.9L389.6 424.9L389.6 425.2L390.1 425.2L390.1 424.8L390.6 424.8L390.6 425.1L391.1 425.1L391.1 424.6L391.6 424.6L391.6 424.9L392.1 424.9L392.1 425.0L392.6 425.0L392.6 425.2L393.1 425.2L393.1 425.2L393.6 425.2L393.6 425.2L394.1 425.2L394.1 424.6L394.6 424.6L394.6 424.4L395.1 424.4L395.1 424.6L395.6 424.6L395.6 425.3L396.1 425.3L396.1 424.6L396.6 424.6L396.6 425.3L397.1 425.3L397.1 424.4L397.6 424.4L397.6 424.7L398.1 424.7L398.1 424.7L398.6 424.7L398.6 425.2L399.1 425.2L399.1 425.1L399.6 425.1L399.6 425.1L400.1 425.1L400.1 425.3L400.6 425.3L400.6 424.8L401.1 424.8L401.1 425.2L401.6 425.2L401.6 425.1L402.1 425.1L402.1 425.1L402.6 425.1L402.6 424.8L403.1 424.8L403.1 425.3L403.6 425.3L403.6 425.2L404.1 425.2L404.1 423.7L404.6 423.7L404.6 425.1L405.1 425.1L405.1 424.6L405.6 424.6L405.6 425.1L406.1 425.1L406.1 425.0L406.6 425.0L406.6 425.1L407.1 425.1L407.1 424.8L407.6 424.8L407.6 425.2L408.1 425.2L408.1 424.4L408.6 424.4L408.6 424.6L409.1 424.6L409.1 424.8L409.6 424.8L409.6 425.1L410.1 425.1L410.1 425.2L410.6 425.2L410.6 424.8L411.1 424.8L411.1 424.8L411.6 424.8L411.6 424.7L412.1 424.7L412.1 424.9L412.6 424.9L412.6 424.7L413.1 424.7L413.1 424.7L413.6 424.7L413.6 424.3L414.1 424.3L414.1 425.9L414.6 425.9L414.6 426.3Z" fill="#f6c51d"/>
<line x1="288.1" y1="439.6" x2="414.8" y2="439.6" stroke="#f0922c" stroke-opacity="0.9" stroke-width="1.3"/>
<path d="M288.6 439.6L288.6 437.0L289.1 437.0L289.1 437.2L289.6 437.2L289.6 437.0L290.1 437.0L290.1 436.6L290.6 436.6L290.6 436.2L291.1 436.2L291.1 437.7L291.6 437.7L291.6 437.3L292.1 437.3L292.1 437.1L292.6 437.1L292.6 436.8L293.1 436.8L293.1 437.4L293.6 437.4L293.6 437.5L294.1 437.5L294.1 436.4L294.6 436.4L294.6 435.3L295.1 435.3L295.1 436.6L295.6 436.6L295.6 437.0L296.1 437.0L296.1 434.2L296.6 434.2L296.6 437.7L297.1 437.7L297.1 437.1L297.6 437.1L297.6 437.4L298.1 437.4L298.1 437.7L298.6 437.7L298.6 435.7L299.1 435.7L299.1 436.0L299.6 436.0L299.6 436.6L300.1 436.6L300.1 433.5L300.6 433.5L300.6 437.6L301.1 437.6L301.1 436.3L301.6 436.3L301.6 434.6L302.1 434.6L302.1 437.7L302.6 437.7L302.6 437.0L303.1 437.0L303.1 437.4L303.6 437.4L303.6 435.0L304.1 435.0L304.1 435.2L304.6 435.2L304.6 437.4L305.1 437.4L305.1 437.1L305.6 437.1L305.6 435.2L306.1 435.2L306.1 437.0L306.6 437.0L306.6 437.5L307.1 437.5L307.1 437.1L307.6 437.1L307.6 436.0L308.1 436.0L308.1 436.9L308.6 436.9L308.6 436.5L309.1 436.5L309.1 437.0L309.6 437.0L309.6 436.4L310.1 436.4L310.1 434.3L310.6 434.3L310.6 437.6L311.1 437.6L311.1 434.4L311.6 434.4L311.6 437.0L312.1 437.0L312.1 437.2L312.6 437.2L312.6 436.9L313.1 436.9L313.1 437.1L313.6 437.1L313.6 437.0L314.1 437.0L314.1 437.3L314.6 437.3L314.6 436.2L315.1 436.2L315.1 436.1L315.6 436.1L315.6 435.5L316.1 435.5L316.1 436.6L316.6 436.6L316.6 437.5L317.1 437.5L317.1 435.4L317.6 435.4L317.6 436.4L318.1 436.4L318.1 436.4L318.6 436.4L318.6 437.3L319.1 437.3L319.1 437.4L319.6 437.4L319.6 437.5L320.1 437.5L320.1 435.8L320.6 435.8L320.6 437.7L321.1 437.7L321.1 437.6L321.6 437.6L321.6 437.5L322.1 437.5L322.1 437.6L322.6 437.6L322.6 434.8L323.1 434.8L323.1 436.4L323.6 436.4L323.6 437.0L324.1 437.0L324.1 436.1L324.6 436.1L324.6 437.3L325.1 437.3L325.1 436.4L325.6 436.4L325.6 436.7L326.1 436.7L326.1 437.3L326.6 437.3L326.6 437.5L327.1 437.5L327.1 437.1L327.6 437.1L327.6 436.9L328.1 436.9L328.1 435.5L328.6 435.5L328.6 436.1L329.1 436.1L329.1 437.7L329.6 437.7L329.6 436.0L330.1 436.0L330.1 437.3L330.6 437.3L330.6 436.6L331.1 436.6L331.1 437.2L331.6 437.2L331.6 437.7L332.1 437.7L332.1 436.5L332.6 436.5L332.6 434.6L333.1 434.6L333.1 436.2L333.6 436.2L333.6 435.2L334.1 435.2L334.1 435.5L334.6 435.5L334.6 436.3L335.1 436.3L335.1 436.3L335.6 436.3L335.6 436.4L336.1 436.4L336.1 435.6L336.6 435.6L336.6 435.8L337.1 435.8L337.1 436.3L337.6 436.3L337.6 436.5L338.1 436.5L338.1 436.0L338.6 436.0L338.6 436.1L339.1 436.1L339.1 435.3L339.6 435.3L339.6 437.1L340.1 437.1L340.1 437.4L340.6 437.4L340.6 435.4L341.1 435.4L341.1 435.5L341.6 435.5L341.6 436.6L342.1 436.6L342.1 436.4L342.6 436.4L342.6 437.0L343.1 437.0L343.1 436.8L343.6 436.8L343.6 437.1L344.1 437.1L344.1 436.9L344.6 436.9L344.6 434.4L345.1 434.4L345.1 436.6L345.6 436.6L345.6 437.7L346.1 437.7L346.1 436.5L346.6 436.5L346.6 437.2L347.1 437.2L347.1 436.8L347.6 436.8L347.6 435.8L348.1 435.8L348.1 437.0L348.6 437.0L348.6 434.3L349.1 434.3L349.1 437.7L349.6 437.7L349.6 437.7L350.1 437.7L350.1 436.9L350.6 436.9L350.6 437.0L351.1 437.0L351.1 433.3L351.6 433.3L351.6 433.3L352.1 433.3L352.1 433.2L352.6 433.2L352.6 433.2L353.1 433.2L353.1 435.1L353.6 435.1L353.6 436.8L354.1 436.8L354.1 437.7L354.6 437.7L354.6 436.4L355.1 436.4L355.1 436.3L355.6 436.3L355.6 436.8L356.1 436.8L356.1 437.1L356.6 437.1L356.6 437.2L357.1 437.2L357.1 437.1L357.6 437.1L357.6 437.2L358.1 437.2L358.1 436.3L358.6 436.3L358.6 436.1L359.1 436.1L359.1 436.3L359.6 436.3L359.6 435.8L360.1 435.8L360.1 437.7L360.6 437.7L360.6 437.6L361.1 437.6L361.1 433.9L361.6 433.9L361.6 437.6L362.1 437.6L362.1 436.0L362.6 436.0L362.6 436.2L363.1 436.2L363.1 435.4L363.6 435.4L363.6 436.7L364.1 436.7L364.1 436.3L364.6 436.3L364.6 431.0L365.1 431.0L365.1 431.5L365.6 431.5L365.6 430.8L366.1 430.8L366.1 430.7L366.6 430.7L366.6 431.0L367.1 431.0L367.1 434.4L367.6 434.4L367.6 434.3L368.1 434.3L368.1 434.2L368.6 434.2L368.6 435.2L369.1 435.2L369.1 435.6L369.6 435.6L369.6 435.4L370.1 435.4L370.1 436.0L370.6 436.0L370.6 436.4L371.1 436.4L371.1 437.1L371.6 437.1L371.6 435.7L372.1 435.7L372.1 437.3L372.6 437.3L372.6 434.8L373.1 434.8L373.1 436.1L373.6 436.1L373.6 435.3L374.1 435.3L374.1 435.2L374.6 435.2L374.6 435.1L375.1 435.1L375.1 435.1L375.6 435.1L375.6 437.0L376.1 437.0L376.1 436.4L376.6 436.4L376.6 434.1L377.1 434.1L377.1 437.3L377.6 437.3L377.6 436.5L378.1 436.5L378.1 436.1L378.6 436.1L378.6 436.8L379.1 436.8L379.1 433.1L379.6 433.1L379.6 436.8L380.1 436.8L380.1 436.4L380.6 436.4L380.6 437.1L381.1 437.1L381.1 435.2L381.6 435.2L381.6 437.0L382.1 437.0L382.1 437.6L382.6 437.6L382.6 437.3L383.1 437.3L383.1 436.3L383.6 436.3L383.6 435.9L384.1 435.9L384.1 432.7L384.6 432.7L384.6 434.8L385.1 434.8L385.1 437.5L385.6 437.5L385.6 434.3L386.1 434.3L386.1 437.1L386.6 437.1L386.6 437.5L387.1 437.5L387.1 437.0L387.6 437.0L387.6 436.9L388.1 436.9L388.1 434.7L388.6 434.7L388.6 437.3L389.1 437.3L389.1 437.0L389.6 437.0L389.6 435.6L390.1 435.6L390.1 434.8L390.6 434.8L390.6 434.4L391.1 434.4L391.1 435.2L391.6 435.2L391.6 436.3L392.1 436.3L392.1 436.9L392.6 436.9L392.6 436.6L393.1 436.6L393.1 436.6L393.6 436.6L393.6 436.9L394.1 436.9L394.1 436.9L394.6 436.9L394.6 435.9L395.1 435.9L395.1 437.2L395.6 437.2L395.6 436.9L396.1 436.9L396.1 437.4L396.6 437.4L396.6 436.8L397.1 436.8L397.1 437.0L397.6 437.0L397.6 437.2L398.1 437.2L398.1 437.4L398.6 437.4L398.6 435.3L399.1 435.3L399.1 436.5L399.6 436.5L399.6 437.1L400.1 437.1L400.1 435.0L400.6 435.0L400.6 435.4L401.1 435.4L401.1 437.3L401.6 437.3L401.6 437.0L402.1 437.0L402.1 435.0L402.6 435.0L402.6 437.0L403.1 437.0L403.1 436.3L403.6 436.3L403.6 435.4L404.1 435.4L404.1 436.6L404.6 436.6L404.6 436.5L405.1 436.5L405.1 436.3L405.6 436.3L405.6 436.8L406.1 436.8L406.1 437.5L406.6 437.5L406.6 436.1L407.1 436.1L407.1 435.4L407.6 435.4L407.6 436.0L408.1 436.0L408.1 437.1L408.6 437.1L408.6 436.9L409.1 436.9L409.1 437.2L409.6 437.2L409.6 437.6L410.1 437.6L410.1 437.2L410.6 437.2L410.6 437.1L411.1 437.1L411.1 434.4L411.6 434.4L411.6 435.5L412.1 435.5L412.1 434.8L412.6 434.8L412.6 434.9L413.1 434.9L413.1 436.1L413.6 436.1L413.6 437.3L414.1 437.3L414.1 437.6L414.6 437.6L414.6 439.6Z" fill="#f0922c"/>
<rect x="351.0" y="281.9" width="3.0" height="158.2" fill="#a0a0a0" fill-opacity="0.33"/>
<rect x="364.1" y="281.9" width="2.7" height="158.2" fill="#a0a0a0" fill-opacity="0.33"/>
<rect x="287.6" y="233.0" width="127.7" height="207.1" fill="none" stroke="#5a5a5a" stroke-width="1"/>
<rect x="459.5" y="231.5" width="125.8" height="208.4" fill="#f9f9f9"/>
<line x1="459.5" y1="251.8" x2="585.3" y2="251.8" stroke="#dedede" stroke-width="0.8"/>
<line x1="459.5" y1="264.8" x2="585.3" y2="264.8" stroke="#dedede" stroke-width="0.8"/>
<line x1="459.5" y1="279.6" x2="585.3" y2="279.6" stroke="#dedede" stroke-width="0.8"/>
<line x1="459.5" y1="291.4" x2="585.3" y2="291.4" stroke="#ffffff" stroke-width="1"/>
<line x1="459.5" y1="304.9" x2="585.3" y2="304.9" stroke="#ffffff" stroke-width="1"/>
<line x1="459.5" y1="318.3" x2="585.3" y2="318.3" stroke="#ffffff" stroke-width="1"/>
<line x1="459.5" y1="331.8" x2="585.3" y2="331.8" stroke="#ffffff" stroke-width="1"/>
<line x1="459.5" y1="345.3" x2="585.3" y2="345.3" stroke="#ffffff" stroke-width="1"/>
<line x1="459.5" y1="358.8" x2="585.3" y2="358.8" stroke="#ffffff" stroke-width="1"/>
<line x1="459.5" y1="372.2" x2="585.3" y2="372.2" stroke="#ffffff" stroke-width="1"/>
<line x1="459.5" y1="385.7" x2="585.3" y2="385.7" stroke="#ffffff" stroke-width="1"/>
<line x1="459.5" y1="399.2" x2="585.3" y2="399.2" stroke="#ffffff" stroke-width="1"/>
<line x1="459.5" y1="412.6" x2="585.3" y2="412.6" stroke="#ffffff" stroke-width="1"/>
<line x1="459.5" y1="426.1" x2="585.3" y2="426.1" stroke="#ffffff" stroke-width="1"/>
<line x1="460.0" y1="277.7" x2="584.8" y2="277.7" stroke="#bbbbcc" stroke-opacity="0.6" stroke-width="1.3"/>
<path d="M492.0 277.7L492.0 277.5L492.5 277.5L492.5 277.4L493.0 277.4L493.0 277.2L493.5 277.2L493.5 277.0L494.0 277.0L494.0 276.9L494.5 276.9L494.5 276.8L495.0 276.8L495.0 276.6L495.5 276.6L495.5 276.7L496.0 276.7L496.0 276.9L496.5 276.9L496.5 277.0L497.0 277.0L497.0 276.6L497.5 276.6L497.5 276.4L498.0 276.4L498.0 276.1L498.5 276.1L498.5 276.3L499.0 276.3L499.0 276.7L499.5 276.7L499.5 277.1L500.0 277.1L500.0 277.0L500.5 277.0L500.5 276.8L501.0 276.8L501.0 276.7L501.5 276.7L501.5 276.8L502.0 276.8L502.0 277.0L502.5 277.0L502.5 277.3L503.0 277.3L503.0 277.5L503.5 277.5L503.5 277.7ZM525.0 277.7L525.0 277.4L525.5 277.4L525.5 277.4L526.0 277.4L526.0 276.8L526.5 276.8L526.5 276.8L527.0 276.8L527.0 276.9L527.5 276.9L527.5 276.8L528.0 276.8L528.0 276.9L528.5 276.9L528.5 277.4L529.0 277.4L529.0 277.4L529.5 277.4L529.5 277.7ZM551.0 277.7L551.0 277.4L551.5 277.4L551.5 277.4L552.0 277.4L552.0 276.9L552.5 276.9L552.5 276.9L553.0 276.9L553.0 276.9L553.5 276.9L553.5 276.9L554.0 276.9L554.0 276.8L554.5 276.8L554.5 277.4L555.0 277.4L555.0 277.4L555.5 277.4L555.5 277.7Z" fill="#1a2db5"/>
<path d="M469.0 280.7L469.0 282.6L469.5 282.6L469.5 284.1L470.0 284.1L470.0 282.4L470.5 282.4L470.5 283.2L471.0 283.2L471.0 283.2L471.5 283.2L471.5 282.5L472.0 282.5L472.0 282.6L472.5 282.6L472.5 282.4L473.0 282.4L473.0 284.5L473.5 284.5L473.5 284.3L474.0 284.3L474.0 284.4L474.5 284.4L474.5 284.5L475.0 284.5L475.0 284.3L475.5 284.3L475.5 282.7L476.0 282.7L476.0 282.8L476.5 282.8L476.5 283.0L477.0 283.0L477.0 284.8L477.5 284.8L477.5 284.8L478.0 284.8L478.0 284.8L478.5 284.8L478.5 285.0L479.0 285.0L479.0 284.7L479.5 284.7L479.5 282.3L480.0 282.3L480.0 284.8L480.5 284.8L480.5 285.0L481.0 285.0L481.0 284.9L481.5 284.9L481.5 284.8L482.0 284.8L482.0 285.1L482.5 285.1L482.5 283.3L483.0 283.3L483.0 282.5L483.5 282.5L483.5 283.3L484.0 283.3L484.0 282.3L484.5 282.3L484.5 282.6L485.0 282.6L485.0 284.0L485.5 284.0L485.5 284.0L486.0 284.0L486.0 283.8L486.5 283.8L486.5 283.8L487.0 283.8L487.0 284.0L487.5 284.0L487.5 283.3L488.0 283.3L488.0 283.0L488.5 283.0L488.5 283.2L489.0 283.2L489.0 282.6L489.5 282.6L489.5 283.1L490.0 283.1L490.0 282.7L490.5 282.7L490.5 280.7ZM492.5 280.7L492.5 284.8L493.0 284.8L493.0 284.5L493.5 284.5L493.5 291.7L494.0 291.7L494.0 291.4L494.5 291.4L494.5 291.6L495.0 291.6L495.0 290.8L495.5 290.8L495.5 284.5L496.0 284.5L496.0 285.1L496.5 285.1L496.5 280.7ZM497.5 280.7L497.5 281.5L498.0 281.5L498.0 281.5L498.5 281.5L498.5 281.3L499.0 281.3L499.0 281.3L499.5 281.3L499.5 281.8L500.0 281.8L500.0 281.4L500.5 281.4L500.5 281.6L501.0 281.6L501.0 281.6L501.5 281.6L501.5 281.5L502.0 281.5L502.0 281.5L502.5 281.5L502.5 281.7L503.0 281.7L503.0 281.4L503.5 281.4L503.5 280.7Z" fill="#ec3f1f"/>
<line x1="460.0" y1="304.6" x2="584.8" y2="304.6" stroke="#8a8aee" stroke-opacity="0.85" stroke-width="1.3"/>
<path d="M460.5 304.6L460.5 302.4L461.0 302.4L461.0 303.0L461.5 303.0L461.5 303.0L462.0 303.0L462.0 302.8L462.5 302.8L462.5 302.6L463.0 302.6L463.0 302.8L463.5 302.8L463.5 302.9L464.0 302.9L464.0 302.9L464.5 302.9L464.5 302.7L465.0 302.7L465.0 302.8L465.5 302.8L465.5 302.9L466.0 302.9L466.0 302.7L466.5 302.7L466.5 302.8L467.0 302.8L467.0 302.7L467.5 302.7L467.5 303.0L468.0 303.0L468.0 302.2L468.5 302.2L468.5 302.9L469.0 302.9L469.0 303.0L469.5 303.0L469.5 302.7L470.0 302.7L470.0 302.8L470.5 302.8L470.5 302.9L471.0 302.9L471.0 302.5L471.5 302.5L471.5 302.7L472.0 302.7L472.0 302.7L472.5 302.7L472.5 302.9L473.0 302.9L473.0 303.1L473.5 303.1L473.5 303.0L474.0 303.0L474.0 302.2L474.5 302.2L474.5 302.7L475.0 302.7L475.0 300.9L475.5 300.9L475.5 300.9L476.0 300.9L476.0 301.0L476.5 301.0L476.5 300.9L477.0 300.9L477.0 300.9L477.5 300.9L477.5 300.7L478.0 300.7L478.0 300.7L478.5 300.7L478.5 301.3L479.0 301.3L479.0 301.0L479.5 301.0L479.5 301.2L480.0 301.2L480.0 300.5L480.5 300.5L480.5 301.0L481.0 301.0L481.0 301.3L481.5 301.3L481.5 301.0L482.0 301.0L482.0 301.3L482.5 301.3L482.5 300.9L483.0 300.9L483.0 301.0L483.5 301.0L483.5 300.8L484.0 300.8L484.0 300.2L484.5 300.2L484.5 300.6L485.0 300.6L485.0 301.1L485.5 301.1L485.5 300.7L486.0 300.7L486.0 301.3L486.5 301.3L486.5 300.4L487.0 300.4L487.0 300.5L487.5 300.5L487.5 299.7L488.0 299.7L488.0 299.1L488.5 299.1L488.5 299.0L489.0 299.0L489.0 300.9L489.5 300.9L489.5 301.0L490.0 301.0L490.0 296.0L490.5 296.0L490.5 295.4L491.0 295.4L491.0 295.3L491.5 295.3L491.5 295.4L492.0 295.4L492.0 296.0L492.5 296.0L492.5 292.6L493.0 292.6L493.0 292.6L493.5 292.6L493.5 292.6L494.0 292.6L494.0 292.6L494.5 292.6L494.5 299.5L495.0 299.5L495.0 294.0L495.5 294.0L495.5 293.9L496.0 293.9L496.0 294.1L496.5 294.1L496.5 294.6L497.0 294.6L497.0 294.7L497.5 294.7L497.5 300.7L498.0 300.7L498.0 297.2L498.5 297.2L498.5 297.2L499.0 297.2L499.0 297.0L499.5 297.0L499.5 297.0L500.0 297.0L500.0 297.0L500.5 297.0L500.5 301.0L501.0 301.0L501.0 301.1L501.5 301.1L501.5 300.5L502.0 300.5L502.0 300.7L502.5 300.7L502.5 299.6L503.0 299.6L503.0 298.3L503.5 298.3L503.5 298.9L504.0 298.9L504.0 300.9L504.5 300.9L504.5 300.0L505.0 300.0L505.0 300.5L505.5 300.5L505.5 301.2L506.0 301.2L506.0 300.5L506.5 300.5L506.5 301.2L507.0 301.2L507.0 299.5L507.5 299.5L507.5 298.0L508.0 298.0L508.0 296.8L508.5 296.8L508.5 298.3L509.0 298.3L509.0 299.4L509.5 299.4L509.5 301.0L510.0 301.0L510.0 301.2L510.5 301.2L510.5 301.1L511.0 301.1L511.0 298.6L511.5 298.6L511.5 297.1L512.0 297.1L512.0 295.3L512.5 295.3L512.5 296.5L513.0 296.5L513.0 299.2L513.5 299.2L513.5 300.9L514.0 300.9L514.0 300.8L514.5 300.8L514.5 299.1L515.0 299.1L515.0 298.4L515.5 298.4L515.5 299.0L516.0 299.0L516.0 300.6L516.5 300.6L516.5 301.2L517.0 301.2L517.0 301.1L517.5 301.1L517.5 299.8L518.0 299.8L518.0 300.6L518.5 300.6L518.5 300.7L519.0 300.7L519.0 301.1L519.5 301.1L519.5 300.5L520.0 300.5L520.0 300.7L520.5 300.7L520.5 300.6L521.0 300.6L521.0 301.2L521.5 301.2L521.5 300.9L522.0 300.9L522.0 300.9L522.5 300.9L522.5 301.0L523.0 301.0L523.0 301.3L523.5 301.3L523.5 301.2L524.0 301.2L524.0 300.5L524.5 300.5L524.5 300.4L525.0 300.4L525.0 300.5L525.5 300.5L525.5 300.5L526.0 300.5L526.0 300.5L526.5 300.5L526.5 300.7L527.0 300.7L527.0 301.2L527.5 301.2L527.5 301.1L528.0 301.1L528.0 301.2L528.5 301.2L528.5 301.1L529.0 301.1L529.0 300.5L529.5 300.5L529.5 300.8L530.0 300.8L530.0 300.6L530.5 300.6L530.5 300.5L531.0 300.5L531.0 299.4L531.5 299.4L531.5 300.8L532.0 300.8L532.0 300.2L532.5 300.2L532.5 300.9L533.0 300.9L533.0 300.5L533.5 300.5L533.5 301.1L534.0 301.1L534.0 300.1L534.5 300.1L534.5 300.4L535.0 300.4L535.0 300.5L535.5 300.5L535.5 300.5L536.0 300.5L536.0 300.7L536.5 300.7L536.5 301.0L537.0 301.0L537.0 301.1L537.5 301.1L537.5 301.1L538.0 301.1L538.0 300.5L538.5 300.5L538.5 300.6L539.0 300.6L539.0 300.7L539.5 300.7L539.5 301.1L540.0 301.1L540.0 300.6L540.5 300.6L540.5 300.9L541.0 300.9L541.0 300.5L541.5 300.5L541.5 301.3L542.0 301.3L542.0 301.3L542.5 301.3L542.5 300.5L543.0 300.5L543.0 301.2L543.5 301.2L543.5 300.8L544.0 300.8L544.0 299.8L544.5 299.8L544.5 299.3L545.0 299.3L545.0 298.9L545.5 298.9L545.5 298.6L546.0 298.6L546.0 300.0L546.5 300.0L546.5 300.5L547.0 300.5L547.0 300.1L547.5 300.1L547.5 300.9L548.0 300.9L548.0 299.6L548.5 299.6L548.5 297.5L549.0 297.5L549.0 297.9L549.5 297.9L549.5 297.9L550.0 297.9L550.0 298.4L550.5 298.4L550.5 297.1L551.0 297.1L551.0 296.3L551.5 296.3L551.5 296.3L552.0 296.3L552.0 298.5L552.5 298.5L552.5 300.4L553.0 300.4L553.0 301.0L553.5 301.0L553.5 299.8L554.0 299.8L554.0 298.9L554.5 298.9L554.5 298.0L555.0 298.0L555.0 296.9L555.5 296.9L555.5 297.4L556.0 297.4L556.0 298.7L556.5 298.7L556.5 300.0L557.0 300.0L557.0 300.8L557.5 300.8L557.5 300.6L558.0 300.6L558.0 300.8L558.5 300.8L558.5 301.2L559.0 301.2L559.0 300.4L559.5 300.4L559.5 301.2L560.0 301.2L560.0 300.9L560.5 300.9L560.5 301.2L561.0 301.2L561.0 300.9L561.5 300.9L561.5 300.9L562.0 300.9L562.0 300.3L562.5 300.3L562.5 301.0L563.0 301.0L563.0 300.6L563.5 300.6L563.5 301.3L564.0 301.3L564.0 300.8L564.5 300.8L564.5 299.9L565.0 299.9L565.0 300.4L565.5 300.4L565.5 300.2L566.0 300.2L566.0 300.7L566.5 300.7L566.5 300.7L567.0 300.7L567.0 300.4L567.5 300.4L567.5 300.6L568.0 300.6L568.0 300.8L568.5 300.8L568.5 301.3L569.0 301.3L569.0 301.2L569.5 301.2L569.5 300.6L570.0 300.6L570.0 300.5L570.5 300.5L570.5 300.7L571.0 300.7L571.0 301.2L571.5 301.2L571.5 300.7L572.0 300.7L572.0 301.2L572.5 301.2L572.5 300.5L573.0 300.5L573.0 300.5L573.5 300.5L573.5 301.3L574.0 301.3L574.0 300.5L574.5 300.5L574.5 300.3L575.0 300.3L575.0 299.9L575.5 299.9L575.5 300.2L576.0 300.2L576.0 300.8L576.5 300.8L576.5 301.2L577.0 301.2L577.0 300.8L577.5 300.8L577.5 300.8L578.0 300.8L578.0 300.4L578.5 300.4L578.5 300.8L579.0 300.8L579.0 300.8L579.5 300.8L579.5 300.5L580.0 300.5L580.0 300.9L580.5 300.9L580.5 300.2L581.0 300.2L581.0 301.1L581.5 301.1L581.5 300.5L582.0 300.5L582.0 300.7L582.5 300.7L582.5 300.9L583.0 300.9L583.0 301.2L583.5 301.2L583.5 301.1L584.0 301.1L584.0 301.1L584.5 301.1L584.5 304.6Z" fill="#8a8aee"/>
<line x1="460.0" y1="318.1" x2="584.8" y2="318.1" stroke="#4db4dc" stroke-opacity="0.5" stroke-width="1.3"/>
<path d="M460.5 318.1L460.5 317.0L461.0 317.0L461.0 316.8L461.5 316.8L461.5 317.0L462.0 317.0L462.0 315.0L462.5 315.0L462.5 314.8L463.0 314.8L463.0 314.9L463.5 314.9L463.5 314.9L464.0 314.9L464.0 314.7L464.5 314.7L464.5 316.9L465.0 316.9L465.0 316.9L465.5 316.9L465.5 318.1ZM469.0 318.1L469.0 317.5L469.5 317.5L469.5 318.1ZM471.5 318.1L471.5 317.1L472.0 317.1L472.0 317.5L472.5 317.5L472.5 318.1ZM473.0 318.1L473.0 317.2L473.5 317.2L473.5 318.1ZM474.0 318.1L474.0 317.2L474.5 317.2L474.5 317.4L475.0 317.4L475.0 316.0L475.5 316.0L475.5 315.8L476.0 315.8L476.0 316.0L476.5 316.0L476.5 315.9L477.0 315.9L477.0 316.0L477.5 316.0L477.5 317.4L478.0 317.4L478.0 317.0L478.5 317.0L478.5 318.1ZM482.0 318.1L482.0 317.2L482.5 317.2L482.5 316.9L483.0 316.9L483.0 318.1ZM484.5 318.1L484.5 316.9L485.0 316.9L485.0 318.1ZM486.0 318.1L486.0 317.4L486.5 317.4L486.5 318.1ZM487.0 318.1L487.0 316.4L487.5 316.4L487.5 318.1ZM488.5 318.1L488.5 314.7L489.0 314.7L489.0 314.8L489.5 314.8L489.5 307.1L490.0 307.1L490.0 307.3L490.5 307.3L490.5 307.6L491.0 307.6L491.0 306.9L491.5 306.9L491.5 312.9L492.0 312.9L492.0 312.8L492.5 312.8L492.5 312.9L493.0 312.9L493.0 316.1L493.5 316.1L493.5 316.4L494.0 316.4L494.0 318.1ZM494.5 318.1L494.5 317.1L495.0 317.1L495.0 318.1ZM495.5 318.1L495.5 317.7L496.0 317.7L496.0 318.1ZM497.0 318.1L497.0 316.9L497.5 316.9L497.5 317.5L498.0 317.5L498.0 318.1ZM499.5 318.1L499.5 316.9L500.0 316.9L500.0 317.0L500.5 317.0L500.5 316.3L501.0 316.3L501.0 318.1ZM503.5 318.1L503.5 315.5L504.0 315.5L504.0 315.5L504.5 315.5L504.5 309.9L505.0 309.9L505.0 309.7L505.5 309.7L505.5 309.3L506.0 309.3L506.0 309.5L506.5 309.5L506.5 315.4L507.0 315.4L507.0 314.9L507.5 314.9L507.5 317.2L508.0 317.2L508.0 316.9L508.5 316.9L508.5 316.9L509.0 316.9L509.0 318.1ZM510.0 318.1L510.0 317.5L510.5 317.5L510.5 317.1L511.0 317.1L511.0 318.1ZM515.0 318.1L515.0 317.6L515.5 317.6L515.5 318.1ZM516.0 318.1L516.0 317.4L516.5 317.4L516.5 318.1ZM519.5 318.1L519.5 317.4L520.0 317.4L520.0 318.1ZM521.0 318.1L521.0 315.9L521.5 315.9L521.5 318.1ZM523.0 318.1L523.0 316.4L523.5 316.4L523.5 317.3L524.0 317.3L524.0 316.4L524.5 316.4L524.5 317.0L525.0 317.0L525.0 318.1ZM527.5 318.1L527.5 316.6L528.0 316.6L528.0 316.7L528.5 316.7L528.5 314.0L529.0 314.0L529.0 314.0L529.5 314.0L529.5 313.9L530.0 313.9L530.0 313.7L530.5 313.7L530.5 316.3L531.0 316.3L531.0 316.5L531.5 316.5L531.5 318.1ZM535.0 318.1L535.0 317.1L535.5 317.1L535.5 318.1ZM536.0 318.1L536.0 317.4L536.5 317.4L536.5 318.1ZM537.0 318.1L537.0 317.7L537.5 317.7L537.5 317.4L538.0 317.4L538.0 317.3L538.5 317.3L538.5 317.4L539.0 317.4L539.0 318.1ZM539.5 318.1L539.5 316.6L540.0 316.6L540.0 316.6L540.5 316.6L540.5 313.6L541.0 313.6L541.0 314.0L541.5 314.0L541.5 314.0L542.0 314.0L542.0 313.6L542.5 313.6L542.5 316.7L543.0 316.7L543.0 316.3L543.5 316.3L543.5 317.5L544.0 317.5L544.0 316.9L544.5 316.9L544.5 317.1L545.0 317.1L545.0 317.2L545.5 317.2L545.5 318.1ZM546.5 318.1L546.5 316.9L547.0 316.9L547.0 317.2L547.5 317.2L547.5 318.1ZM548.0 318.1L548.0 316.9L548.5 316.9L548.5 318.1ZM549.0 318.1L549.0 313.6L549.5 313.6L549.5 313.6L550.0 313.6L550.0 307.8L550.5 307.8L550.5 307.2L551.0 307.2L551.0 307.9L551.5 307.9L551.5 307.0L552.0 307.0L552.0 313.0L552.5 313.0L552.5 312.7L553.0 312.7L553.0 312.7L553.5 312.7L553.5 316.0L554.0 316.0L554.0 316.4L554.5 316.4L554.5 316.0L555.0 316.0L555.0 318.1ZM557.5 318.1L557.5 317.1L558.0 317.1L558.0 318.1ZM559.0 318.1L559.0 317.0L559.5 317.0L559.5 318.1ZM560.0 318.1L560.0 317.2L560.5 317.2L560.5 317.4L561.0 317.4L561.0 318.1ZM563.5 318.1L563.5 317.7L564.0 317.7L564.0 318.1ZM565.0 318.1L565.0 316.9L565.5 316.9L565.5 318.1ZM568.0 318.1L568.0 317.0L568.5 317.0L568.5 318.1ZM570.0 318.1L570.0 317.2L570.5 317.2L570.5 316.9L571.0 316.9L571.0 317.0L571.5 317.0L571.5 318.1ZM572.0 318.1L572.0 317.0L572.5 317.0L572.5 318.1ZM573.5 318.1L573.5 317.0L574.0 317.0L574.0 317.1L574.5 317.1L574.5 314.9L575.0 314.9L575.0 314.8L575.5 314.8L575.5 314.8L576.0 314.8L576.0 314.8L576.5 314.8L576.5 314.9L577.0 314.9L577.0 317.0L577.5 317.0L577.5 317.0L578.0 317.0L578.0 318.1ZM581.0 318.1L581.0 317.6L581.5 317.6L581.5 318.1ZM582.0 318.1L582.0 317.0L582.5 317.0L582.5 318.1ZM583.5 318.1L583.5 317.1L584.0 317.1L584.0 318.1Z" fill="#4db4dc"/>
<line x1="460.0" y1="331.5" x2="584.8" y2="331.5" stroke="#a01a3e" stroke-opacity="0.9" stroke-width="1.3"/>
<path d="M461.0 331.5L461.0 331.0L461.5 331.0L461.5 331.5ZM462.0 331.5L462.0 331.1L462.5 331.1L462.5 331.5ZM463.0 331.5L463.0 330.5L463.5 330.5L463.5 330.1L464.0 330.1L464.0 331.5ZM465.0 331.5L465.0 331.0L465.5 331.0L465.5 331.1L466.0 331.1L466.0 330.6L466.5 330.6L466.5 330.4L467.0 330.4L467.0 331.5ZM468.0 331.5L468.0 331.0L468.5 331.0L468.5 331.5ZM469.5 331.5L469.5 330.5L470.0 330.5L470.0 331.5ZM472.0 331.5L472.0 330.9L472.5 330.9L472.5 331.0L473.0 331.0L473.0 330.7L473.5 330.7L473.5 330.4L474.0 330.4L474.0 331.5ZM474.5 331.5L474.5 330.4L475.0 330.4L475.0 331.5ZM477.5 331.5L477.5 330.5L478.0 330.5L478.0 331.5ZM480.0 331.5L480.0 330.5L480.5 330.5L480.5 331.5ZM481.5 331.5L481.5 330.8L482.0 330.8L482.0 331.5ZM483.0 331.5L483.0 331.2L483.5 331.2L483.5 331.5ZM484.5 331.5L484.5 330.4L485.0 330.4L485.0 331.5ZM485.5 331.5L485.5 330.5L486.0 330.5L486.0 331.5ZM486.5 331.5L486.5 331.1L487.0 331.1L487.0 330.7L487.5 330.7L487.5 331.5ZM488.5 331.5L488.5 328.0L489.0 328.0L489.0 329.0L489.5 329.0L489.5 323.3L490.0 323.3L490.0 323.1L490.5 323.1L490.5 323.1L491.0 323.1L491.0 322.7L491.5 322.7L491.5 328.3L492.0 328.3L492.0 328.4L492.5 328.4L492.5 330.4L493.0 330.4L493.0 331.2L493.5 331.2L493.5 331.2L494.0 331.2L494.0 331.5ZM494.5 331.5L494.5 330.6L495.0 330.6L495.0 330.4L495.5 330.4L495.5 330.4L496.0 330.4L496.0 331.1L496.5 331.1L496.5 330.8L497.0 330.8L497.0 331.5ZM497.5 331.5L497.5 331.1L498.0 331.1L498.0 330.7L498.5 330.7L498.5 331.5ZM501.0 331.5L501.0 330.9L501.5 330.9L501.5 331.5ZM503.0 331.5L503.0 330.4L503.5 330.4L503.5 329.5L504.0 329.5L504.0 329.1L504.5 329.1L504.5 325.2L505.0 325.2L505.0 325.0L505.5 325.0L505.5 325.5L506.0 325.5L506.0 325.2L506.5 325.2L506.5 329.4L507.0 329.4L507.0 329.3L507.5 329.3L507.5 330.7L508.0 330.7L508.0 331.5ZM508.5 331.5L508.5 330.4L509.0 330.4L509.0 331.5ZM509.5 331.5L509.5 330.7L510.0 330.7L510.0 331.5ZM511.0 331.5L511.0 331.1L511.5 331.1L511.5 331.1L512.0 331.1L512.0 329.6L512.5 329.6L512.5 330.5L513.0 330.5L513.0 331.5ZM516.0 331.5L516.0 329.8L516.5 329.8L516.5 331.5ZM518.0 331.5L518.0 330.5L518.5 330.5L518.5 331.5ZM519.0 331.5L519.0 330.9L519.5 330.9L519.5 330.6L520.0 330.6L520.0 330.7L520.5 330.7L520.5 331.5ZM521.0 331.5L521.0 330.9L521.5 330.9L521.5 331.2L522.0 331.2L522.0 331.5ZM522.5 331.5L522.5 331.1L523.0 331.1L523.0 329.9L523.5 329.9L523.5 331.1L524.0 331.1L524.0 331.5ZM525.0 331.5L525.0 331.1L525.5 331.1L525.5 330.0L526.0 330.0L526.0 330.4L526.5 330.4L526.5 331.1L527.0 331.1L527.0 331.5ZM528.0 331.5L528.0 330.9L528.5 330.9L528.5 330.8L529.0 330.8L529.0 330.6L529.5 330.6L529.5 331.0L530.0 331.0L530.0 330.8L530.5 330.8L530.5 331.0L531.0 331.0L531.0 330.5L531.5 330.5L531.5 331.0L532.0 331.0L532.0 330.8L532.5 330.8L532.5 331.5ZM533.0 331.5L533.0 329.8L533.5 329.8L533.5 331.5ZM534.0 331.5L534.0 330.9L534.5 330.9L534.5 330.6L535.0 330.6L535.0 330.8L535.5 330.8L535.5 331.5ZM538.5 331.5L538.5 330.6L539.0 330.6L539.0 331.5ZM539.5 331.5L539.5 331.1L540.0 331.1L540.0 330.9L540.5 330.9L540.5 331.5ZM543.5 331.5L543.5 330.9L544.0 330.9L544.0 330.5L544.5 330.5L544.5 330.5L545.0 330.5L545.0 330.0L545.5 330.0L545.5 331.0L546.0 331.0L546.0 331.5ZM546.5 331.5L546.5 330.5L547.0 330.5L547.0 330.6L547.5 330.6L547.5 331.5ZM548.0 331.5L548.0 330.6L548.5 330.6L548.5 331.1L549.0 331.1L549.0 327.7L549.5 327.7L549.5 327.3L550.0 327.3L550.0 320.9L550.5 320.9L550.5 321.2L551.0 321.2L551.0 320.9L551.5 320.9L551.5 320.8L552.0 320.8L552.0 321.4L552.5 321.4L552.5 327.6L553.0 327.6L553.0 327.6L553.5 327.6L553.5 331.5ZM554.0 331.5L554.0 330.5L554.5 330.5L554.5 330.6L555.0 330.6L555.0 331.1L555.5 331.1L555.5 330.4L556.0 330.4L556.0 331.1L556.5 331.1L556.5 331.1L557.0 331.1L557.0 330.8L557.5 330.8L557.5 330.4L558.0 330.4L558.0 331.5ZM558.5 331.5L558.5 330.4L559.0 330.4L559.0 330.6L559.5 330.6L559.5 329.4L560.0 329.4L560.0 329.5L560.5 329.5L560.5 329.5L561.0 329.5L561.0 329.5L561.5 329.5L561.5 329.4L562.0 329.4L562.0 330.5L562.5 330.5L562.5 330.8L563.0 330.8L563.0 331.5ZM563.5 331.5L563.5 329.4L564.0 329.4L564.0 331.5ZM564.5 331.5L564.5 330.7L565.0 330.7L565.0 330.7L565.5 330.7L565.5 331.5ZM566.5 331.5L566.5 331.1L567.0 331.1L567.0 331.5ZM569.0 331.5L569.0 330.4L569.5 330.4L569.5 330.6L570.0 330.6L570.0 331.0L570.5 331.0L570.5 330.5L571.0 330.5L571.0 330.7L571.5 330.7L571.5 330.8L572.0 330.8L572.0 330.4L572.5 330.4L572.5 330.4L573.0 330.4L573.0 331.5ZM574.0 331.5L574.0 330.9L574.5 330.9L574.5 331.5ZM576.0 331.5L576.0 331.2L576.5 331.2L576.5 331.5ZM577.0 331.5L577.0 331.0L577.5 331.0L577.5 331.5ZM578.0 331.5L578.0 330.9L578.5 330.9L578.5 329.7L579.0 329.7L579.0 329.7L579.5 329.7L579.5 330.4L580.0 330.4L580.0 331.5ZM581.5 331.5L581.5 331.2L582.0 331.2L582.0 331.1L582.5 331.1L582.5 331.5ZM583.0 331.5L583.0 330.1L583.5 330.1L583.5 331.5Z" fill="#a01a3e"/>
<line x1="460.0" y1="345.0" x2="584.8" y2="345.0" stroke="#9c1438" stroke-opacity="0.95" stroke-width="1.3"/>
<path d="M461.0 345.0L461.0 344.2L461.5 344.2L461.5 345.0ZM463.5 345.0L463.5 343.3L464.0 343.3L464.0 343.6L464.5 343.6L464.5 343.6L465.0 343.6L465.0 344.0L465.5 344.0L465.5 343.4L466.0 343.4L466.0 344.4L466.5 344.4L466.5 345.0ZM467.0 345.0L467.0 343.5L467.5 343.5L467.5 343.6L468.0 343.6L468.0 343.8L468.5 343.8L468.5 344.3L469.0 344.3L469.0 343.0L469.5 343.0L469.5 342.9L470.0 342.9L470.0 342.8L470.5 342.8L470.5 343.0L471.0 343.0L471.0 342.9L471.5 342.9L471.5 343.3L472.0 343.3L472.0 344.0L472.5 344.0L472.5 345.0ZM473.0 345.0L473.0 344.2L473.5 344.2L473.5 345.0ZM474.0 345.0L474.0 343.5L474.5 343.5L474.5 344.1L475.0 344.1L475.0 344.3L475.5 344.3L475.5 343.6L476.0 343.6L476.0 344.4L476.5 344.4L476.5 343.0L477.0 343.0L477.0 341.9L477.5 341.9L477.5 343.4L478.0 343.4L478.0 344.1L478.5 344.1L478.5 344.3L479.0 344.3L479.0 342.8L479.5 342.8L479.5 342.8L480.0 342.8L480.0 343.0L480.5 343.0L480.5 342.8L481.0 342.8L481.0 342.9L481.5 342.9L481.5 344.1L482.0 344.1L482.0 344.3L482.5 344.3L482.5 343.7L483.0 343.7L483.0 343.5L483.5 343.5L483.5 343.5L484.0 343.5L484.0 344.1L484.5 344.1L484.5 344.4L485.0 344.4L485.0 345.0ZM486.0 345.0L486.0 342.8L486.5 342.8L486.5 345.0ZM487.0 345.0L487.0 344.3L487.5 344.3L487.5 343.9L488.0 343.9L488.0 341.9L488.5 341.9L488.5 342.3L489.0 342.3L489.0 336.4L489.5 336.4L489.5 336.8L490.0 336.8L490.0 336.9L490.5 336.9L490.5 336.7L491.0 336.7L491.0 336.6L491.5 336.6L491.5 342.0L492.0 342.0L492.0 342.2L492.5 342.2L492.5 345.0ZM493.5 345.0L493.5 343.5L494.0 343.5L494.0 343.3L494.5 343.3L494.5 344.2L495.0 344.2L495.0 343.7L495.5 343.7L495.5 345.0ZM496.5 345.0L496.5 343.5L497.0 343.5L497.0 345.0ZM497.5 345.0L497.5 343.9L498.0 343.9L498.0 345.0ZM499.5 345.0L499.5 344.0L500.0 344.0L500.0 345.0ZM501.0 345.0L501.0 343.9L501.5 343.9L501.5 343.4L502.0 343.4L502.0 345.0ZM502.5 345.0L502.5 343.3L503.0 343.3L503.0 343.0L503.5 343.0L503.5 342.5L504.0 342.5L504.0 338.9L504.5 338.9L504.5 338.6L505.0 338.6L505.0 338.4L505.5 338.4L505.5 338.7L506.0 338.7L506.0 338.5L506.5 338.5L506.5 342.9L507.0 342.9L507.0 342.6L507.5 342.6L507.5 345.0ZM508.0 345.0L508.0 343.2L508.5 343.2L508.5 343.9L509.0 343.9L509.0 343.7L509.5 343.7L509.5 345.0ZM510.5 345.0L510.5 343.4L511.0 343.4L511.0 345.0ZM511.5 345.0L511.5 344.4L512.0 344.4L512.0 343.7L512.5 343.7L512.5 344.1L513.0 344.1L513.0 343.9L513.5 343.9L513.5 343.8L514.0 343.8L514.0 343.6L514.5 343.6L514.5 345.0ZM515.0 345.0L515.0 344.4L515.5 344.4L515.5 343.3L516.0 343.3L516.0 343.8L516.5 343.8L516.5 345.0ZM517.0 345.0L517.0 343.4L517.5 343.4L517.5 344.1L518.0 344.1L518.0 345.0ZM519.0 345.0L519.0 343.8L519.5 343.8L519.5 344.1L520.0 344.1L520.0 343.3L520.5 343.3L520.5 345.0ZM521.0 345.0L521.0 344.2L521.5 344.2L521.5 343.7L522.0 343.7L522.0 343.9L522.5 343.9L522.5 344.5L523.0 344.5L523.0 344.2L523.5 344.2L523.5 344.3L524.0 344.3L524.0 342.9L524.5 342.9L524.5 342.9L525.0 342.9L525.0 342.9L525.5 342.9L525.5 342.8L526.0 342.8L526.0 342.9L526.5 342.9L526.5 343.2L527.0 343.2L527.0 344.3L527.5 344.3L527.5 344.0L528.0 344.0L528.0 344.1L528.5 344.1L528.5 344.1L529.0 344.1L529.0 343.4L529.5 343.4L529.5 345.0ZM530.0 345.0L530.0 341.9L530.5 341.9L530.5 345.0ZM531.5 345.0L531.5 343.4L532.0 343.4L532.0 344.4L532.5 344.4L532.5 345.0ZM533.0 345.0L533.0 344.0L533.5 344.0L533.5 345.0ZM534.0 345.0L534.0 344.1L534.5 344.1L534.5 344.1L535.0 344.1L535.0 345.0ZM536.0 345.0L536.0 343.4L536.5 343.4L536.5 344.2L537.0 344.2L537.0 344.1L537.5 344.1L537.5 345.0ZM538.0 345.0L538.0 344.0L538.5 344.0L538.5 343.5L539.0 343.5L539.0 343.3L539.5 343.3L539.5 343.3L540.0 343.3L540.0 345.0ZM540.5 345.0L540.5 344.3L541.0 344.3L541.0 344.1L541.5 344.1L541.5 345.0ZM542.5 345.0L542.5 343.4L543.0 343.4L543.0 341.8L543.5 341.8L543.5 343.8L544.0 343.8L544.0 345.0ZM544.5 345.0L544.5 344.3L545.0 344.3L545.0 345.0ZM545.5 345.0L545.5 344.1L546.0 344.1L546.0 345.0ZM546.5 345.0L546.5 344.4L547.0 344.4L547.0 343.6L547.5 343.6L547.5 343.6L548.0 343.6L548.0 345.0ZM549.0 345.0L549.0 341.8L549.5 341.8L549.5 340.6L550.0 340.6L550.0 333.9L550.5 333.9L550.5 333.9L551.0 333.9L551.0 334.2L551.5 334.2L551.5 334.4L552.0 334.4L552.0 334.2L552.5 334.2L552.5 340.8L553.0 340.8L553.0 340.7L553.5 340.7L553.5 343.3L554.0 343.3L554.0 345.0ZM554.5 345.0L554.5 344.3L555.0 344.3L555.0 343.5L555.5 343.5L555.5 344.1L556.0 344.1L556.0 342.5L556.5 342.5L556.5 345.0ZM557.5 345.0L557.5 343.9L558.0 343.9L558.0 343.9L558.5 343.9L558.5 343.2L559.0 343.2L559.0 343.4L559.5 343.4L559.5 344.1L560.0 344.1L560.0 343.7L560.5 343.7L560.5 343.7L561.0 343.7L561.0 345.0ZM562.0 345.0L562.0 344.4L562.5 344.4L562.5 345.0ZM563.0 345.0L563.0 343.2L563.5 343.2L563.5 343.3L564.0 343.3L564.0 343.3L564.5 343.3L564.5 344.0L565.0 344.0L565.0 342.4L565.5 342.4L565.5 345.0ZM567.0 345.0L567.0 344.3L567.5 344.3L567.5 343.4L568.0 343.4L568.0 345.0ZM568.5 345.0L568.5 343.8L569.0 343.8L569.0 343.7L569.5 343.7L569.5 343.7L570.0 343.7L570.0 342.1L570.5 342.1L570.5 343.7L571.0 343.7L571.0 343.3L571.5 343.3L571.5 343.3L572.0 343.3L572.0 345.0ZM573.5 345.0L573.5 343.9L574.0 343.9L574.0 344.0L574.5 344.0L574.5 345.0ZM575.0 345.0L575.0 343.5L575.5 343.5L575.5 342.6L576.0 342.6L576.0 343.9L576.5 343.9L576.5 343.4L577.0 343.4L577.0 343.7L577.5 343.7L577.5 344.0L578.0 344.0L578.0 344.4L578.5 344.4L578.5 342.0L579.0 342.0L579.0 343.5L579.5 343.5L579.5 344.2L580.0 344.2L580.0 343.4L580.5 343.4L580.5 345.0ZM581.5 345.0L581.5 343.9L582.0 343.9L582.0 342.0L582.5 342.0L582.5 345.0ZM583.0 345.0L583.0 342.1L583.5 342.1L583.5 343.8L584.0 343.8L584.0 344.1L584.5 344.1L584.5 345.0Z" fill="#9c1438"/>
<line x1="460.0" y1="358.5" x2="584.8" y2="358.5" stroke="#8a3a96" stroke-opacity="0.6" stroke-width="1.3"/>
<path d="M461.5 358.5L461.5 357.8L462.0 357.8L462.0 358.5ZM462.5 358.5L462.5 356.9L463.0 356.9L463.0 358.5ZM464.0 358.5L464.0 358.0L464.5 358.0L464.5 358.1L465.0 358.1L465.0 358.5ZM465.5 358.5L465.5 357.5L466.0 357.5L466.0 358.5ZM466.5 358.5L466.5 357.6L467.0 357.6L467.0 358.5ZM468.0 358.5L468.0 357.8L468.5 357.8L468.5 358.5ZM470.5 358.5L470.5 357.5L471.0 357.5L471.0 358.5ZM476.0 358.5L476.0 357.3L476.5 357.3L476.5 357.5L477.0 357.5L477.0 358.5ZM477.5 358.5L477.5 357.6L478.0 357.6L478.0 358.5ZM479.5 358.5L479.5 357.7L480.0 357.7L480.0 357.3L480.5 357.3L480.5 358.5ZM481.0 358.5L481.0 357.9L481.5 357.9L481.5 358.5ZM486.0 358.5L486.0 356.4L486.5 356.4L486.5 358.5ZM487.0 358.5L487.0 357.4L487.5 357.4L487.5 357.8L488.0 357.8L488.0 358.0L488.5 358.0L488.5 358.5ZM489.5 358.5L489.5 357.9L490.0 357.9L490.0 358.0L490.5 358.0L490.5 358.5ZM493.0 358.5L493.0 358.0L493.5 358.0L493.5 357.5L494.0 357.5L494.0 357.3L494.5 357.3L494.5 358.5ZM495.0 358.5L495.0 357.7L495.5 357.7L495.5 358.5ZM496.0 358.5L496.0 357.7L496.5 357.7L496.5 358.5ZM497.5 358.5L497.5 358.1L498.0 358.1L498.0 358.5ZM500.5 358.5L500.5 358.1L501.0 358.1L501.0 358.5ZM502.5 358.5L502.5 358.0L503.0 358.0L503.0 358.0L503.5 358.0L503.5 355.2L504.0 355.2L504.0 354.7L504.5 354.7L504.5 347.7L505.0 347.7L505.0 348.4L505.5 348.4L505.5 348.0L506.0 348.0L506.0 347.6L506.5 347.6L506.5 355.0L507.0 355.0L507.0 354.0L507.5 354.0L507.5 358.5ZM508.5 358.5L508.5 357.6L509.0 357.6L509.0 358.5ZM511.0 358.5L511.0 357.9L511.5 357.9L511.5 358.5ZM512.0 358.5L512.0 357.9L512.5 357.9L512.5 358.5ZM513.0 358.5L513.0 357.3L513.5 357.3L513.5 358.5ZM517.0 358.5L517.0 357.0L517.5 357.0L517.5 358.5ZM518.0 358.5L518.0 356.9L518.5 356.9L518.5 358.5ZM519.0 358.5L519.0 358.1L519.5 358.1L519.5 358.5ZM520.5 358.5L520.5 357.2L521.0 357.2L521.0 358.0L521.5 358.0L521.5 357.6L522.0 357.6L522.0 357.5L522.5 357.5L522.5 358.5ZM523.0 358.5L523.0 358.1L523.5 358.1L523.5 358.5ZM524.5 358.5L524.5 356.8L525.0 356.8L525.0 357.8L525.5 357.8L525.5 358.5ZM526.0 358.5L526.0 357.5L526.5 357.5L526.5 358.5ZM527.0 358.5L527.0 357.9L527.5 357.9L527.5 357.7L528.0 357.7L528.0 358.5ZM528.5 358.5L528.5 357.7L529.0 357.7L529.0 358.5ZM529.5 358.5L529.5 357.7L530.0 357.7L530.0 358.0L530.5 358.0L530.5 358.5ZM531.0 358.5L531.0 357.9L531.5 357.9L531.5 358.5ZM533.0 358.5L533.0 358.0L533.5 358.0L533.5 358.5ZM534.0 358.5L534.0 357.7L534.5 357.7L534.5 358.5ZM540.0 358.5L540.0 357.5L540.5 357.5L540.5 357.8L541.0 357.8L541.0 358.5ZM541.5 358.5L541.5 357.4L542.0 357.4L542.0 357.5L542.5 357.5L542.5 358.5ZM543.0 358.5L543.0 358.0L543.5 358.0L543.5 358.5ZM547.0 358.5L547.0 356.5L547.5 356.5L547.5 357.9L548.0 357.9L548.0 358.5ZM548.5 358.5L548.5 356.1L549.0 356.1L549.0 356.0L549.5 356.0L549.5 352.3L550.0 352.3L550.0 351.9L550.5 351.9L550.5 352.2L551.0 352.2L551.0 352.3L551.5 352.3L551.5 352.1L552.0 352.1L552.0 356.4L552.5 356.4L552.5 356.2L553.0 356.2L553.0 358.5ZM553.5 358.5L553.5 357.5L554.0 357.5L554.0 357.4L554.5 357.4L554.5 358.5ZM556.0 358.5L556.0 357.6L556.5 357.6L556.5 358.5ZM557.0 358.5L557.0 358.0L557.5 358.0L557.5 358.5ZM559.5 358.5L559.5 357.0L560.0 357.0L560.0 358.5ZM561.5 358.5L561.5 357.7L562.0 357.7L562.0 358.5ZM562.5 358.5L562.5 357.4L563.0 357.4L563.0 357.7L563.5 357.7L563.5 356.4L564.0 356.4L564.0 356.3L564.5 356.3L564.5 356.4L565.0 356.4L565.0 356.3L565.5 356.3L565.5 357.6L566.0 357.6L566.0 357.8L566.5 357.8L566.5 358.5ZM569.0 358.5L569.0 358.1L569.5 358.1L569.5 357.6L570.0 357.6L570.0 357.3L570.5 357.3L570.5 358.5ZM571.0 358.5L571.0 357.6L571.5 357.6L571.5 358.5ZM572.0 358.5L572.0 357.3L572.5 357.3L572.5 358.5ZM573.5 358.5L573.5 357.4L574.0 357.4L574.0 357.8L574.5 357.8L574.5 358.5ZM575.0 358.5L575.0 357.5L575.5 357.5L575.5 357.7L576.0 357.7L576.0 358.5ZM577.5 358.5L577.5 357.4L578.0 357.4L578.0 357.2L578.5 357.2L578.5 358.5ZM579.0 358.5L579.0 357.4L579.5 357.4L579.5 357.6L580.0 357.6L580.0 358.5Z" fill="#8a3a96"/>
<line x1="460.0" y1="372.0" x2="584.8" y2="372.0" stroke="#5b1d66" stroke-opacity="0.8" stroke-width="1.3"/>
<path d="M460.5 372.0L460.5 371.0L461.0 371.0L461.0 367.9L461.5 367.9L461.5 372.0ZM463.5 372.0L463.5 370.0L464.0 370.0L464.0 370.3L464.5 370.3L464.5 369.8L465.0 369.8L465.0 370.1L465.5 370.1L465.5 370.7L466.0 370.7L466.0 372.0ZM466.5 372.0L466.5 369.7L467.0 369.7L467.0 371.1L467.5 371.1L467.5 371.0L468.0 371.0L468.0 369.7L468.5 369.7L468.5 369.8L469.0 369.8L469.0 368.7L469.5 368.7L469.5 371.1L470.0 371.1L470.0 370.9L470.5 370.9L470.5 370.9L471.0 370.9L471.0 372.0ZM471.5 372.0L471.5 369.6L472.0 369.6L472.0 372.0ZM473.0 372.0L473.0 370.3L473.5 370.3L473.5 369.6L474.0 369.6L474.0 367.8L474.5 367.8L474.5 367.7L475.0 367.7L475.0 367.8L475.5 367.8L475.5 367.6L476.0 367.6L476.0 367.5L476.5 367.5L476.5 370.3L477.0 370.3L477.0 367.8L477.5 367.8L477.5 367.6L478.0 367.6L478.0 367.8L478.5 367.8L478.5 367.5L479.0 367.5L479.0 367.6L479.5 367.6L479.5 370.3L480.0 370.3L480.0 368.7L480.5 368.7L480.5 368.9L481.0 368.9L481.0 368.8L481.5 368.8L481.5 368.8L482.0 368.8L482.0 368.6L482.5 368.6L482.5 371.0L483.0 371.0L483.0 370.7L483.5 370.7L483.5 372.0ZM485.0 372.0L485.0 370.9L485.5 370.9L485.5 372.0ZM486.0 372.0L486.0 370.5L486.5 370.5L486.5 369.6L487.0 369.6L487.0 370.2L487.5 370.2L487.5 372.0ZM488.0 372.0L488.0 369.7L488.5 369.7L488.5 369.6L489.0 369.6L489.0 369.9L489.5 369.9L489.5 369.4L490.0 369.4L490.0 369.9L490.5 369.9L490.5 369.8L491.0 369.8L491.0 369.8L491.5 369.8L491.5 369.8L492.0 369.8L492.0 371.1L492.5 371.1L492.5 372.0ZM493.0 372.0L493.0 370.6L493.5 370.6L493.5 372.0ZM494.0 372.0L494.0 370.4L494.5 370.4L494.5 371.2L495.0 371.2L495.0 372.0ZM496.5 372.0L496.5 371.1L497.0 371.1L497.0 372.0ZM497.5 372.0L497.5 370.2L498.0 370.2L498.0 372.0ZM499.0 372.0L499.0 371.0L499.5 371.0L499.5 371.2L500.0 371.2L500.0 370.7L500.5 370.7L500.5 372.0ZM501.0 372.0L501.0 370.6L501.5 370.6L501.5 372.0ZM503.0 372.0L503.0 370.0L503.5 370.0L503.5 367.5L504.0 367.5L504.0 367.5L504.5 367.5L504.5 361.6L505.0 361.6L505.0 361.5L505.5 361.5L505.5 361.7L506.0 361.7L506.0 361.0L506.5 361.0L506.5 367.9L507.0 367.9L507.0 368.5L507.5 368.5L507.5 369.7L508.0 369.7L508.0 370.7L508.5 370.7L508.5 371.0L509.0 371.0L509.0 369.8L509.5 369.8L509.5 370.7L510.0 370.7L510.0 370.2L510.5 370.2L510.5 370.7L511.0 370.7L511.0 372.0ZM511.5 372.0L511.5 370.9L512.0 370.9L512.0 370.0L512.5 370.0L512.5 372.0ZM513.0 372.0L513.0 370.5L513.5 370.5L513.5 372.0ZM514.0 372.0L514.0 370.9L514.5 370.9L514.5 370.2L515.0 370.2L515.0 369.8L515.5 369.8L515.5 369.8L516.0 369.8L516.0 372.0ZM516.5 372.0L516.5 370.3L517.0 370.3L517.0 372.0ZM518.5 372.0L518.5 369.6L519.0 369.6L519.0 370.2L519.5 370.2L519.5 370.5L520.0 370.5L520.0 369.7L520.5 369.7L520.5 372.0ZM521.0 372.0L521.0 370.8L521.5 370.8L521.5 370.3L522.0 370.3L522.0 370.9L522.5 370.9L522.5 372.0ZM523.0 372.0L523.0 369.8L523.5 369.8L523.5 370.6L524.0 370.6L524.0 370.2L524.5 370.2L524.5 372.0ZM525.0 372.0L525.0 368.9L525.5 368.9L525.5 369.7L526.0 369.7L526.0 371.2L526.5 371.2L526.5 370.3L527.0 370.3L527.0 372.0ZM527.5 372.0L527.5 369.8L528.0 369.8L528.0 369.0L528.5 369.0L528.5 372.0ZM529.0 372.0L529.0 370.0L529.5 370.0L529.5 372.0ZM530.0 372.0L530.0 369.7L530.5 369.7L530.5 368.9L531.0 368.9L531.0 370.5L531.5 370.5L531.5 372.0ZM533.0 372.0L533.0 370.7L533.5 370.7L533.5 372.0ZM534.0 372.0L534.0 369.9L534.5 369.9L534.5 370.1L535.0 370.1L535.0 368.1L535.5 368.1L535.5 372.0ZM536.0 372.0L536.0 370.2L536.5 370.2L536.5 369.8L537.0 369.8L537.0 370.0L537.5 370.0L537.5 370.2L538.0 370.2L538.0 370.5L538.5 370.5L538.5 369.9L539.0 369.9L539.0 370.0L539.5 370.0L539.5 372.0ZM542.0 372.0L542.0 371.1L542.5 371.1L542.5 370.7L543.0 370.7L543.0 370.5L543.5 370.5L543.5 370.2L544.0 370.2L544.0 372.0ZM544.5 372.0L544.5 369.6L545.0 369.6L545.0 370.5L545.5 370.5L545.5 372.0ZM546.0 372.0L546.0 371.2L546.5 371.2L546.5 370.0L547.0 370.0L547.0 369.4L547.5 369.4L547.5 372.0ZM548.0 372.0L548.0 369.6L548.5 369.6L548.5 367.9L549.0 367.9L549.0 368.5L549.5 368.5L549.5 361.0L550.0 361.0L550.0 361.8L550.5 361.8L550.5 360.9L551.0 360.9L551.0 361.4L551.5 361.4L551.5 360.9L552.0 360.9L552.0 368.1L552.5 368.1L552.5 368.6L553.0 368.6L553.0 372.0ZM554.0 372.0L554.0 371.1L554.5 371.1L554.5 372.0ZM555.0 372.0L555.0 370.1L555.5 370.1L555.5 372.0ZM556.0 372.0L556.0 370.2L556.5 370.2L556.5 372.0ZM557.0 372.0L557.0 370.5L557.5 370.5L557.5 370.1L558.0 370.1L558.0 370.2L558.5 370.2L558.5 372.0ZM559.0 372.0L559.0 370.2L559.5 370.2L559.5 370.8L560.0 370.8L560.0 372.0ZM560.5 372.0L560.5 369.9L561.0 369.9L561.0 372.0ZM562.0 372.0L562.0 369.5L562.5 369.5L562.5 372.0ZM563.0 372.0L563.0 368.0L563.5 368.0L563.5 369.8L564.0 369.8L564.0 369.8L564.5 369.8L564.5 370.5L565.0 370.5L565.0 371.1L565.5 371.1L565.5 369.8L566.0 369.8L566.0 370.6L566.5 370.6L566.5 369.9L567.0 369.9L567.0 368.4L567.5 368.4L567.5 367.9L568.0 367.9L568.0 368.2L568.5 368.2L568.5 372.0ZM569.0 372.0L569.0 369.8L569.5 369.8L569.5 370.2L570.0 370.2L570.0 370.2L570.5 370.2L570.5 370.4L571.0 370.4L571.0 370.2L571.5 370.2L571.5 371.2L572.0 371.2L572.0 372.0ZM573.0 372.0L573.0 370.6L573.5 370.6L573.5 368.9L574.0 368.9L574.0 369.7L574.5 369.7L574.5 367.7L575.0 367.7L575.0 372.0ZM575.5 372.0L575.5 370.4L576.0 370.4L576.0 370.5L576.5 370.5L576.5 371.1L577.0 371.1L577.0 371.1L577.5 371.1L577.5 372.0ZM579.0 372.0L579.0 370.3L579.5 370.3L579.5 368.0L580.0 368.0L580.0 370.5L580.5 370.5L580.5 372.0ZM582.0 372.0L582.0 371.0L582.5 371.0L582.5 372.0ZM583.0 372.0L583.0 370.1L583.5 370.1L583.5 369.6L584.0 369.6L584.0 370.7L584.5 370.7L584.5 372.0Z" fill="#5b1d66"/>
<line x1="460.0" y1="385.4" x2="584.8" y2="385.4" stroke="#b0a8d8" stroke-opacity="0.7" stroke-width="1.3"/>
<path d="M464.0 385.4L464.0 385.1L464.5 385.1L464.5 385.4ZM465.5 385.4L465.5 384.9L466.0 384.9L466.0 385.4ZM468.5 385.4L468.5 384.6L469.0 384.6L469.0 384.7L469.5 384.7L469.5 385.4ZM470.5 385.4L470.5 384.9L471.0 384.9L471.0 385.4ZM474.0 385.4L474.0 384.9L474.5 384.9L474.5 385.4ZM477.5 385.4L477.5 384.9L478.0 384.9L478.0 385.4ZM483.5 385.4L483.5 384.8L484.0 384.8L484.0 385.4ZM486.5 385.4L486.5 385.2L487.0 385.2L487.0 385.4ZM489.5 385.4L489.5 385.1L490.0 385.1L490.0 385.2L490.5 385.2L490.5 384.7L491.0 384.7L491.0 384.8L491.5 384.8L491.5 385.2L492.0 385.2L492.0 385.4ZM492.5 385.4L492.5 385.1L493.0 385.1L493.0 385.4ZM494.0 385.4L494.0 385.1L494.5 385.1L494.5 385.4ZM502.0 385.4L502.0 385.0L502.5 385.0L502.5 385.4ZM503.5 385.4L503.5 381.6L504.0 381.6L504.0 381.1L504.5 381.1L504.5 373.5L505.0 373.5L505.0 373.4L505.5 373.4L505.5 373.5L506.0 373.5L506.0 373.7L506.5 373.7L506.5 381.7L507.0 381.7L507.0 381.7L507.5 381.7L507.5 385.4ZM510.5 385.4L510.5 384.8L511.0 384.8L511.0 385.4ZM513.0 385.4L513.0 384.7L513.5 384.7L513.5 385.4ZM519.5 385.4L519.5 384.9L520.0 384.9L520.0 385.4ZM535.5 385.4L535.5 384.7L536.0 384.7L536.0 385.4ZM537.0 385.4L537.0 385.0L537.5 385.0L537.5 385.4ZM538.5 385.4L538.5 385.0L539.0 385.0L539.0 385.4ZM546.0 385.4L546.0 384.7L546.5 384.7L546.5 385.4ZM548.5 385.4L548.5 383.5L549.0 383.5L549.0 383.9L549.5 383.9L549.5 380.0L550.0 380.0L550.0 379.9L550.5 379.9L550.5 380.3L551.0 380.3L551.0 380.0L551.5 380.0L551.5 380.3L552.0 380.3L552.0 383.2L552.5 383.2L552.5 383.4L553.0 383.4L553.0 385.4ZM555.0 385.4L555.0 384.6L555.5 384.6L555.5 385.4ZM557.0 385.4L557.0 384.8L557.5 384.8L557.5 385.4ZM558.5 385.4L558.5 385.1L559.0 385.1L559.0 385.4ZM564.0 385.4L564.0 384.8L564.5 384.8L564.5 384.9L565.0 384.9L565.0 384.9L565.5 384.9L565.5 385.4ZM567.0 385.4L567.0 385.0L567.5 385.0L567.5 385.4ZM569.0 385.4L569.0 385.0L569.5 385.0L569.5 385.4ZM570.5 385.4L570.5 384.8L571.0 384.8L571.0 385.4ZM583.5 385.4L583.5 384.9L584.0 384.9L584.0 385.4Z" fill="#6b4bdf"/>
<line x1="460.0" y1="398.9" x2="584.8" y2="398.9" stroke="#6242c4" stroke-opacity="0.8" stroke-width="1.3"/>
<path d="M461.0 398.9L461.0 398.5L461.5 398.5L461.5 398.9ZM463.0 398.9L463.0 398.3L463.5 398.3L463.5 398.9ZM464.5 398.9L464.5 398.4L465.0 398.4L465.0 398.9ZM468.0 398.9L468.0 397.6L468.5 397.6L468.5 398.3L469.0 398.3L469.0 398.9ZM469.5 398.9L469.5 398.2L470.0 398.2L470.0 398.0L470.5 398.0L470.5 398.9ZM473.5 398.9L473.5 398.4L474.0 398.4L474.0 398.9ZM474.5 398.9L474.5 397.8L475.0 397.8L475.0 398.4L475.5 398.4L475.5 398.1L476.0 398.1L476.0 398.9ZM476.5 398.9L476.5 398.5L477.0 398.5L477.0 398.9ZM477.5 398.9L477.5 398.2L478.0 398.2L478.0 398.9ZM480.0 398.9L480.0 397.7L480.5 397.7L480.5 398.6L481.0 398.6L481.0 398.5L481.5 398.5L481.5 398.1L482.0 398.1L482.0 398.9ZM482.5 398.9L482.5 398.1L483.0 398.1L483.0 398.9ZM483.5 398.9L483.5 398.3L484.0 398.3L484.0 398.9ZM485.0 398.9L485.0 397.9L485.5 397.9L485.5 398.1L486.0 398.1L486.0 398.9ZM486.5 398.9L486.5 397.9L487.0 397.9L487.0 397.7L487.5 397.7L487.5 395.6L488.0 395.6L488.0 395.7L488.5 395.7L488.5 395.6L489.0 395.6L489.0 395.7L489.5 395.7L489.5 395.7L490.0 395.7L490.0 397.7L490.5 397.7L490.5 397.9L491.0 397.9L491.0 398.9ZM491.5 398.9L491.5 398.3L492.0 398.3L492.0 398.5L492.5 398.5L492.5 398.9ZM493.5 398.9L493.5 397.4L494.0 397.4L494.0 398.3L494.5 398.3L494.5 398.9ZM496.0 398.9L496.0 397.9L496.5 397.9L496.5 397.9L497.0 397.9L497.0 397.4L497.5 397.4L497.5 398.9ZM498.0 398.9L498.0 398.1L498.5 398.1L498.5 398.9ZM499.5 398.9L499.5 398.4L500.0 398.4L500.0 398.9ZM501.0 398.9L501.0 398.1L501.5 398.1L501.5 397.9L502.0 397.9L502.0 398.9ZM503.5 398.9L503.5 394.7L504.0 394.7L504.0 394.4L504.5 394.4L504.5 387.9L505.0 387.9L505.0 388.1L505.5 388.1L505.5 388.7L506.0 388.7L506.0 388.6L506.5 388.6L506.5 395.3L507.0 395.3L507.0 395.3L507.5 395.3L507.5 398.1L508.0 398.1L508.0 398.9ZM510.5 398.9L510.5 398.1L511.0 398.1L511.0 397.8L511.5 397.8L511.5 397.6L512.0 397.6L512.0 398.9ZM512.5 398.9L512.5 398.3L513.0 398.3L513.0 398.2L513.5 398.2L513.5 398.5L514.0 398.5L514.0 398.9ZM516.5 398.9L516.5 398.3L517.0 398.3L517.0 397.8L517.5 397.8L517.5 397.9L518.0 397.9L518.0 397.9L518.5 397.9L518.5 398.1L519.0 398.1L519.0 397.4L519.5 397.4L519.5 397.0L520.0 397.0L520.0 396.8L520.5 396.8L520.5 397.0L521.0 397.0L521.0 397.5L521.5 397.5L521.5 398.1L522.0 398.1L522.0 398.5L522.5 398.5L522.5 398.7L523.0 398.7L523.0 397.8L523.5 397.8L523.5 397.9L524.0 397.9L524.0 398.2L524.5 398.2L524.5 398.9ZM526.0 398.9L526.0 398.5L526.5 398.5L526.5 398.4L527.0 398.4L527.0 398.9ZM527.5 398.9L527.5 398.0L528.0 398.0L528.0 398.4L528.5 398.4L528.5 398.0L529.0 398.0L529.0 397.6L529.5 397.6L529.5 396.9L530.0 396.9L530.0 397.0L530.5 397.0L530.5 396.9L531.0 396.9L531.0 397.5L531.5 397.5L531.5 397.8L532.0 397.8L532.0 398.5L532.5 398.5L532.5 398.7L533.0 398.7L533.0 398.0L533.5 398.0L533.5 398.9ZM534.5 398.9L534.5 398.3L535.0 398.3L535.0 398.9ZM535.5 398.9L535.5 398.2L536.0 398.2L536.0 398.5L536.5 398.5L536.5 398.9ZM537.5 398.9L537.5 397.2L538.0 397.2L538.0 398.5L538.5 398.5L538.5 398.9ZM541.0 398.9L541.0 398.1L541.5 398.1L541.5 398.9ZM542.0 398.9L542.0 397.9L542.5 397.9L542.5 398.9ZM543.5 398.9L543.5 397.9L544.0 397.9L544.0 398.9ZM545.5 398.9L545.5 397.9L546.0 397.9L546.0 398.2L546.5 398.2L546.5 398.9ZM547.0 398.9L547.0 398.5L547.5 398.5L547.5 398.9ZM548.0 398.9L548.0 397.4L548.5 397.4L548.5 397.7L549.0 397.7L549.0 397.7L549.5 397.7L549.5 395.8L550.0 395.8L550.0 395.6L550.5 395.6L550.5 395.6L551.0 395.6L551.0 395.6L551.5 395.6L551.5 395.7L552.0 395.7L552.0 397.7L552.5 397.7L552.5 397.7L553.0 397.7L553.0 398.9ZM553.5 398.9L553.5 398.1L554.0 398.1L554.0 398.0L554.5 398.0L554.5 398.0L555.0 398.0L555.0 397.8L555.5 397.8L555.5 398.9ZM556.0 398.9L556.0 398.4L556.5 398.4L556.5 398.9ZM557.5 398.9L557.5 397.1L558.0 397.1L558.0 398.0L558.5 398.0L558.5 397.8L559.0 397.8L559.0 398.9ZM561.0 398.9L561.0 398.3L561.5 398.3L561.5 398.9ZM563.0 398.9L563.0 398.2L563.5 398.2L563.5 397.4L564.0 397.4L564.0 398.2L564.5 398.2L564.5 398.9ZM565.5 398.9L565.5 398.2L566.0 398.2L566.0 398.9ZM566.5 398.9L566.5 398.2L567.0 398.2L567.0 398.9ZM568.0 398.9L568.0 398.6L568.5 398.6L568.5 398.2L569.0 398.2L569.0 397.9L569.5 397.9L569.5 398.9ZM570.5 398.9L570.5 397.1L571.0 397.1L571.0 398.9ZM573.0 398.9L573.0 398.0L573.5 398.0L573.5 398.0L574.0 398.0L574.0 398.4L574.5 398.4L574.5 398.9ZM575.0 398.9L575.0 398.2L575.5 398.2L575.5 398.2L576.0 398.2L576.0 398.9ZM577.5 398.9L577.5 397.8L578.0 397.8L578.0 398.9ZM579.0 398.9L579.0 398.3L579.5 398.3L579.5 398.9ZM582.5 398.9L582.5 397.8L583.0 397.8L583.0 398.9Z" fill="#6242c4"/>
<line x1="460.0" y1="412.4" x2="584.8" y2="412.4" stroke="#c8b8b0" stroke-opacity="0.7" stroke-width="1.3"/>
<path d="M466.0 412.4L466.0 411.7L466.5 411.7L466.5 412.4ZM475.0 412.4L475.0 412.2L475.5 412.2L475.5 412.4ZM477.0 412.4L477.0 412.1L477.5 412.1L477.5 412.1L478.0 412.1L478.0 412.4ZM479.0 412.4L479.0 412.0L479.5 412.0L479.5 412.4ZM481.0 412.4L481.0 412.1L481.5 412.1L481.5 412.4ZM483.0 412.4L483.0 412.0L483.5 412.0L483.5 412.4ZM488.0 412.4L488.0 411.7L488.5 411.7L488.5 411.6L489.0 411.6L489.0 410.2L489.5 410.2L489.5 410.2L490.0 410.2L490.0 410.3L490.5 410.3L490.5 410.2L491.0 410.2L491.0 411.5L491.5 411.5L491.5 411.6L492.0 411.6L492.0 412.4ZM497.0 412.4L497.0 412.2L497.5 412.2L497.5 412.1L498.0 412.1L498.0 412.4ZM500.0 412.4L500.0 412.0L500.5 412.0L500.5 412.4ZM503.5 412.4L503.5 411.7L504.0 411.7L504.0 411.6L504.5 411.6L504.5 410.3L505.0 410.3L505.0 410.3L505.5 410.3L505.5 410.1L506.0 410.1L506.0 410.3L506.5 410.3L506.5 411.5L507.0 411.5L507.0 411.6L507.5 411.6L507.5 412.4ZM508.0 412.4L508.0 411.5L508.5 411.5L508.5 412.4ZM511.5 412.4L511.5 411.7L512.0 411.7L512.0 412.4ZM521.5 412.4L521.5 412.2L522.0 412.2L522.0 412.4ZM525.5 412.4L525.5 412.1L526.0 412.1L526.0 412.4ZM533.0 412.4L533.0 412.1L533.5 412.1L533.5 412.4ZM536.5 412.4L536.5 411.5L537.0 411.5L537.0 412.4ZM538.5 412.4L538.5 412.0L539.0 412.0L539.0 412.4ZM539.5 412.4L539.5 412.0L540.0 412.0L540.0 412.4ZM542.5 412.4L542.5 411.7L543.0 411.7L543.0 412.4ZM547.0 412.4L547.0 410.7L547.5 410.7L547.5 410.6L548.0 410.6L548.0 408.1L548.5 408.1L548.5 408.0L549.0 408.0L549.0 408.0L549.5 408.0L549.5 401.2L550.0 401.2L550.0 401.7L550.5 401.7L550.5 401.8L551.0 401.8L551.0 402.0L551.5 402.0L551.5 401.8L552.0 401.8L552.0 409.1L552.5 409.1L552.5 408.3L553.0 408.3L553.0 412.4ZM553.5 412.4L553.5 412.0L554.0 412.0L554.0 412.4ZM561.0 412.4L561.0 412.1L561.5 412.1L561.5 412.4ZM562.5 412.4L562.5 412.1L563.0 412.1L563.0 412.4ZM566.0 412.4L566.0 412.1L566.5 412.1L566.5 412.4ZM567.5 412.4L567.5 412.1L568.0 412.1L568.0 412.4ZM573.0 412.4L573.0 412.0L573.5 412.0L573.5 412.4ZM574.0 412.4L574.0 412.0L574.5 412.0L574.5 412.4ZM575.0 412.4L575.0 412.2L575.5 412.2L575.5 412.4ZM577.0 412.4L577.0 412.1L577.5 412.1L577.5 412.4Z" fill="#e8683a"/>
<line x1="460.0" y1="425.8" x2="584.8" y2="425.8" stroke="#c8c0a0" stroke-opacity="0.6" stroke-width="1.3"/>
<path d="M460.5 425.8L460.5 422.7L461.0 422.7L461.0 421.6L461.5 421.6L461.5 420.9L462.0 420.9L462.0 420.6L462.5 420.6L462.5 422.4L463.0 422.4L463.0 422.6L463.5 422.6L463.5 422.5L464.0 422.5L464.0 421.5L464.5 421.5L464.5 420.3L465.0 420.3L465.0 422.2L465.5 422.2L465.5 422.8L466.0 422.8L466.0 421.2L466.5 421.2L466.5 422.4L467.0 422.4L467.0 419.2L467.5 419.2L467.5 418.8L468.0 418.8L468.0 418.8L468.5 418.8L468.5 418.8L469.0 418.8L469.0 418.6L469.5 418.6L469.5 420.9L470.0 420.9L470.0 420.7L470.5 420.7L470.5 420.6L471.0 420.6L471.0 422.3L471.5 422.3L471.5 422.1L472.0 422.1L472.0 419.2L472.5 419.2L472.5 422.5L473.0 422.5L473.0 422.3L473.5 422.3L473.5 421.4L474.0 421.4L474.0 422.3L474.5 422.3L474.5 422.7L475.0 422.7L475.0 417.5L475.5 417.5L475.5 417.8L476.0 417.8L476.0 417.7L476.5 417.7L476.5 417.9L477.0 417.9L477.0 417.3L477.5 417.3L477.5 422.3L478.0 422.3L478.0 419.4L478.5 419.4L478.5 421.5L479.0 421.5L479.0 421.2L479.5 421.2L479.5 419.1L480.0 419.1L480.0 421.8L480.5 421.8L480.5 422.4L481.0 422.4L481.0 422.4L481.5 422.4L481.5 420.8L482.0 420.8L482.0 422.7L482.5 422.7L482.5 421.1L483.0 421.1L483.0 420.7L483.5 420.7L483.5 422.1L484.0 422.1L484.0 420.3L484.5 420.3L484.5 420.2L485.0 420.2L485.0 420.8L485.5 420.8L485.5 422.2L486.0 422.2L486.0 422.5L486.5 422.5L486.5 422.7L487.0 422.7L487.0 420.3L487.5 420.3L487.5 420.5L488.0 420.5L488.0 420.3L488.5 420.3L488.5 422.8L489.0 422.8L489.0 418.9L489.5 418.9L489.5 419.1L490.0 419.1L490.0 418.8L490.5 418.8L490.5 418.9L491.0 418.9L491.0 418.8L491.5 418.8L491.5 420.9L492.0 420.9L492.0 419.8L492.5 419.8L492.5 420.7L493.0 420.7L493.0 422.4L493.5 422.4L493.5 420.9L494.0 420.9L494.0 421.3L494.5 421.3L494.5 422.3L495.0 422.3L495.0 422.8L495.5 422.8L495.5 421.5L496.0 421.5L496.0 417.4L496.5 417.4L496.5 417.9L497.0 417.9L497.0 417.3L497.5 417.3L497.5 417.7L498.0 417.7L498.0 418.0L498.5 418.0L498.5 421.6L499.0 421.6L499.0 422.4L499.5 422.4L499.5 422.4L500.0 422.4L500.0 421.1L500.5 421.1L500.5 421.2L501.0 421.2L501.0 421.2L501.5 421.2L501.5 420.0L502.0 420.0L502.0 418.9L502.5 418.9L502.5 418.5L503.0 418.5L503.0 419.1L503.5 419.1L503.5 419.2L504.0 419.2L504.0 418.6L504.5 418.6L504.5 422.6L505.0 422.6L505.0 421.8L505.5 421.8L505.5 421.2L506.0 421.2L506.0 420.8L506.5 420.8L506.5 422.6L507.0 422.6L507.0 421.3L507.5 421.3L507.5 422.9L508.0 422.9L508.0 422.2L508.5 422.2L508.5 422.4L509.0 422.4L509.0 422.0L509.5 422.0L509.5 421.5L510.0 421.5L510.0 422.0L510.5 422.0L510.5 422.1L511.0 422.1L511.0 422.0L511.5 422.0L511.5 421.6L512.0 421.6L512.0 421.5L512.5 421.5L512.5 421.8L513.0 421.8L513.0 422.2L513.5 422.2L513.5 422.4L514.0 422.4L514.0 420.7L514.5 420.7L514.5 421.4L515.0 421.4L515.0 421.6L515.5 421.6L515.5 422.4L516.0 422.4L516.0 420.9L516.5 420.9L516.5 425.8ZM517.0 425.8L517.0 424.7L517.5 424.7L517.5 425.8ZM518.0 425.8L518.0 423.9L518.5 423.9L518.5 425.8ZM520.0 425.8L520.0 424.7L520.5 424.7L520.5 425.8ZM521.0 425.8L521.0 422.1L521.5 422.1L521.5 421.4L522.0 421.4L522.0 419.4L522.5 419.4L522.5 421.6L523.0 421.6L523.0 422.7L523.5 422.7L523.5 422.7L524.0 422.7L524.0 421.8L524.5 421.8L524.5 422.1L525.0 422.1L525.0 420.7L525.5 420.7L525.5 421.8L526.0 421.8L526.0 418.9L526.5 418.9L526.5 418.8L527.0 418.8L527.0 419.1L527.5 419.1L527.5 418.7L528.0 418.7L528.0 418.7L528.5 418.7L528.5 420.7L529.0 420.7L529.0 419.1L529.5 419.1L529.5 421.2L530.0 421.2L530.0 421.9L530.5 421.9L530.5 422.0L531.0 422.0L531.0 417.2L531.5 417.2L531.5 417.7L532.0 417.7L532.0 417.6L532.5 417.6L532.5 417.4L533.0 417.4L533.0 417.4L533.5 417.4L533.5 421.9L534.0 421.9L534.0 422.3L534.5 422.3L534.5 422.0L535.0 422.0L535.0 422.2L535.5 422.2L535.5 422.5L536.0 422.5L536.0 420.9L536.5 420.9L536.5 421.8L537.0 421.8L537.0 418.8L537.5 418.8L537.5 418.9L538.0 418.9L538.0 418.9L538.5 418.9L538.5 418.7L539.0 418.7L539.0 418.6L539.5 418.6L539.5 421.5L540.0 421.5L540.0 421.8L540.5 421.8L540.5 422.5L541.0 422.5L541.0 416.2L541.5 416.2L541.5 416.4L542.0 416.4L542.0 416.3L542.5 416.3L542.5 416.0L543.0 416.0L543.0 416.3L543.5 416.3L543.5 420.8L544.0 420.8L544.0 421.7L544.5 421.7L544.5 420.8L545.0 420.8L545.0 415.1L545.5 415.1L545.5 415.5L546.0 415.5L546.0 414.8L546.5 414.8L546.5 415.4L547.0 415.4L547.0 415.2L547.5 415.2L547.5 422.2L548.0 422.2L548.0 416.1L548.5 416.1L548.5 416.1L549.0 416.1L549.0 416.9L549.5 416.9L549.5 416.1L550.0 416.1L550.0 416.0L550.5 416.0L550.5 417.3L551.0 417.3L551.0 417.8L551.5 417.8L551.5 417.7L552.0 417.7L552.0 418.0L552.5 418.0L552.5 422.7L553.0 422.7L553.0 420.8L553.5 420.8L553.5 421.3L554.0 421.3L554.0 422.4L554.5 422.4L554.5 422.1L555.0 422.1L555.0 419.5L555.5 419.5L555.5 421.8L556.0 421.8L556.0 419.5L556.5 419.5L556.5 422.9L557.0 422.9L557.0 422.2L557.5 422.2L557.5 419.8L558.0 419.8L558.0 422.6L558.5 422.6L558.5 421.2L559.0 421.2L559.0 419.0L559.5 419.0L559.5 418.6L560.0 418.6L560.0 418.8L560.5 418.8L560.5 418.7L561.0 418.7L561.0 419.2L561.5 419.2L561.5 419.6L562.0 419.6L562.0 421.2L562.5 421.2L562.5 422.1L563.0 422.1L563.0 422.1L563.5 422.1L563.5 421.0L564.0 421.0L564.0 422.5L564.5 422.5L564.5 422.6L565.0 422.6L565.0 421.9L565.5 421.9L565.5 421.3L566.0 421.3L566.0 420.9L566.5 420.9L566.5 420.6L567.0 420.6L567.0 421.3L567.5 421.3L567.5 419.3L568.0 419.3L568.0 422.0L568.5 422.0L568.5 421.6L569.0 421.6L569.0 420.2L569.5 420.2L569.5 420.1L570.0 420.1L570.0 420.2L570.5 420.2L570.5 419.9L571.0 419.9L571.0 420.2L571.5 420.2L571.5 420.9L572.0 420.9L572.0 420.8L572.5 420.8L572.5 422.8L573.0 422.8L573.0 420.7L573.5 420.7L573.5 420.7L574.0 420.7L574.0 421.1L574.5 421.1L574.5 421.7L575.0 421.7L575.0 422.8L575.5 422.8L575.5 421.2L576.0 421.2L576.0 420.9L576.5 420.9L576.5 418.8L577.0 418.8L577.0 422.3L577.5 422.3L577.5 422.0L578.0 422.0L578.0 421.3L578.5 421.3L578.5 421.5L579.0 421.5L579.0 422.4L579.5 422.4L579.5 422.6L580.0 422.6L580.0 422.3L580.5 422.3L580.5 422.3L581.0 422.3L581.0 421.9L581.5 421.9L581.5 421.6L582.0 421.6L582.0 421.2L582.5 421.2L582.5 421.5L583.0 421.5L583.0 421.1L583.5 421.1L583.5 421.2L584.0 421.2L584.0 421.7L584.5 421.7L584.5 425.8Z" fill="#f6c51d"/>
<line x1="460.0" y1="439.3" x2="584.8" y2="439.3" stroke="#f0922c" stroke-opacity="0.9" stroke-width="1.3"/>
<path d="M460.5 439.3L460.5 437.3L461.0 437.3L461.0 437.5L461.5 437.5L461.5 436.8L462.0 436.8L462.0 435.0L462.5 435.0L462.5 436.4L463.0 436.4L463.0 437.4L463.5 437.4L463.5 436.1L464.0 436.1L464.0 436.6L464.5 436.6L464.5 436.4L465.0 436.4L465.0 436.5L465.5 436.5L465.5 436.1L466.0 436.1L466.0 436.1L466.5 436.1L466.5 436.8L467.0 436.8L467.0 436.6L467.5 436.6L467.5 435.7L468.0 435.7L468.0 436.7L468.5 436.7L468.5 436.0L469.0 436.0L469.0 436.9L469.5 436.9L469.5 435.7L470.0 435.7L470.0 437.3L470.5 437.3L470.5 434.7L471.0 434.7L471.0 436.9L471.5 436.9L471.5 436.7L472.0 436.7L472.0 436.4L472.5 436.4L472.5 436.8L473.0 436.8L473.0 436.4L473.5 436.4L473.5 435.8L474.0 435.8L474.0 435.6L474.5 435.6L474.5 437.2L475.0 437.2L475.0 437.0L475.5 437.0L475.5 436.2L476.0 436.2L476.0 436.1L476.5 436.1L476.5 437.2L477.0 437.2L477.0 436.9L477.5 436.9L477.5 437.4L478.0 437.4L478.0 437.3L478.5 437.3L478.5 436.1L479.0 436.1L479.0 434.8L479.5 434.8L479.5 432.8L480.0 432.8L480.0 436.0L480.5 436.0L480.5 435.3L481.0 435.3L481.0 436.1L481.5 436.1L481.5 436.6L482.0 436.6L482.0 436.6L482.5 436.6L482.5 436.6L483.0 436.6L483.0 436.7L483.5 436.7L483.5 436.3L484.0 436.3L484.0 436.6L484.5 436.6L484.5 436.9L485.0 436.9L485.0 436.9L485.5 436.9L485.5 437.4L486.0 437.4L486.0 436.6L486.5 436.6L486.5 436.1L487.0 436.1L487.0 435.7L487.5 435.7L487.5 436.1L488.0 436.1L488.0 436.9L488.5 436.9L488.5 436.8L489.0 436.8L489.0 436.7L489.5 436.7L489.5 437.4L490.0 437.4L490.0 437.2L490.5 437.2L490.5 435.6L491.0 435.6L491.0 436.8L491.5 436.8L491.5 436.7L492.0 436.7L492.0 435.6L492.5 435.6L492.5 437.2L493.0 437.2L493.0 437.2L493.5 437.2L493.5 436.6L494.0 436.6L494.0 436.8L494.5 436.8L494.5 437.4L495.0 437.4L495.0 437.3L495.5 437.3L495.5 435.0L496.0 435.0L496.0 435.5L496.5 435.5L496.5 436.6L497.0 436.6L497.0 436.9L497.5 436.9L497.5 436.5L498.0 436.5L498.0 437.2L498.5 437.2L498.5 436.8L499.0 436.8L499.0 437.4L499.5 437.4L499.5 436.1L500.0 436.1L500.0 436.3L500.5 436.3L500.5 435.5L501.0 435.5L501.0 436.5L501.5 436.5L501.5 436.3L502.0 436.3L502.0 436.7L502.5 436.7L502.5 437.4L503.0 437.4L503.0 437.4L503.5 437.4L503.5 436.3L504.0 436.3L504.0 435.9L504.5 435.9L504.5 436.8L505.0 436.8L505.0 436.5L505.5 436.5L505.5 436.2L506.0 436.2L506.0 437.0L506.5 437.0L506.5 435.9L507.0 435.9L507.0 436.6L507.5 436.6L507.5 435.9L508.0 435.9L508.0 435.4L508.5 435.4L508.5 437.3L509.0 437.3L509.0 437.1L509.5 437.1L509.5 436.2L510.0 436.2L510.0 435.4L510.5 435.4L510.5 435.1L511.0 435.1L511.0 435.9L511.5 435.9L511.5 435.8L512.0 435.8L512.0 435.0L512.5 435.0L512.5 435.7L513.0 435.7L513.0 435.0L513.5 435.0L513.5 436.3L514.0 436.3L514.0 435.0L514.5 435.0L514.5 436.6L515.0 436.6L515.0 435.5L515.5 435.5L515.5 436.3L516.0 436.3L516.0 435.7L516.5 435.7L516.5 434.5L517.0 434.5L517.0 436.0L517.5 436.0L517.5 436.2L518.0 436.2L518.0 436.7L518.5 436.7L518.5 434.8L519.0 434.8L519.0 436.9L519.5 436.9L519.5 436.8L520.0 436.8L520.0 437.2L520.5 437.2L520.5 436.1L521.0 436.1L521.0 436.1L521.5 436.1L521.5 436.9L522.0 436.9L522.0 434.8L522.5 434.8L522.5 435.1L523.0 435.1L523.0 437.4L523.5 437.4L523.5 434.0L524.0 434.0L524.0 436.3L524.5 436.3L524.5 436.4L525.0 436.4L525.0 436.8L525.5 436.8L525.5 436.8L526.0 436.8L526.0 436.7L526.5 436.7L526.5 436.5L527.0 436.5L527.0 437.2L527.5 437.2L527.5 436.7L528.0 436.7L528.0 436.9L528.5 436.9L528.5 437.1L529.0 437.1L529.0 435.9L529.5 435.9L529.5 436.3L530.0 436.3L530.0 435.9L530.5 435.9L530.5 435.5L531.0 435.5L531.0 436.4L531.5 436.4L531.5 435.9L532.0 435.9L532.0 436.7L532.5 436.7L532.5 436.0L533.0 436.0L533.0 436.4L533.5 436.4L533.5 437.0L534.0 437.0L534.0 435.9L534.5 435.9L534.5 436.9L535.0 436.9L535.0 435.1L535.5 435.1L535.5 437.3L536.0 437.3L536.0 437.4L536.5 437.4L536.5 436.8L537.0 436.8L537.0 433.4L537.5 433.4L537.5 436.5L538.0 436.5L538.0 434.2L538.5 434.2L538.5 436.3L539.0 436.3L539.0 436.8L539.5 436.8L539.5 436.4L540.0 436.4L540.0 435.6L540.5 435.6L540.5 434.6L541.0 434.6L541.0 436.2L541.5 436.2L541.5 433.9L542.0 433.9L542.0 436.4L542.5 436.4L542.5 436.6L543.0 436.6L543.0 434.4L543.5 434.4L543.5 436.1L544.0 436.1L544.0 434.5L544.5 434.5L544.5 435.1L545.0 435.1L545.0 436.8L545.5 436.8L545.5 436.6L546.0 436.6L546.0 436.6L546.5 436.6L546.5 435.7L547.0 435.7L547.0 436.4L547.5 436.4L547.5 437.3L548.0 437.3L548.0 434.5L548.5 434.5L548.5 435.2L549.0 435.2L549.0 436.3L549.5 436.3L549.5 430.9L550.0 430.9L550.0 431.2L550.5 431.2L550.5 431.0L551.0 431.0L551.0 431.2L551.5 431.2L551.5 430.8L552.0 430.8L552.0 435.1L552.5 435.1L552.5 436.5L553.0 436.5L553.0 436.0L553.5 436.0L553.5 436.9L554.0 436.9L554.0 436.8L554.5 436.8L554.5 436.6L555.0 436.6L555.0 436.6L555.5 436.6L555.5 435.8L556.0 435.8L556.0 436.1L556.5 436.1L556.5 435.8L557.0 435.8L557.0 436.7L557.5 436.7L557.5 436.6L558.0 436.6L558.0 437.0L558.5 437.0L558.5 436.0L559.0 436.0L559.0 436.1L559.5 436.1L559.5 436.2L560.0 436.2L560.0 436.1L560.5 436.1L560.5 435.0L561.0 435.0L561.0 436.2L561.5 436.2L561.5 436.1L562.0 436.1L562.0 436.0L562.5 436.0L562.5 434.6L563.0 434.6L563.0 437.4L563.5 437.4L563.5 436.1L564.0 436.1L564.0 434.8L564.5 434.8L564.5 435.0L565.0 435.0L565.0 436.6L565.5 436.6L565.5 437.2L566.0 437.2L566.0 436.7L566.5 436.7L566.5 436.5L567.0 436.5L567.0 437.3L567.5 437.3L567.5 436.1L568.0 436.1L568.0 436.9L568.5 436.9L568.5 436.6L569.0 436.6L569.0 437.0L569.5 437.0L569.5 436.6L570.0 436.6L570.0 436.9L570.5 436.9L570.5 436.8L571.0 436.8L571.0 436.2L571.5 436.2L571.5 436.2L572.0 436.2L572.0 436.5L572.5 436.5L572.5 435.5L573.0 435.5L573.0 433.7L573.5 433.7L573.5 436.7L574.0 436.7L574.0 436.5L574.5 436.5L574.5 436.6L575.0 436.6L575.0 434.6L575.5 434.6L575.5 435.3L576.0 435.3L576.0 436.6L576.5 436.6L576.5 436.6L577.0 436.6L577.0 435.1L577.5 435.1L577.5 437.1L578.0 437.1L578.0 436.9L578.5 436.9L578.5 436.3L579.0 436.3L579.0 437.2L579.5 437.2L579.5 436.6L580.0 436.6L580.0 436.9L580.5 436.9L580.5 436.1L581.0 436.1L581.0 437.3L581.5 437.3L581.5 435.5L582.0 435.5L582.0 437.5L582.5 437.5L582.5 436.2L583.0 436.2L583.0 437.1L583.5 437.1L583.5 436.4L584.0 436.4L584.0 437.1L584.5 437.1L584.5 439.3Z" fill="#f0922c"/>
<rect x="488.4" y="279.9" width="2.9" height="160.0" fill="#a0a0a0" fill-opacity="0.33"/>
<rect x="503.4" y="279.9" width="2.9" height="160.0" fill="#a0a0a0" fill-opacity="0.33"/>
<rect x="549.3" y="279.9" width="2.5" height="160.0" fill="#a0a0a0" fill-opacity="0.33"/>
<rect x="459.5" y="231.5" width="125.8" height="208.4" fill="none" stroke="#5a5a5a" stroke-width="1"/>
<rect x="629.5" y="231.6" width="128.0" height="208.5" fill="#f9f9f9"/>
<line x1="629.5" y1="252.0" x2="757.5" y2="252.0" stroke="#dedede" stroke-width="0.8"/>
<line x1="629.5" y1="266.0" x2="757.5" y2="266.0" stroke="#dedede" stroke-width="0.8"/>
<line x1="629.5" y1="280.5" x2="757.5" y2="280.5" stroke="#dedede" stroke-width="0.8"/>
<line x1="629.5" y1="292.0" x2="757.5" y2="292.0" stroke="#ffffff" stroke-width="1"/>
<line x1="629.5" y1="305.4" x2="757.5" y2="305.4" stroke="#ffffff" stroke-width="1"/>
<line x1="629.5" y1="318.9" x2="757.5" y2="318.9" stroke="#ffffff" stroke-width="1"/>
<line x1="629.5" y1="332.3" x2="757.5" y2="332.3" stroke="#ffffff" stroke-width="1"/>
<line x1="629.5" y1="345.7" x2="757.5" y2="345.7" stroke="#ffffff" stroke-width="1"/>
<line x1="629.5" y1="359.2" x2="757.5" y2="359.2" stroke="#ffffff" stroke-width="1"/>
<line x1="629.5" y1="372.6" x2="757.5" y2="372.6" stroke="#ffffff" stroke-width="1"/>
<line x1="629.5" y1="386.0" x2="757.5" y2="386.0" stroke="#ffffff" stroke-width="1"/>
<line x1="629.5" y1="399.4" x2="757.5" y2="399.4" stroke="#ffffff" stroke-width="1"/>
<line x1="629.5" y1="412.9" x2="757.5" y2="412.9" stroke="#ffffff" stroke-width="1"/>
<line x1="629.5" y1="426.3" x2="757.5" y2="426.3" stroke="#ffffff" stroke-width="1"/>
<line x1="630.0" y1="278.7" x2="757.0" y2="278.7" stroke="#bbbbcc" stroke-opacity="0.6" stroke-width="1.3"/>
<path d="M639.0 278.7L639.0 278.3L639.5 278.3L639.5 278.3L640.0 278.3L640.0 277.6L640.5 277.6L640.5 277.7L641.0 277.7L641.0 277.6L641.5 277.6L641.5 277.7L642.0 277.7L642.0 277.6L642.5 277.6L642.5 278.4L643.0 278.4L643.0 278.4L643.5 278.4L643.5 278.7ZM658.0 278.7L658.0 278.4L658.5 278.4L658.5 278.4L659.0 278.4L659.0 278.0L659.5 278.0L659.5 278.0L660.0 278.0L660.0 277.9L660.5 277.9L660.5 278.0L661.0 278.0L661.0 278.0L661.5 278.0L661.5 278.5L662.0 278.5L662.0 278.4L662.5 278.4L662.5 278.7ZM671.0 278.7L671.0 278.3L671.5 278.3L671.5 278.3L672.0 278.3L672.0 277.7L672.5 277.7L672.5 277.7L673.0 277.7L673.0 277.6L673.5 277.6L673.5 277.6L674.0 277.6L674.0 277.6L674.5 277.6L674.5 278.3L675.0 278.3L675.0 278.3L675.5 278.3L675.5 278.7ZM676.0 278.7L676.0 277.3L676.5 277.3L676.5 277.3L677.0 277.3L677.0 275.0L677.5 275.0L677.5 275.1L678.0 275.1L678.0 275.0L678.5 275.0L678.5 275.1L679.0 275.1L679.0 274.8L679.5 274.8L679.5 275.5L680.0 275.5L680.0 275.6L680.5 275.6L680.5 275.4L681.0 275.4L681.0 275.4L681.5 275.4L681.5 275.6L682.0 275.6L682.0 276.6L682.5 276.6L682.5 276.7L683.0 276.7L683.0 276.4L683.5 276.4L683.5 275.7L684.0 275.7L684.0 276.0L684.5 276.0L684.5 276.0L685.0 276.0L685.0 276.1L685.5 276.1L685.5 276.1L686.0 276.1L686.0 276.0L686.5 276.0L686.5 276.6L687.0 276.6L687.0 276.8L687.5 276.8L687.5 276.4L688.0 276.4L688.0 277.1L688.5 277.1L688.5 276.6L689.0 276.6L689.0 275.5L689.5 275.5L689.5 275.4L690.0 275.4L690.0 275.6L690.5 275.6L690.5 275.6L691.0 275.6L691.0 275.5L691.5 275.5L691.5 276.8L692.0 276.8L692.0 277.0L692.5 277.0L692.5 277.0L693.0 277.0L693.0 276.6L693.5 276.6L693.5 276.7L694.0 276.7L694.0 276.0L694.5 276.0L694.5 276.1L695.0 276.1L695.0 276.0L695.5 276.0L695.5 276.0L696.0 276.0L696.0 276.1L696.5 276.1L696.5 277.2L697.0 277.2L697.0 276.5L697.5 276.5L697.5 276.7L698.0 276.7L698.0 277.2L698.5 277.2L698.5 276.3L699.0 276.3L699.0 276.0L699.5 276.0L699.5 276.0L700.0 276.0L700.0 276.0L700.5 276.0L700.5 275.9L701.0 275.9L701.0 276.1L701.5 276.1L701.5 276.8L702.0 276.8L702.0 277.3L702.5 277.3L702.5 276.8L703.0 276.8L703.0 277.2L703.5 277.2L703.5 275.9L704.0 275.9L704.0 276.9L704.5 276.9L704.5 277.0L705.0 277.0L705.0 277.2L705.5 277.2L705.5 276.6L706.0 276.6L706.0 277.0L706.5 277.0L706.5 277.2L707.0 277.2L707.0 277.1L707.5 277.1L707.5 276.3L708.0 276.3L708.0 277.2L708.5 277.2L708.5 277.3L709.0 277.3L709.0 276.4L709.5 276.4L709.5 275.7L710.0 275.7L710.0 275.6L710.5 275.6L710.5 275.9L711.0 275.9L711.0 276.6L711.5 276.6L711.5 275.9L712.0 275.9L712.0 275.5L712.5 275.5L712.5 275.8L713.0 275.8L713.0 276.0L713.5 276.0L713.5 276.9L714.0 276.9L714.0 276.3L714.5 276.3L714.5 277.3L715.0 277.3L715.0 277.0L715.5 277.0L715.5 277.3L716.0 277.3L716.0 276.7L716.5 276.7L716.5 277.0L717.0 277.0L717.0 276.3L717.5 276.3L717.5 276.9L718.0 276.9L718.0 277.1L718.5 277.1L718.5 277.0L719.0 277.0L719.0 276.8L719.5 276.8L719.5 276.7L720.0 276.7L720.0 276.1L720.5 276.1L720.5 276.9L721.0 276.9L721.0 276.6L721.5 276.6L721.5 277.3L722.0 277.3L722.0 276.5L722.5 276.5L722.5 277.0L723.0 277.0L723.0 277.0L723.5 277.0L723.5 276.5L724.0 276.5L724.0 276.7L724.5 276.7L724.5 276.6L725.0 276.6L725.0 277.2L725.5 277.2L725.5 276.7L726.0 276.7L726.0 277.2L726.5 277.2L726.5 276.8L727.0 276.8L727.0 276.0L727.5 276.0L727.5 276.6L728.0 276.6L728.0 276.4L728.5 276.4L728.5 275.8L729.0 275.8L729.0 277.0L729.5 277.0L729.5 277.2L730.0 277.2L730.0 276.7L730.5 276.7L730.5 277.3L731.0 277.3L731.0 276.9L731.5 276.9L731.5 276.4L732.0 276.4L732.0 277.4L732.5 277.4L732.5 276.0L733.0 276.0L733.0 276.4L733.5 276.4L733.5 276.8L734.0 276.8L734.0 276.3L734.5 276.3L734.5 277.2L735.0 277.2L735.0 276.7L735.5 276.7L735.5 276.7L736.0 276.7L736.0 276.5L736.5 276.5L736.5 276.8L737.0 276.8L737.0 276.1L737.5 276.1L737.5 276.6L738.0 276.6L738.0 277.0L738.5 277.0L738.5 276.7L739.0 276.7L739.0 276.8L739.5 276.8L739.5 276.9L740.0 276.9L740.0 277.1L740.5 277.1L740.5 277.4L741.0 277.4L741.0 276.5L741.5 276.5L741.5 276.6L742.0 276.6L742.0 277.1L742.5 277.1L742.5 277.2L743.0 277.2L743.0 275.7L743.5 275.7L743.5 277.0L744.0 277.0L744.0 276.7L744.5 276.7L744.5 276.2L745.0 276.2L745.0 275.8L745.5 275.8L745.5 276.9L746.0 276.9L746.0 277.0L746.5 277.0L746.5 277.1L747.0 277.1L747.0 276.9L747.5 276.9L747.5 276.3L748.0 276.3L748.0 277.1L748.5 277.1L748.5 276.3L749.0 276.3L749.0 276.9L749.5 276.9L749.5 276.5L750.0 276.5L750.0 276.8L750.5 276.8L750.5 277.3L751.0 277.3L751.0 276.3L751.5 276.3L751.5 276.5L752.0 276.5L752.0 276.8L752.5 276.8L752.5 276.7L753.0 276.7L753.0 276.1L753.5 276.1L753.5 276.5L754.0 276.5L754.0 278.5L754.5 278.5L754.5 278.7Z" fill="#1a2db5"/>
<path d="M636.0 281.5L636.0 283.6L636.5 283.6L636.5 283.7L637.0 283.7L637.0 285.5L637.5 285.5L637.5 285.1L638.0 285.1L638.0 291.8L638.5 291.8L638.5 292.0L639.0 292.0L639.0 291.7L639.5 291.7L639.5 292.3L640.0 292.3L640.0 285.3L640.5 285.3L640.5 286.0L641.0 286.0L641.0 284.4L641.5 284.4L641.5 283.4L642.0 283.4L642.0 281.5ZM648.0 281.5L648.0 282.9L648.5 282.9L648.5 282.9L649.0 282.9L649.0 285.6L649.5 285.6L649.5 285.9L650.0 285.9L650.0 285.7L650.5 285.7L650.5 285.9L651.0 285.9L651.0 285.5L651.5 285.5L651.5 283.2L652.0 283.2L652.0 283.2L652.5 283.2L652.5 281.5ZM670.0 281.5L670.0 282.6L670.5 282.6L670.5 282.5L671.0 282.5L671.0 284.7L671.5 284.7L671.5 284.9L672.0 284.9L672.0 284.6L672.5 284.6L672.5 284.7L673.0 284.7L673.0 284.9L673.5 284.9L673.5 282.7L674.0 282.7L674.0 282.4L674.5 282.4L674.5 281.5ZM676.0 281.5L676.0 283.2L676.5 283.2L676.5 283.4L677.0 283.4L677.0 283.7L677.5 283.7L677.5 286.8L678.0 286.8L678.0 286.9L678.5 286.9L678.5 286.7L679.0 286.7L679.0 286.8L679.5 286.8L679.5 284.9L680.0 284.9L680.0 283.3L680.5 283.3L680.5 283.2L681.0 283.2L681.0 281.5Z" fill="#ec3f1f"/>
<line x1="630.0" y1="305.2" x2="757.0" y2="305.2" stroke="#8a8aee" stroke-opacity="0.85" stroke-width="1.3"/>
<path d="M630.5 305.2L630.5 304.5L631.0 304.5L631.0 305.0L631.5 305.0L631.5 304.8L632.0 304.8L632.0 304.8L632.5 304.8L632.5 304.7L633.0 304.7L633.0 304.9L633.5 304.9L633.5 304.7L634.0 304.7L634.0 304.3L634.5 304.3L634.5 303.5L635.0 303.5L635.0 302.2L635.5 302.2L635.5 301.4L636.0 301.4L636.0 301.2L636.5 301.2L636.5 301.6L637.0 301.6L637.0 302.5L637.5 302.5L637.5 303.4L638.0 303.4L638.0 304.0L638.5 304.0L638.5 303.0L639.0 303.0L639.0 301.5L639.5 301.5L639.5 300.1L640.0 300.1L640.0 299.3L640.5 299.3L640.5 299.7L641.0 299.7L641.0 301.1L641.5 301.1L641.5 302.9L642.0 302.9L642.0 304.0L642.5 304.0L642.5 304.6L643.0 304.6L643.0 303.7L643.5 303.7L643.5 302.2L644.0 302.2L644.0 300.2L644.5 300.2L644.5 298.4L645.0 298.4L645.0 298.2L645.5 298.2L645.5 298.3L646.0 298.3L646.0 300.1L646.5 300.1L646.5 301.6L647.0 301.6L647.0 299.2L647.5 299.2L647.5 296.9L648.0 296.9L648.0 296.7L648.5 296.7L648.5 297.3L649.0 297.3L649.0 299.4L649.5 299.4L649.5 300.3L650.0 300.3L650.0 293.2L650.5 293.2L650.5 293.2L651.0 293.2L651.0 293.2L651.5 293.2L651.5 293.2L652.0 293.2L652.0 293.2L652.5 293.2L652.5 297.8L653.0 297.8L653.0 296.0L653.5 296.0L653.5 297.3L654.0 297.3L654.0 299.4L654.5 299.4L654.5 298.4L655.0 298.4L655.0 297.4L655.5 297.4L655.5 298.7L656.0 298.7L656.0 300.4L656.5 300.4L656.5 301.3L657.0 301.3L657.0 294.4L657.5 294.4L657.5 294.8L658.0 294.8L658.0 294.9L658.5 294.9L658.5 294.6L659.0 294.6L659.0 295.1L659.5 295.1L659.5 301.2L660.0 301.2L660.0 302.0L660.5 302.0L660.5 301.4L661.0 301.4L661.0 300.7L661.5 300.7L661.5 301.5L662.0 301.5L662.0 302.3L662.5 302.3L662.5 303.4L663.0 303.4L663.0 304.3L663.5 304.3L663.5 304.5L664.0 304.5L664.0 304.2L664.5 304.2L664.5 304.2L665.0 304.2L665.0 305.2ZM665.5 305.2L665.5 304.5L666.0 304.5L666.0 304.8L666.5 304.8L666.5 304.3L667.0 304.3L667.0 304.5L667.5 304.5L667.5 305.2ZM668.5 305.2L668.5 304.7L669.0 304.7L669.0 305.2ZM670.5 305.2L670.5 304.5L671.0 304.5L671.0 298.1L671.5 298.1L671.5 299.1L672.0 299.1L672.0 299.4L672.5 299.4L672.5 299.5L673.0 299.5L673.0 299.9L673.5 299.9L673.5 298.8L674.0 298.8L674.0 299.8L674.5 299.8L674.5 300.1L675.0 300.1L675.0 299.0L675.5 299.0L675.5 296.9L676.0 296.9L676.0 297.2L676.5 297.2L676.5 297.4L677.0 297.4L677.0 299.0L677.5 299.0L677.5 298.4L678.0 298.4L678.0 299.2L678.5 299.2L678.5 300.1L679.0 300.1L679.0 300.1L679.5 300.1L679.5 298.6L680.0 298.6L680.0 298.1L680.5 298.1L680.5 298.8L681.0 298.8L681.0 299.5L681.5 299.5L681.5 299.2L682.0 299.2L682.0 299.2L682.5 299.2L682.5 299.9L683.0 299.9L683.0 299.5L683.5 299.5L683.5 299.5L684.0 299.5L684.0 299.6L684.5 299.6L684.5 304.8L685.0 304.8L685.0 303.1L685.5 303.1L685.5 303.4L686.0 303.4L686.0 303.3L686.5 303.3L686.5 303.5L687.0 303.5L687.0 303.3L687.5 303.3L687.5 302.9L688.0 302.9L688.0 303.2L688.5 303.2L688.5 303.4L689.0 303.4L689.0 303.5L689.5 303.5L689.5 303.4L690.0 303.4L690.0 303.3L690.5 303.3L690.5 303.1L691.0 303.1L691.0 303.2L691.5 303.2L691.5 303.2L692.0 303.2L692.0 303.2L692.5 303.2L692.5 303.5L693.0 303.5L693.0 303.2L693.5 303.2L693.5 303.2L694.0 303.2L694.0 303.2L694.5 303.2L694.5 303.5L695.0 303.5L695.0 303.2L695.5 303.2L695.5 303.2L696.0 303.2L696.0 303.1L696.5 303.1L696.5 303.2L697.0 303.2L697.0 303.3L697.5 303.3L697.5 303.3L698.0 303.3L698.0 303.3L698.5 303.3L698.5 303.4L699.0 303.4L699.0 303.3L699.5 303.3L699.5 302.9L700.0 302.9L700.0 303.2L700.5 303.2L700.5 303.4L701.0 303.4L701.0 303.5L701.5 303.5L701.5 303.3L702.0 303.3L702.0 303.4L702.5 303.4L702.5 303.3L703.0 303.3L703.0 303.5L703.5 303.5L703.5 303.5L704.0 303.5L704.0 300.7L704.5 300.7L704.5 300.6L705.0 300.6L705.0 300.8L705.5 300.8L705.5 300.9L706.0 300.9L706.0 300.7L706.5 300.7L706.5 303.1L707.0 303.1L707.0 303.4L707.5 303.4L707.5 302.9L708.0 302.9L708.0 303.2L708.5 303.2L708.5 303.3L709.0 303.3L709.0 303.4L709.5 303.4L709.5 304.3L710.0 304.3L710.0 304.2L710.5 304.2L710.5 304.1L711.0 304.1L711.0 304.1L711.5 304.1L711.5 304.1L712.0 304.1L712.0 304.0L712.5 304.0L712.5 304.3L713.0 304.3L713.0 304.2L713.5 304.2L713.5 304.1L714.0 304.1L714.0 304.2L714.5 304.2L714.5 304.1L715.0 304.1L715.0 304.1L715.5 304.1L715.5 304.1L716.0 304.1L716.0 304.2L716.5 304.2L716.5 304.1L717.0 304.1L717.0 304.2L717.5 304.2L717.5 304.2L718.0 304.2L718.0 304.1L718.5 304.1L718.5 304.2L719.0 304.2L719.0 304.3L719.5 304.3L719.5 304.2L720.0 304.2L720.0 304.2L720.5 304.2L720.5 304.2L721.0 304.2L721.0 304.3L721.5 304.3L721.5 304.2L722.0 304.2L722.0 304.3L722.5 304.3L722.5 304.2L723.0 304.2L723.0 304.0L723.5 304.0L723.5 304.3L724.0 304.3L724.0 304.2L724.5 304.2L724.5 304.2L725.0 304.2L725.0 304.2L725.5 304.2L725.5 304.2L726.0 304.2L726.0 304.3L726.5 304.3L726.5 304.1L727.0 304.1L727.0 304.1L727.5 304.1L727.5 304.2L728.0 304.2L728.0 304.3L728.5 304.3L728.5 303.9L729.0 303.9L729.0 304.2L729.5 304.2L729.5 304.3L730.0 304.3L730.0 304.3L730.5 304.3L730.5 304.3L731.0 304.3L731.0 304.1L731.5 304.1L731.5 304.1L732.0 304.1L732.0 304.1L732.5 304.1L732.5 304.3L733.0 304.3L733.0 304.3L733.5 304.3L733.5 304.2L734.0 304.2L734.0 304.2L734.5 304.2L734.5 304.2L735.0 304.2L735.0 304.1L735.5 304.1L735.5 304.2L736.0 304.2L736.0 304.2L736.5 304.2L736.5 304.1L737.0 304.1L737.0 304.1L737.5 304.1L737.5 304.1L738.0 304.1L738.0 304.2L738.5 304.2L738.5 304.1L739.0 304.1L739.0 304.3L739.5 304.3L739.5 304.2L740.0 304.2L740.0 304.1L740.5 304.1L740.5 303.9L741.0 303.9L741.0 304.3L741.5 304.3L741.5 304.3L742.0 304.3L742.0 304.2L742.5 304.2L742.5 304.2L743.0 304.2L743.0 304.1L743.5 304.1L743.5 304.3L744.0 304.3L744.0 304.1L744.5 304.1L744.5 304.2L745.0 304.2L745.0 304.3L745.5 304.3L745.5 304.2L746.0 304.2L746.0 304.2L746.5 304.2L746.5 304.2L747.0 304.2L747.0 304.2L747.5 304.2L747.5 304.1L748.0 304.1L748.0 304.2L748.5 304.2L748.5 304.2L749.0 304.2L749.0 304.3L749.5 304.3L749.5 304.2L750.0 304.2L750.0 304.2L750.5 304.2L750.5 303.9L751.0 303.9L751.0 304.2L751.5 304.2L751.5 304.0L752.0 304.0L752.0 304.2L752.5 304.2L752.5 304.1L753.0 304.1L753.0 304.2L753.5 304.2L753.5 304.2L754.0 304.2L754.0 304.3L754.5 304.3L754.5 304.1L755.0 304.1L755.0 304.3L755.5 304.3L755.5 304.1L756.0 304.1L756.0 304.2L756.5 304.2L756.5 304.3L757.0 304.3L757.0 305.2Z" fill="#8a8aee"/>
<line x1="630.0" y1="318.6" x2="757.0" y2="318.6" stroke="#4db4dc" stroke-opacity="0.5" stroke-width="1.3"/>
<path d="M630.5 318.6L630.5 317.8L631.0 317.8L631.0 318.6ZM634.0 318.6L634.0 317.9L634.5 317.9L634.5 318.6ZM637.5 318.6L637.5 318.2L638.0 318.2L638.0 318.3L638.5 318.3L638.5 318.2L639.0 318.2L639.0 317.6L639.5 317.6L639.5 317.5L640.0 317.5L640.0 317.6L640.5 317.6L640.5 317.5L641.0 317.5L641.0 317.6L641.5 317.6L641.5 318.1L642.0 318.1L642.0 318.3L642.5 318.3L642.5 318.6ZM643.0 318.6L643.0 316.6L643.5 316.6L643.5 318.6ZM645.0 318.6L645.0 318.2L645.5 318.2L645.5 318.6ZM646.5 318.6L646.5 317.5L647.0 317.5L647.0 318.6ZM647.5 318.6L647.5 318.0L648.0 318.0L648.0 318.6ZM649.0 318.6L649.0 315.1L649.5 315.1L649.5 315.5L650.0 315.5L650.0 308.5L650.5 308.5L650.5 307.8L651.0 307.8L651.0 307.9L651.5 307.9L651.5 307.7L652.0 307.7L652.0 314.5L652.5 314.5L652.5 314.7L653.0 314.7L653.0 317.9L653.5 317.9L653.5 318.6ZM654.0 318.6L654.0 318.0L654.5 318.0L654.5 317.4L655.0 317.4L655.0 318.6ZM655.5 318.6L655.5 317.6L656.0 317.6L656.0 318.6ZM657.0 318.6L657.0 318.1L657.5 318.1L657.5 317.5L658.0 317.5L658.0 318.3L658.5 318.3L658.5 318.3L659.0 318.3L659.0 317.6L659.5 317.6L659.5 317.5L660.0 317.5L660.0 317.6L660.5 317.6L660.5 317.6L661.0 317.6L661.0 317.6L661.5 317.6L661.5 318.2L662.0 318.2L662.0 317.7L662.5 317.7L662.5 317.3L663.0 317.3L663.0 318.6ZM663.5 318.6L663.5 317.5L664.0 317.5L664.0 318.6ZM665.0 318.6L665.0 317.5L665.5 317.5L665.5 318.2L666.0 318.2L666.0 317.7L666.5 317.7L666.5 317.9L667.0 317.9L667.0 318.6ZM668.0 318.6L668.0 316.6L668.5 316.6L668.5 317.7L669.0 317.7L669.0 317.5L669.5 317.5L669.5 316.8L670.0 316.8L670.0 316.2L670.5 316.2L670.5 316.0L671.0 316.0L671.0 312.2L671.5 312.2L671.5 312.1L672.0 312.1L672.0 312.3L672.5 312.3L672.5 312.4L673.0 312.4L673.0 314.2L673.5 314.2L673.5 314.6L674.0 314.6L674.0 314.3L674.5 314.3L674.5 317.2L675.0 317.2L675.0 317.1L675.5 317.1L675.5 318.1L676.0 318.1L676.0 318.6ZM676.5 318.6L676.5 316.7L677.0 316.7L677.0 316.6L677.5 316.6L677.5 312.1L678.0 312.1L678.0 312.0L678.5 312.0L678.5 312.5L679.0 312.5L679.0 312.3L679.5 312.3L679.5 316.4L680.0 316.4L680.0 316.6L680.5 316.6L680.5 318.6ZM681.5 318.6L681.5 317.7L682.0 317.7L682.0 318.0L682.5 318.0L682.5 317.5L683.0 317.5L683.0 318.6ZM685.0 318.6L685.0 317.7L685.5 317.7L685.5 318.6ZM686.0 318.6L686.0 317.8L686.5 317.8L686.5 318.6ZM687.0 318.6L687.0 317.6L687.5 317.6L687.5 318.6ZM693.0 318.6L693.0 318.0L693.5 318.0L693.5 317.9L694.0 317.9L694.0 318.0L694.5 318.0L694.5 318.6ZM698.0 318.6L698.0 318.3L698.5 318.3L698.5 318.3L699.0 318.3L699.0 317.6L699.5 317.6L699.5 317.6L700.0 317.6L700.0 317.6L700.5 317.6L700.5 317.6L701.0 317.6L701.0 317.5L701.5 317.5L701.5 318.3L702.0 318.3L702.0 318.2L702.5 318.2L702.5 317.6L703.0 317.6L703.0 318.6ZM704.0 318.6L704.0 318.0L704.5 318.0L704.5 318.6ZM705.5 318.6L705.5 318.1L706.0 318.1L706.0 318.6ZM706.5 318.6L706.5 318.0L707.0 318.0L707.0 318.6ZM707.5 318.6L707.5 317.6L708.0 317.6L708.0 318.6ZM709.5 318.6L709.5 317.8L710.0 317.8L710.0 318.6ZM713.5 318.6L713.5 318.0L714.0 318.0L714.0 317.5L714.5 317.5L714.5 318.6ZM715.5 318.6L715.5 318.0L716.0 318.0L716.0 318.6ZM717.5 318.6L717.5 317.5L718.0 317.5L718.0 318.2L718.5 318.2L718.5 318.2L719.0 318.2L719.0 317.6L719.5 317.6L719.5 317.6L720.0 317.6L720.0 317.6L720.5 317.6L720.5 317.6L721.0 317.6L721.0 317.6L721.5 317.6L721.5 318.2L722.0 318.2L722.0 318.3L722.5 318.3L722.5 318.6ZM726.5 318.6L726.5 317.8L727.0 317.8L727.0 318.1L727.5 318.1L727.5 318.6ZM731.0 318.6L731.0 317.7L731.5 317.7L731.5 318.6ZM732.5 318.6L732.5 317.7L733.0 317.7L733.0 318.6ZM733.5 318.6L733.5 317.7L734.0 317.7L734.0 318.6ZM735.0 318.6L735.0 317.6L735.5 317.6L735.5 316.5L736.0 316.5L736.0 317.9L736.5 317.9L736.5 318.6ZM738.0 318.6L738.0 318.2L738.5 318.2L738.5 317.5L739.0 317.5L739.0 317.6L739.5 317.6L739.5 317.6L740.0 317.6L740.0 317.5L740.5 317.5L740.5 317.6L741.0 317.6L741.0 317.6L741.5 317.6L741.5 317.5L742.0 317.5L742.0 318.3L742.5 318.3L742.5 318.6ZM743.5 318.6L743.5 318.1L744.0 318.1L744.0 317.8L744.5 317.8L744.5 318.6ZM748.0 318.6L748.0 317.8L748.5 317.8L748.5 318.6ZM750.0 318.6L750.0 318.1L750.5 318.1L750.5 318.6ZM755.5 318.6L755.5 317.8L756.0 317.8L756.0 318.2L756.5 318.2L756.5 318.6Z" fill="#4db4dc"/>
<line x1="630.0" y1="332.1" x2="757.0" y2="332.1" stroke="#a01a3e" stroke-opacity="0.9" stroke-width="1.3"/>
<path d="M630.5 332.1L630.5 329.2L631.0 329.2L631.0 331.2L631.5 331.2L631.5 331.2L632.0 331.2L632.0 330.8L632.5 330.8L632.5 331.1L633.0 331.1L633.0 331.5L633.5 331.5L633.5 331.3L634.0 331.3L634.0 332.1ZM634.5 332.1L634.5 331.0L635.0 331.0L635.0 331.0L635.5 331.0L635.5 331.0L636.0 331.0L636.0 330.9L636.5 330.9L636.5 331.3L637.0 331.3L637.0 331.6L637.5 331.6L637.5 330.7L638.0 330.7L638.0 330.8L638.5 330.8L638.5 330.7L639.0 330.7L639.0 331.0L639.5 331.0L639.5 330.9L640.0 330.9L640.0 331.5L640.5 331.5L640.5 331.3L641.0 331.3L641.0 332.1ZM641.5 332.1L641.5 331.5L642.0 331.5L642.0 332.1ZM642.5 332.1L642.5 330.9L643.0 330.9L643.0 330.6L643.5 330.6L643.5 330.9L644.0 330.9L644.0 330.7L644.5 330.7L644.5 332.1ZM645.5 332.1L645.5 331.2L646.0 331.2L646.0 330.6L646.5 330.6L646.5 330.9L647.0 330.9L647.0 331.2L647.5 331.2L647.5 331.2L648.0 331.2L648.0 330.8L648.5 330.8L648.5 328.1L649.0 328.1L649.0 327.6L649.5 327.6L649.5 321.5L650.0 321.5L650.0 321.3L650.5 321.3L650.5 321.9L651.0 321.9L651.0 321.1L651.5 321.1L651.5 327.7L652.0 327.7L652.0 328.0L652.5 328.0L652.5 331.2L653.0 331.2L653.0 331.0L653.5 331.0L653.5 331.2L654.0 331.2L654.0 331.5L654.5 331.5L654.5 331.4L655.0 331.4L655.0 330.6L655.5 330.6L655.5 332.1ZM656.0 332.1L656.0 331.2L656.5 331.2L656.5 331.2L657.0 331.2L657.0 331.3L657.5 331.3L657.5 332.1ZM658.0 332.1L658.0 331.3L658.5 331.3L658.5 332.1ZM659.0 332.1L659.0 330.6L659.5 330.6L659.5 331.3L660.0 331.3L660.0 331.3L660.5 331.3L660.5 329.9L661.0 329.9L661.0 331.5L661.5 331.5L661.5 331.3L662.0 331.3L662.0 330.5L662.5 330.5L662.5 331.4L663.0 331.4L663.0 330.8L663.5 330.8L663.5 332.1ZM664.0 332.1L664.0 329.6L664.5 329.6L664.5 330.9L665.0 330.9L665.0 332.1ZM666.0 332.1L666.0 330.2L666.5 330.2L666.5 330.5L667.0 330.5L667.0 331.0L667.5 331.0L667.5 332.1ZM668.0 332.1L668.0 331.4L668.5 331.4L668.5 330.7L669.0 330.7L669.0 331.2L669.5 331.2L669.5 332.1ZM670.0 332.1L670.0 330.3L670.5 330.3L670.5 330.4L671.0 330.4L671.0 326.7L671.5 326.7L671.5 326.5L672.0 326.5L672.0 326.9L672.5 326.9L672.5 326.8L673.0 326.8L673.0 330.0L673.5 330.0L673.5 330.1L674.0 330.1L674.0 329.8L674.5 329.8L674.5 331.1L675.0 331.1L675.0 330.9L675.5 330.9L675.5 332.1ZM676.0 332.1L676.0 331.1L676.5 331.1L676.5 329.8L677.0 329.8L677.0 330.3L677.5 330.3L677.5 326.6L678.0 326.6L678.0 326.5L678.5 326.5L678.5 326.8L679.0 326.8L679.0 326.6L679.5 326.6L679.5 330.3L680.0 330.3L680.0 329.3L680.5 329.3L680.5 332.1ZM681.0 332.1L681.0 331.2L681.5 331.2L681.5 331.2L682.0 331.2L682.0 330.7L682.5 330.7L682.5 332.1ZM683.0 332.1L683.0 331.2L683.5 331.2L683.5 331.5L684.0 331.5L684.0 332.1ZM684.5 332.1L684.5 331.4L685.0 331.4L685.0 330.6L685.5 330.6L685.5 331.1L686.0 331.1L686.0 331.4L686.5 331.4L686.5 331.4L687.0 331.4L687.0 330.7L687.5 330.7L687.5 332.1ZM688.0 332.1L688.0 330.9L688.5 330.9L688.5 330.6L689.0 330.6L689.0 330.5L689.5 330.5L689.5 330.7L690.0 330.7L690.0 331.3L690.5 331.3L690.5 331.2L691.0 331.2L691.0 331.0L691.5 331.0L691.5 330.5L692.0 330.5L692.0 329.6L692.5 329.6L692.5 330.9L693.0 330.9L693.0 329.8L693.5 329.8L693.5 331.5L694.0 331.5L694.0 330.5L694.5 330.5L694.5 331.6L695.0 331.6L695.0 332.1ZM695.5 332.1L695.5 331.0L696.0 331.0L696.0 330.7L696.5 330.7L696.5 331.1L697.0 331.1L697.0 332.1ZM697.5 332.1L697.5 330.7L698.0 330.7L698.0 329.3L698.5 329.3L698.5 330.5L699.0 330.5L699.0 332.1ZM699.5 332.1L699.5 331.1L700.0 331.1L700.0 330.8L700.5 330.8L700.5 329.9L701.0 329.9L701.0 331.5L701.5 331.5L701.5 330.9L702.0 330.9L702.0 332.1ZM702.5 332.1L702.5 330.7L703.0 330.7L703.0 331.5L703.5 331.5L703.5 330.7L704.0 330.7L704.0 331.4L704.5 331.4L704.5 331.2L705.0 331.2L705.0 331.1L705.5 331.1L705.5 331.5L706.0 331.5L706.0 331.4L706.5 331.4L706.5 331.4L707.0 331.4L707.0 331.3L707.5 331.3L707.5 332.1ZM708.0 332.1L708.0 330.9L708.5 330.9L708.5 331.5L709.0 331.5L709.0 329.8L709.5 329.8L709.5 330.7L710.0 330.7L710.0 330.9L710.5 330.9L710.5 330.8L711.0 330.8L711.0 332.1ZM711.5 332.1L711.5 330.8L712.0 330.8L712.0 331.1L712.5 331.1L712.5 331.4L713.0 331.4L713.0 330.8L713.5 330.8L713.5 330.0L714.0 330.0L714.0 331.1L714.5 331.1L714.5 330.8L715.0 330.8L715.0 330.8L715.5 330.8L715.5 331.0L716.0 331.0L716.0 331.6L716.5 331.6L716.5 330.8L717.0 330.8L717.0 330.7L717.5 330.7L717.5 330.9L718.0 330.9L718.0 332.1ZM718.5 332.1L718.5 331.1L719.0 331.1L719.0 331.5L719.5 331.5L719.5 330.2L720.0 330.2L720.0 332.1ZM720.5 332.1L720.5 329.5L721.0 329.5L721.0 331.4L721.5 331.4L721.5 330.7L722.0 330.7L722.0 330.7L722.5 330.7L722.5 332.1ZM723.0 332.1L723.0 329.6L723.5 329.6L723.5 330.6L724.0 330.6L724.0 330.9L724.5 330.9L724.5 331.0L725.0 331.0L725.0 331.4L725.5 331.4L725.5 331.2L726.0 331.2L726.0 330.5L726.5 330.5L726.5 331.4L727.0 331.4L727.0 331.4L727.5 331.4L727.5 330.7L728.0 330.7L728.0 329.8L728.5 329.8L728.5 331.2L729.0 331.2L729.0 330.8L729.5 330.8L729.5 330.6L730.0 330.6L730.0 330.5L730.5 330.5L730.5 331.1L731.0 331.1L731.0 330.8L731.5 330.8L731.5 331.1L732.0 331.1L732.0 330.6L732.5 330.6L732.5 331.1L733.0 331.1L733.0 331.1L733.5 331.1L733.5 330.9L734.0 330.9L734.0 331.0L734.5 331.0L734.5 331.3L735.0 331.3L735.0 331.5L735.5 331.5L735.5 331.5L736.0 331.5L736.0 331.4L736.5 331.4L736.5 332.1ZM737.0 332.1L737.0 331.5L737.5 331.5L737.5 330.7L738.0 330.7L738.0 331.2L738.5 331.2L738.5 332.1ZM739.0 332.1L739.0 330.6L739.5 330.6L739.5 331.0L740.0 331.0L740.0 331.3L740.5 331.3L740.5 332.1ZM741.0 332.1L741.0 330.8L741.5 330.8L741.5 330.1L742.0 330.1L742.0 331.0L742.5 331.0L742.5 331.3L743.0 331.3L743.0 330.6L743.5 330.6L743.5 331.2L744.0 331.2L744.0 332.1ZM744.5 332.1L744.5 330.8L745.0 330.8L745.0 330.7L745.5 330.7L745.5 331.2L746.0 331.2L746.0 331.6L746.5 331.6L746.5 332.1ZM747.5 332.1L747.5 330.1L748.0 330.1L748.0 330.5L748.5 330.5L748.5 330.6L749.0 330.6L749.0 332.1ZM749.5 332.1L749.5 330.6L750.0 330.6L750.0 330.5L750.5 330.5L750.5 331.1L751.0 331.1L751.0 331.1L751.5 331.1L751.5 332.1ZM752.0 332.1L752.0 330.9L752.5 330.9L752.5 332.1ZM753.0 332.1L753.0 330.9L753.5 330.9L753.5 332.1ZM754.0 332.1L754.0 329.6L754.5 329.6L754.5 331.3L755.0 331.3L755.0 330.6L755.5 330.6L755.5 330.8L756.0 330.8L756.0 331.4L756.5 331.4L756.5 332.1Z" fill="#a01a3e"/>
<line x1="630.0" y1="345.5" x2="757.0" y2="345.5" stroke="#9c1438" stroke-opacity="0.95" stroke-width="1.3"/>
<path d="M630.5 345.5L630.5 343.0L631.0 343.0L631.0 342.9L631.5 342.9L631.5 343.7L632.0 343.7L632.0 344.3L632.5 344.3L632.5 342.8L633.0 342.8L633.0 341.6L633.5 341.6L633.5 343.9L634.0 343.9L634.0 344.2L634.5 344.2L634.5 343.9L635.0 343.9L635.0 340.4L635.5 340.4L635.5 342.7L636.0 342.7L636.0 344.6L636.5 344.6L636.5 344.5L637.0 344.5L637.0 343.2L637.5 343.2L637.5 343.7L638.0 343.7L638.0 343.8L638.5 343.8L638.5 344.5L639.0 344.5L639.0 342.5L639.5 342.5L639.5 342.9L640.0 342.9L640.0 340.2L640.5 340.2L640.5 342.7L641.0 342.7L641.0 344.5L641.5 344.5L641.5 343.7L642.0 343.7L642.0 343.6L642.5 343.6L642.5 344.4L643.0 344.4L643.0 343.0L643.5 343.0L643.5 343.2L644.0 343.2L644.0 343.6L644.5 343.6L644.5 345.5ZM645.0 345.5L645.0 343.6L645.5 343.6L645.5 344.2L646.0 344.2L646.0 344.0L646.5 344.0L646.5 342.7L647.0 342.7L647.0 342.7L647.5 342.7L647.5 344.3L648.0 344.3L648.0 343.9L648.5 343.9L648.5 341.9L649.0 341.9L649.0 341.3L649.5 341.3L649.5 335.3L650.0 335.3L650.0 334.4L650.5 334.4L650.5 335.3L651.0 335.3L651.0 335.2L651.5 335.2L651.5 341.9L652.0 341.9L652.0 341.1L652.5 341.1L652.5 343.4L653.0 343.4L653.0 342.9L653.5 342.9L653.5 344.1L654.0 344.1L654.0 344.5L654.5 344.5L654.5 343.7L655.0 343.7L655.0 343.3L655.5 343.3L655.5 344.2L656.0 344.2L656.0 342.1L656.5 342.1L656.5 340.9L657.0 340.9L657.0 341.3L657.5 341.3L657.5 344.1L658.0 344.1L658.0 344.3L658.5 344.3L658.5 344.2L659.0 344.2L659.0 342.9L659.5 342.9L659.5 342.0L660.0 342.0L660.0 343.5L660.5 343.5L660.5 342.7L661.0 342.7L661.0 342.9L661.5 342.9L661.5 341.5L662.0 341.5L662.0 344.4L662.5 344.4L662.5 343.1L663.0 343.1L663.0 343.3L663.5 343.3L663.5 343.8L664.0 343.8L664.0 343.3L664.5 343.3L664.5 343.1L665.0 343.1L665.0 342.8L665.5 342.8L665.5 345.5ZM666.0 345.5L666.0 344.0L666.5 344.0L666.5 340.8L667.0 340.8L667.0 342.8L667.5 342.8L667.5 344.2L668.0 344.2L668.0 343.6L668.5 343.6L668.5 341.7L669.0 341.7L669.0 344.4L669.5 344.4L669.5 342.9L670.0 342.9L670.0 343.9L670.5 343.9L670.5 342.7L671.0 342.7L671.0 342.8L671.5 342.8L671.5 337.3L672.0 337.3L672.0 336.8L672.5 336.8L672.5 337.4L673.0 337.4L673.0 337.3L673.5 337.3L673.5 342.0L674.0 342.0L674.0 342.3L674.5 342.3L674.5 342.9L675.0 342.9L675.0 342.5L675.5 342.5L675.5 343.3L676.0 343.3L676.0 343.0L676.5 343.0L676.5 338.8L677.0 338.8L677.0 339.4L677.5 339.4L677.5 338.9L678.0 338.9L678.0 339.4L678.5 339.4L678.5 342.9L679.0 342.9L679.0 343.1L679.5 343.1L679.5 344.0L680.0 344.0L680.0 342.8L680.5 342.8L680.5 342.6L681.0 342.6L681.0 342.8L681.5 342.8L681.5 343.8L682.0 343.8L682.0 342.6L682.5 342.6L682.5 344.2L683.0 344.2L683.0 343.4L683.5 343.4L683.5 341.2L684.0 341.2L684.0 344.1L684.5 344.1L684.5 344.0L685.0 344.0L685.0 344.5L685.5 344.5L685.5 343.8L686.0 343.8L686.0 342.7L686.5 342.7L686.5 341.5L687.0 341.5L687.0 343.6L687.5 343.6L687.5 344.2L688.0 344.2L688.0 343.9L688.5 343.9L688.5 344.3L689.0 344.3L689.0 343.0L689.5 343.0L689.5 343.1L690.0 343.1L690.0 344.4L690.5 344.4L690.5 345.5ZM691.0 345.5L691.0 343.1L691.5 343.1L691.5 342.9L692.0 342.9L692.0 343.0L692.5 343.0L692.5 343.6L693.0 343.6L693.0 344.5L693.5 344.5L693.5 345.5ZM694.0 345.5L694.0 344.1L694.5 344.1L694.5 344.3L695.0 344.3L695.0 344.5L695.5 344.5L695.5 342.8L696.0 342.8L696.0 342.8L696.5 342.8L696.5 342.5L697.0 342.5L697.0 343.7L697.5 343.7L697.5 342.6L698.0 342.6L698.0 341.6L698.5 341.6L698.5 344.1L699.0 344.1L699.0 344.5L699.5 344.5L699.5 340.2L700.0 340.2L700.0 342.8L700.5 342.8L700.5 340.9L701.0 340.9L701.0 343.7L701.5 343.7L701.5 343.0L702.0 343.0L702.0 344.3L702.5 344.3L702.5 342.9L703.0 342.9L703.0 343.4L703.5 343.4L703.5 343.4L704.0 343.4L704.0 344.4L704.5 344.4L704.5 342.5L705.0 342.5L705.0 343.4L705.5 343.4L705.5 342.5L706.0 342.5L706.0 344.0L706.5 344.0L706.5 342.6L707.0 342.6L707.0 342.9L707.5 342.9L707.5 343.2L708.0 343.2L708.0 342.6L708.5 342.6L708.5 343.3L709.0 343.3L709.0 342.8L709.5 342.8L709.5 342.6L710.0 342.6L710.0 343.3L710.5 343.3L710.5 342.0L711.0 342.0L711.0 343.5L711.5 343.5L711.5 343.5L712.0 343.5L712.0 342.6L712.5 342.6L712.5 344.0L713.0 344.0L713.0 343.6L713.5 343.6L713.5 343.8L714.0 343.8L714.0 343.1L714.5 343.1L714.5 343.4L715.0 343.4L715.0 344.0L715.5 344.0L715.5 344.3L716.0 344.3L716.0 343.6L716.5 343.6L716.5 344.2L717.0 344.2L717.0 344.4L717.5 344.4L717.5 344.5L718.0 344.5L718.0 345.5ZM718.5 345.5L718.5 341.9L719.0 341.9L719.0 343.5L719.5 343.5L719.5 342.5L720.0 342.5L720.0 343.4L720.5 343.4L720.5 342.8L721.0 342.8L721.0 343.9L721.5 343.9L721.5 343.2L722.0 343.2L722.0 345.5ZM722.5 345.5L722.5 343.9L723.0 343.9L723.0 344.4L723.5 344.4L723.5 344.4L724.0 344.4L724.0 343.4L724.5 343.4L724.5 343.2L725.0 343.2L725.0 344.4L725.5 344.4L725.5 342.2L726.0 342.2L726.0 342.8L726.5 342.8L726.5 342.3L727.0 342.3L727.0 343.1L727.5 343.1L727.5 343.6L728.0 343.6L728.0 342.8L728.5 342.8L728.5 344.3L729.0 344.3L729.0 343.9L729.5 343.9L729.5 344.2L730.0 344.2L730.0 343.3L730.5 343.3L730.5 343.9L731.0 343.9L731.0 343.5L731.5 343.5L731.5 343.6L732.0 343.6L732.0 343.5L732.5 343.5L732.5 343.2L733.0 343.2L733.0 344.3L733.5 344.3L733.5 343.5L734.0 343.5L734.0 341.5L734.5 341.5L734.5 343.3L735.0 343.3L735.0 342.7L735.5 342.7L735.5 342.8L736.0 342.8L736.0 344.1L736.5 344.1L736.5 343.4L737.0 343.4L737.0 343.1L737.5 343.1L737.5 344.2L738.0 344.2L738.0 344.4L738.5 344.4L738.5 343.7L739.0 343.7L739.0 344.1L739.5 344.1L739.5 342.7L740.0 342.7L740.0 344.4L740.5 344.4L740.5 342.8L741.0 342.8L741.0 343.1L741.5 343.1L741.5 343.8L742.0 343.8L742.0 344.3L742.5 344.3L742.5 342.2L743.0 342.2L743.0 343.2L743.5 343.2L743.5 343.5L744.0 343.5L744.0 343.6L744.5 343.6L744.5 343.7L745.0 343.7L745.0 343.1L745.5 343.1L745.5 343.7L746.0 343.7L746.0 343.0L746.5 343.0L746.5 343.2L747.0 343.2L747.0 342.8L747.5 342.8L747.5 343.0L748.0 343.0L748.0 343.8L748.5 343.8L748.5 344.2L749.0 344.2L749.0 343.5L749.5 343.5L749.5 341.2L750.0 341.2L750.0 342.1L750.5 342.1L750.5 342.5L751.0 342.5L751.0 343.7L751.5 343.7L751.5 343.5L752.0 343.5L752.0 344.0L752.5 344.0L752.5 343.0L753.0 343.0L753.0 343.6L753.5 343.6L753.5 343.2L754.0 343.2L754.0 344.5L754.5 344.5L754.5 343.6L755.0 343.6L755.0 342.9L755.5 342.9L755.5 344.0L756.0 344.0L756.0 342.9L756.5 342.9L756.5 344.3L757.0 344.3L757.0 345.5Z" fill="#9c1438"/>
<line x1="630.0" y1="358.9" x2="757.0" y2="358.9" stroke="#8a3a96" stroke-opacity="0.6" stroke-width="1.3"/>
<path d="M632.0 358.9L632.0 358.4L632.5 358.4L632.5 358.9ZM633.5 358.9L633.5 358.5L634.0 358.5L634.0 358.9ZM635.5 358.9L635.5 358.0L636.0 358.0L636.0 358.9ZM637.0 358.9L637.0 357.5L637.5 357.5L637.5 357.7L638.0 357.7L638.0 357.6L638.5 357.6L638.5 355.8L639.0 355.8L639.0 355.6L639.5 355.6L639.5 355.8L640.0 355.8L640.0 355.6L640.5 355.6L640.5 355.9L641.0 355.9L641.0 357.7L641.5 357.7L641.5 357.9L642.0 357.9L642.0 358.1L642.5 358.1L642.5 358.9ZM643.0 358.9L643.0 358.4L643.5 358.4L643.5 358.9ZM644.0 358.9L644.0 358.2L644.5 358.2L644.5 358.9ZM645.0 358.9L645.0 358.4L645.5 358.4L645.5 358.1L646.0 358.1L646.0 358.9ZM647.5 358.9L647.5 358.3L648.0 358.3L648.0 358.9ZM649.0 358.9L649.0 354.9L649.5 354.9L649.5 355.3L650.0 355.3L650.0 349.6L650.5 349.6L650.5 349.4L651.0 349.4L651.0 349.6L651.5 349.6L651.5 349.5L652.0 349.5L652.0 355.3L652.5 355.3L652.5 355.7L653.0 355.7L653.0 358.1L653.5 358.1L653.5 358.2L654.0 358.2L654.0 356.7L654.5 356.7L654.5 356.8L655.0 356.8L655.0 356.8L655.5 356.8L655.5 356.9L656.0 356.9L656.0 356.9L656.5 356.9L656.5 358.2L657.0 358.2L657.0 358.0L657.5 358.0L657.5 358.1L658.0 358.1L658.0 358.9ZM658.5 358.9L658.5 358.0L659.0 358.0L659.0 358.9ZM660.0 358.9L660.0 357.8L660.5 357.8L660.5 358.2L661.0 358.2L661.0 358.9ZM661.5 358.9L661.5 358.1L662.0 358.1L662.0 358.9ZM663.5 358.9L663.5 357.9L664.0 357.9L664.0 358.9ZM665.5 358.9L665.5 358.1L666.0 358.1L666.0 358.1L666.5 358.1L666.5 357.8L667.0 357.8L667.0 356.8L667.5 356.8L667.5 357.8L668.0 357.8L668.0 358.9ZM669.5 358.9L669.5 357.9L670.0 357.9L670.0 358.9ZM671.0 358.9L671.0 355.0L671.5 355.0L671.5 355.0L672.0 355.0L672.0 349.7L672.5 349.7L672.5 349.2L673.0 349.2L673.0 349.8L673.5 349.8L673.5 349.8L674.0 349.8L674.0 349.0L674.5 349.0L674.5 355.3L675.0 355.3L675.0 355.7L675.5 355.7L675.5 358.4L676.0 358.4L676.0 358.9ZM676.5 358.9L676.5 358.1L677.0 358.1L677.0 357.2L677.5 357.2L677.5 358.9ZM683.0 358.9L683.0 357.9L683.5 357.9L683.5 358.9ZM684.5 358.9L684.5 358.0L685.0 358.0L685.0 358.9ZM686.0 358.9L686.0 358.5L686.5 358.5L686.5 358.9ZM688.5 358.9L688.5 357.1L689.0 357.1L689.0 358.3L689.5 358.3L689.5 358.9ZM690.0 358.9L690.0 358.0L690.5 358.0L690.5 358.2L691.0 358.2L691.0 358.9ZM691.5 358.9L691.5 358.2L692.0 358.2L692.0 358.9ZM693.0 358.9L693.0 358.1L693.5 358.1L693.5 358.9ZM694.0 358.9L694.0 357.7L694.5 357.7L694.5 358.9ZM695.0 358.9L695.0 357.9L695.5 357.9L695.5 358.9ZM696.0 358.9L696.0 358.1L696.5 358.1L696.5 358.9ZM697.5 358.9L697.5 358.2L698.0 358.2L698.0 358.9ZM698.5 358.9L698.5 358.4L699.0 358.4L699.0 358.5L699.5 358.5L699.5 358.9ZM703.0 358.9L703.0 358.1L703.5 358.1L703.5 358.9ZM704.0 358.9L704.0 358.5L704.5 358.5L704.5 358.9ZM705.0 358.9L705.0 358.5L705.5 358.5L705.5 356.7L706.0 356.7L706.0 356.0L706.5 356.0L706.5 351.3L707.0 351.3L707.0 351.2L707.5 351.2L707.5 351.8L708.0 351.8L708.0 351.7L708.5 351.7L708.5 351.1L709.0 351.1L709.0 356.3L709.5 356.3L709.5 356.1L710.0 356.1L710.0 358.9ZM712.0 358.9L712.0 357.9L712.5 357.9L712.5 358.5L713.0 358.5L713.0 358.9ZM715.0 358.9L715.0 357.9L715.5 357.9L715.5 358.9ZM720.0 358.9L720.0 358.2L720.5 358.2L720.5 358.9ZM722.0 358.9L722.0 357.8L722.5 357.8L722.5 358.0L723.0 358.0L723.0 358.9ZM727.0 358.9L727.0 357.8L727.5 357.8L727.5 358.9ZM728.5 358.9L728.5 356.8L729.0 356.8L729.0 358.9ZM731.5 358.9L731.5 358.2L732.0 358.2L732.0 358.9ZM735.0 358.9L735.0 358.6L735.5 358.6L735.5 357.5L736.0 357.5L736.0 358.9ZM736.5 358.9L736.5 358.3L737.0 358.3L737.0 358.9ZM738.5 358.9L738.5 358.3L739.0 358.3L739.0 357.0L739.5 357.0L739.5 358.1L740.0 358.1L740.0 356.8L740.5 356.8L740.5 356.8L741.0 356.8L741.0 356.9L741.5 356.9L741.5 356.8L742.0 356.8L742.0 356.8L742.5 356.8L742.5 358.0L743.0 358.0L743.0 358.0L743.5 358.0L743.5 358.2L744.0 358.2L744.0 356.9L744.5 356.9L744.5 356.8L745.0 356.8L745.0 356.7L745.5 356.7L745.5 356.7L746.0 356.7L746.0 356.8L746.5 356.8L746.5 357.9L747.0 357.9L747.0 357.4L747.5 357.4L747.5 357.3L748.0 357.3L748.0 357.2L748.5 357.2L748.5 357.4L749.0 357.4L749.0 357.4L749.5 357.4L749.5 358.3L750.0 358.3L750.0 358.1L750.5 358.1L750.5 358.9ZM751.0 358.9L751.0 358.1L751.5 358.1L751.5 358.9ZM752.5 358.9L752.5 358.3L753.0 358.3L753.0 357.9L753.5 357.9L753.5 358.9ZM754.5 358.9L754.5 358.0L755.0 358.0L755.0 358.9ZM756.5 358.9L756.5 358.2L757.0 358.2L757.0 358.9Z" fill="#8a3a96"/>
<line x1="630.0" y1="372.4" x2="757.0" y2="372.4" stroke="#5b1d66" stroke-opacity="0.8" stroke-width="1.3"/>
<path d="M630.5 372.4L630.5 371.0L631.0 371.0L631.0 372.4ZM631.5 372.4L631.5 370.5L632.0 370.5L632.0 371.2L632.5 371.2L632.5 370.8L633.0 370.8L633.0 370.3L633.5 370.3L633.5 370.6L634.0 370.6L634.0 371.2L634.5 371.2L634.5 370.9L635.0 370.9L635.0 370.4L635.5 370.4L635.5 368.9L636.0 368.9L636.0 372.4ZM636.5 372.4L636.5 371.4L637.0 371.4L637.0 370.5L637.5 370.5L637.5 370.6L638.0 370.6L638.0 370.8L638.5 370.8L638.5 370.1L639.0 370.1L639.0 370.2L639.5 370.2L639.5 370.3L640.0 370.3L640.0 370.1L640.5 370.1L640.5 370.2L641.0 370.2L641.0 371.1L641.5 371.1L641.5 370.4L642.0 370.4L642.0 372.4ZM643.0 372.4L643.0 371.5L643.5 371.5L643.5 370.9L644.0 370.9L644.0 370.7L644.5 370.7L644.5 371.2L645.0 371.2L645.0 371.7L645.5 371.7L645.5 372.4ZM646.0 372.4L646.0 369.9L646.5 369.9L646.5 370.7L647.0 370.7L647.0 371.3L647.5 371.3L647.5 372.4ZM648.5 372.4L648.5 370.8L649.0 370.8L649.0 369.3L649.5 369.3L649.5 370.1L650.0 370.1L650.0 365.2L650.5 365.2L650.5 365.3L651.0 365.3L651.0 364.8L651.5 364.8L651.5 365.1L652.0 365.1L652.0 369.3L652.5 369.3L652.5 369.4L653.0 369.4L653.0 371.4L653.5 371.4L653.5 371.7L654.0 371.7L654.0 372.4ZM655.0 372.4L655.0 371.2L655.5 371.2L655.5 372.4ZM656.0 372.4L656.0 370.4L656.5 370.4L656.5 372.4ZM658.0 372.4L658.0 371.5L658.5 371.5L658.5 370.9L659.0 370.9L659.0 369.6L659.5 369.6L659.5 372.4ZM661.0 372.4L661.0 371.2L661.5 371.2L661.5 372.4ZM662.0 372.4L662.0 370.7L662.5 370.7L662.5 370.6L663.0 370.6L663.0 370.5L663.5 370.5L663.5 372.4ZM664.0 372.4L664.0 371.5L664.5 371.5L664.5 372.4ZM665.0 372.4L665.0 371.1L665.5 371.1L665.5 371.3L666.0 371.3L666.0 370.9L666.5 370.9L666.5 372.4ZM667.5 372.4L667.5 371.7L668.0 371.7L668.0 371.7L668.5 371.7L668.5 369.2L669.0 369.2L669.0 372.4ZM669.5 372.4L669.5 371.0L670.0 371.0L670.0 372.4ZM670.5 372.4L670.5 370.5L671.0 370.5L671.0 370.7L671.5 370.7L671.5 370.8L672.0 370.8L672.0 368.2L672.5 368.2L672.5 367.9L673.0 367.9L673.0 368.2L673.5 368.2L673.5 368.2L674.0 368.2L674.0 368.0L674.5 368.0L674.5 370.7L675.0 370.7L675.0 370.6L675.5 370.6L675.5 370.4L676.0 370.4L676.0 372.4ZM676.5 372.4L676.5 371.4L677.0 371.4L677.0 372.4ZM677.5 372.4L677.5 371.3L678.0 371.3L678.0 372.4ZM678.5 372.4L678.5 370.5L679.0 370.5L679.0 371.0L679.5 371.0L679.5 372.4ZM680.0 372.4L680.0 371.4L680.5 371.4L680.5 371.7L681.0 371.7L681.0 372.4ZM681.5 372.4L681.5 371.5L682.0 371.5L682.0 370.7L682.5 370.7L682.5 370.5L683.0 370.5L683.0 369.7L683.5 369.7L683.5 371.0L684.0 371.0L684.0 372.4ZM685.0 372.4L685.0 371.1L685.5 371.1L685.5 370.9L686.0 370.9L686.0 372.4ZM686.5 372.4L686.5 371.1L687.0 371.1L687.0 372.4ZM688.0 372.4L688.0 371.7L688.5 371.7L688.5 372.4ZM689.0 372.4L689.0 371.5L689.5 371.5L689.5 371.0L690.0 371.0L690.0 371.6L690.5 371.6L690.5 372.4ZM691.0 372.4L691.0 371.7L691.5 371.7L691.5 372.4ZM692.5 372.4L692.5 370.8L693.0 370.8L693.0 370.8L693.5 370.8L693.5 371.3L694.0 371.3L694.0 370.8L694.5 370.8L694.5 371.2L695.0 371.2L695.0 371.2L695.5 371.2L695.5 371.7L696.0 371.7L696.0 371.3L696.5 371.3L696.5 370.5L697.0 370.5L697.0 372.4ZM698.0 372.4L698.0 371.1L698.5 371.1L698.5 372.4ZM701.5 372.4L701.5 371.0L702.0 371.0L702.0 372.4ZM702.5 372.4L702.5 370.6L703.0 370.6L703.0 372.4ZM704.0 372.4L704.0 370.9L704.5 370.9L704.5 371.7L705.0 371.7L705.0 372.4ZM705.5 372.4L705.5 370.5L706.0 370.5L706.0 369.3L706.5 369.3L706.5 370.8L707.0 370.8L707.0 372.4ZM707.5 372.4L707.5 371.1L708.0 371.1L708.0 370.4L708.5 370.4L708.5 372.4ZM709.5 372.4L709.5 369.6L710.0 369.6L710.0 372.4ZM710.5 372.4L710.5 370.5L711.0 370.5L711.0 370.8L711.5 370.8L711.5 372.4ZM712.5 372.4L712.5 370.7L713.0 370.7L713.0 372.4ZM713.5 372.4L713.5 370.6L714.0 370.6L714.0 372.4ZM714.5 372.4L714.5 371.4L715.0 371.4L715.0 370.8L715.5 370.8L715.5 371.1L716.0 371.1L716.0 372.4ZM716.5 372.4L716.5 371.6L717.0 371.6L717.0 370.8L717.5 370.8L717.5 368.9L718.0 368.9L718.0 370.6L718.5 370.6L718.5 370.4L719.0 370.4L719.0 370.8L719.5 370.8L719.5 372.4ZM720.0 372.4L720.0 371.5L720.5 371.5L720.5 371.2L721.0 371.2L721.0 372.4ZM722.5 372.4L722.5 370.4L723.0 370.4L723.0 371.6L723.5 371.6L723.5 372.4ZM724.5 372.4L724.5 371.4L725.0 371.4L725.0 372.4ZM728.0 372.4L728.0 371.1L728.5 371.1L728.5 371.5L729.0 371.5L729.0 370.8L729.5 370.8L729.5 372.4ZM730.0 372.4L730.0 370.8L730.5 370.8L730.5 370.6L731.0 370.6L731.0 372.4ZM731.5 372.4L731.5 371.2L732.0 371.2L732.0 370.4L732.5 370.4L732.5 370.7L733.0 370.7L733.0 372.4ZM733.5 372.4L733.5 371.3L734.0 371.3L734.0 372.4ZM735.5 372.4L735.5 371.2L736.0 371.2L736.0 372.4ZM737.5 372.4L737.5 370.5L738.0 370.5L738.0 370.9L738.5 370.9L738.5 370.6L739.0 370.6L739.0 372.4ZM739.5 372.4L739.5 371.6L740.0 371.6L740.0 372.4ZM741.0 372.4L741.0 371.0L741.5 371.0L741.5 372.4ZM742.0 372.4L742.0 370.5L742.5 370.5L742.5 370.5L743.0 370.5L743.0 372.4ZM744.0 372.4L744.0 371.4L744.5 371.4L744.5 372.4ZM745.0 372.4L745.0 371.6L745.5 371.6L745.5 369.2L746.0 369.2L746.0 370.2L746.5 370.2L746.5 372.4ZM747.0 372.4L747.0 370.5L747.5 370.5L747.5 370.4L748.0 370.4L748.0 372.4ZM748.5 372.4L748.5 371.6L749.0 371.6L749.0 372.4ZM749.5 372.4L749.5 371.6L750.0 371.6L750.0 372.4ZM750.5 372.4L750.5 370.5L751.0 370.5L751.0 371.2L751.5 371.2L751.5 372.4ZM752.0 372.4L752.0 369.9L752.5 369.9L752.5 372.4ZM754.0 372.4L754.0 371.5L754.5 371.5L754.5 370.5L755.0 370.5L755.0 371.2L755.5 371.2L755.5 371.7L756.0 371.7L756.0 371.5L756.5 371.5L756.5 370.8L757.0 370.8L757.0 372.4Z" fill="#5b1d66"/>
<line x1="630.0" y1="385.8" x2="757.0" y2="385.8" stroke="#b0a8d8" stroke-opacity="0.7" stroke-width="1.3"/>
<path d="M633.5 385.8L633.5 385.5L634.0 385.5L634.0 385.8ZM637.5 385.8L637.5 385.0L638.0 385.0L638.0 385.8ZM642.0 385.8L642.0 385.0L642.5 385.0L642.5 385.8ZM646.5 385.8L646.5 385.1L647.0 385.1L647.0 385.8ZM649.0 385.8L649.0 383.8L649.5 383.8L649.5 383.7L650.0 383.7L650.0 380.2L650.5 380.2L650.5 380.7L651.0 380.7L651.0 380.7L651.5 380.7L651.5 380.7L652.0 380.7L652.0 384.2L652.5 384.2L652.5 384.1L653.0 384.1L653.0 385.8ZM653.5 385.8L653.5 385.1L654.0 385.1L654.0 385.8ZM655.0 385.8L655.0 385.2L655.5 385.2L655.5 385.8ZM656.5 385.8L656.5 385.5L657.0 385.5L657.0 385.8ZM660.0 385.8L660.0 385.2L660.5 385.2L660.5 385.8ZM661.5 385.8L661.5 385.5L662.0 385.5L662.0 385.8ZM671.0 385.8L671.0 383.1L671.5 383.1L671.5 383.0L672.0 383.0L672.0 378.1L672.5 378.1L672.5 378.1L673.0 378.1L673.0 378.1L673.5 378.1L673.5 378.0L674.0 378.0L674.0 378.0L674.5 378.0L674.5 383.4L675.0 383.4L675.0 383.2L675.5 383.2L675.5 385.0L676.0 385.0L676.0 385.8ZM678.5 385.8L678.5 385.3L679.0 385.3L679.0 385.8ZM687.5 385.8L687.5 385.5L688.0 385.5L688.0 385.8ZM688.5 385.8L688.5 385.5L689.0 385.5L689.0 385.8ZM691.0 385.8L691.0 384.2L691.5 384.2L691.5 384.3L692.0 384.3L692.0 381.4L692.5 381.4L692.5 381.5L693.0 381.5L693.0 381.7L693.5 381.7L693.5 381.6L694.0 381.6L694.0 381.3L694.5 381.3L694.5 384.4L695.0 384.4L695.0 384.2L695.5 384.2L695.5 385.8ZM702.0 385.8L702.0 385.5L702.5 385.5L702.5 385.8ZM706.0 385.8L706.0 382.0L706.5 382.0L706.5 381.8L707.0 381.8L707.0 374.6L707.5 374.6L707.5 375.3L708.0 375.3L708.0 375.3L708.5 375.3L708.5 374.8L709.0 374.8L709.0 381.5L709.5 381.5L709.5 381.5L710.0 381.5L710.0 385.8ZM712.5 385.8L712.5 385.0L713.0 385.0L713.0 385.8ZM715.5 385.8L715.5 385.0L716.0 385.0L716.0 385.8ZM716.5 385.8L716.5 385.4L717.0 385.4L717.0 385.8ZM725.0 385.8L725.0 384.4L725.5 384.4L725.5 385.8ZM736.5 385.8L736.5 385.0L737.0 385.0L737.0 385.8ZM741.0 385.8L741.0 385.4L741.5 385.4L741.5 385.8ZM743.5 385.8L743.5 384.5L744.0 384.5L744.0 385.8ZM746.0 385.8L746.0 385.4L746.5 385.4L746.5 385.8ZM747.5 385.8L747.5 385.3L748.0 385.3L748.0 385.8ZM753.5 385.8L753.5 385.4L754.0 385.4L754.0 384.5L754.5 384.5L754.5 385.8Z" fill="#6b4bdf"/>
<line x1="630.0" y1="399.2" x2="757.0" y2="399.2" stroke="#6242c4" stroke-opacity="0.8" stroke-width="1.3"/>
<path d="M630.5 399.2L630.5 398.2L631.0 398.2L631.0 398.3L631.5 398.3L631.5 398.8L632.0 398.8L632.0 398.2L632.5 398.2L632.5 398.2L633.0 398.2L633.0 398.6L633.5 398.6L633.5 399.2ZM634.5 399.2L634.5 398.3L635.0 398.3L635.0 399.2ZM635.5 399.2L635.5 397.7L636.0 397.7L636.0 398.3L636.5 398.3L636.5 399.2ZM637.0 399.2L637.0 398.1L637.5 398.1L637.5 398.2L638.0 398.2L638.0 398.4L638.5 398.4L638.5 398.3L639.0 398.3L639.0 399.2ZM643.0 399.2L643.0 398.4L643.5 398.4L643.5 398.3L644.0 398.3L644.0 397.8L644.5 397.8L644.5 399.2ZM645.5 399.2L645.5 398.3L646.0 398.3L646.0 398.3L646.5 398.3L646.5 398.4L647.0 398.4L647.0 398.9L647.5 398.9L647.5 399.2ZM648.0 399.2L648.0 398.4L648.5 398.4L648.5 399.2ZM649.0 399.2L649.0 398.1L649.5 398.1L649.5 397.4L650.0 397.4L650.0 396.0L650.5 396.0L650.5 396.0L651.0 396.0L651.0 396.0L651.5 396.0L651.5 396.0L652.0 396.0L652.0 398.2L652.5 398.2L652.5 398.2L653.0 398.2L653.0 399.2ZM653.5 399.2L653.5 398.4L654.0 398.4L654.0 399.2ZM656.0 399.2L656.0 398.6L656.5 398.6L656.5 399.2ZM657.0 399.2L657.0 398.8L657.5 398.8L657.5 399.2ZM658.0 399.2L658.0 398.4L658.5 398.4L658.5 399.2ZM659.0 399.2L659.0 398.2L659.5 398.2L659.5 399.2ZM661.5 399.2L661.5 397.7L662.0 397.7L662.0 398.8L662.5 398.8L662.5 399.2ZM664.0 399.2L664.0 398.3L664.5 398.3L664.5 398.7L665.0 398.7L665.0 399.2ZM665.5 399.2L665.5 398.2L666.0 398.2L666.0 398.7L666.5 398.7L666.5 398.7L667.0 398.7L667.0 398.8L667.5 398.8L667.5 398.4L668.0 398.4L668.0 399.2ZM669.0 399.2L669.0 398.3L669.5 398.3L669.5 398.4L670.0 398.4L670.0 399.2ZM670.5 399.2L670.5 397.5L671.0 397.5L671.0 397.4L671.5 397.4L671.5 394.9L672.0 394.9L672.0 394.8L672.5 394.8L672.5 394.8L673.0 394.8L673.0 395.1L673.5 395.1L673.5 397.9L674.0 397.9L674.0 397.7L674.5 397.7L674.5 399.2ZM676.0 399.2L676.0 398.2L676.5 398.2L676.5 399.2ZM677.5 399.2L677.5 398.8L678.0 398.8L678.0 399.2ZM678.5 399.2L678.5 398.7L679.0 398.7L679.0 398.5L679.5 398.5L679.5 398.1L680.0 398.1L680.0 399.2ZM680.5 399.2L680.5 398.7L681.0 398.7L681.0 399.2ZM682.0 399.2L682.0 398.7L682.5 398.7L682.5 398.8L683.0 398.8L683.0 398.5L683.5 398.5L683.5 398.3L684.0 398.3L684.0 398.6L684.5 398.6L684.5 399.2ZM685.5 399.2L685.5 398.7L686.0 398.7L686.0 398.4L686.5 398.4L686.5 398.5L687.0 398.5L687.0 397.3L687.5 397.3L687.5 398.5L688.0 398.5L688.0 399.2ZM689.5 399.2L689.5 398.4L690.0 398.4L690.0 398.5L690.5 398.5L690.5 399.2ZM691.0 399.2L691.0 398.0L691.5 398.0L691.5 398.1L692.0 398.1L692.0 395.9L692.5 395.9L692.5 395.9L693.0 395.9L693.0 396.0L693.5 396.0L693.5 396.0L694.0 396.0L694.0 396.2L694.5 396.2L694.5 398.2L695.0 398.2L695.0 397.9L695.5 397.9L695.5 398.9L696.0 398.9L696.0 399.2ZM698.0 399.2L698.0 398.5L698.5 398.5L698.5 399.2ZM699.0 399.2L699.0 398.4L699.5 398.4L699.5 399.2ZM702.0 399.2L702.0 398.5L702.5 398.5L702.5 397.7L703.0 397.7L703.0 398.7L703.5 398.7L703.5 398.1L704.0 398.1L704.0 398.2L704.5 398.2L704.5 398.5L705.0 398.5L705.0 399.2ZM706.0 399.2L706.0 397.1L706.5 397.1L706.5 397.1L707.0 397.1L707.0 394.0L707.5 394.0L707.5 393.7L708.0 393.7L708.0 393.8L708.5 393.8L708.5 393.9L709.0 393.9L709.0 397.4L709.5 397.4L709.5 397.1L710.0 397.1L710.0 397.3L710.5 397.3L710.5 397.2L711.0 397.2L711.0 397.9L711.5 397.9L711.5 398.3L712.0 398.3L712.0 398.8L712.5 398.8L712.5 398.2L713.0 398.2L713.0 399.2ZM713.5 399.2L713.5 398.4L714.0 398.4L714.0 398.2L714.5 398.2L714.5 399.2ZM715.0 399.2L715.0 398.5L715.5 398.5L715.5 399.2ZM716.0 399.2L716.0 398.7L716.5 398.7L716.5 399.2ZM718.0 399.2L718.0 398.8L718.5 398.8L718.5 399.2ZM719.0 399.2L719.0 398.7L719.5 398.7L719.5 399.2ZM720.0 399.2L720.0 398.2L720.5 398.2L720.5 399.2ZM721.0 399.2L721.0 398.2L721.5 398.2L721.5 398.6L722.0 398.6L722.0 399.2ZM722.5 399.2L722.5 398.4L723.0 398.4L723.0 399.2ZM724.0 399.2L724.0 398.7L724.5 398.7L724.5 399.2ZM725.5 399.2L725.5 398.3L726.0 398.3L726.0 398.8L726.5 398.8L726.5 398.5L727.0 398.5L727.0 398.5L727.5 398.5L727.5 399.2ZM728.5 399.2L728.5 397.5L729.0 397.5L729.0 399.2ZM729.5 399.2L729.5 398.8L730.0 398.8L730.0 398.2L730.5 398.2L730.5 399.2ZM732.0 399.2L732.0 398.6L732.5 398.6L732.5 399.2ZM733.0 399.2L733.0 398.9L733.5 398.9L733.5 397.5L734.0 397.5L734.0 399.2ZM735.0 399.2L735.0 398.6L735.5 398.6L735.5 397.5L736.0 397.5L736.0 398.6L736.5 398.6L736.5 398.5L737.0 398.5L737.0 399.2ZM737.5 399.2L737.5 398.2L738.0 398.2L738.0 398.8L738.5 398.8L738.5 398.8L739.0 398.8L739.0 399.2ZM739.5 399.2L739.5 398.5L740.0 398.5L740.0 398.5L740.5 398.5L740.5 399.2ZM741.0 399.2L741.0 398.6L741.5 398.6L741.5 399.2ZM742.5 399.2L742.5 397.6L743.0 397.6L743.0 399.2ZM744.0 399.2L744.0 398.5L744.5 398.5L744.5 398.3L745.0 398.3L745.0 399.2ZM746.5 399.2L746.5 398.6L747.0 398.6L747.0 398.7L747.5 398.7L747.5 399.2ZM750.0 399.2L750.0 398.8L750.5 398.8L750.5 399.2ZM751.0 399.2L751.0 398.7L751.5 398.7L751.5 398.6L752.0 398.6L752.0 398.9L752.5 398.9L752.5 398.7L753.0 398.7L753.0 398.3L753.5 398.3L753.5 398.2L754.0 398.2L754.0 399.2ZM754.5 399.2L754.5 398.5L755.0 398.5L755.0 398.4L755.5 398.4L755.5 399.2Z" fill="#6242c4"/>
<line x1="630.0" y1="412.6" x2="757.0" y2="412.6" stroke="#c8b8b0" stroke-opacity="0.7" stroke-width="1.3"/>
<path d="M631.0 412.6L631.0 412.5L631.5 412.5L631.5 412.4L632.0 412.4L632.0 412.6ZM633.0 412.6L633.0 412.3L633.5 412.3L633.5 412.3L634.0 412.3L634.0 412.6ZM635.5 412.6L635.5 412.3L636.0 412.3L636.0 412.6ZM642.5 412.6L642.5 412.2L643.0 412.2L643.0 412.3L643.5 412.3L643.5 412.6ZM649.0 412.6L649.0 408.5L649.5 408.5L649.5 409.4L650.0 409.4L650.0 401.9L650.5 401.9L650.5 401.7L651.0 401.7L651.0 402.4L651.5 402.4L651.5 401.8L652.0 401.8L652.0 409.2L652.5 409.2L652.5 408.7L653.0 408.7L653.0 412.6ZM653.5 412.6L653.5 412.1L654.0 412.1L654.0 412.3L654.5 412.3L654.5 412.4L655.0 412.4L655.0 412.6ZM659.5 412.6L659.5 412.4L660.0 412.4L660.0 412.6ZM660.5 412.6L660.5 412.3L661.0 412.3L661.0 412.6ZM662.5 412.6L662.5 412.2L663.0 412.2L663.0 412.6ZM664.0 412.6L664.0 412.5L664.5 412.5L664.5 412.6ZM669.0 412.6L669.0 412.2L669.5 412.2L669.5 412.3L670.0 412.3L670.0 411.4L670.5 411.4L670.5 411.6L671.0 411.6L671.0 409.4L671.5 409.4L671.5 409.4L672.0 409.4L672.0 409.3L672.5 409.3L672.5 409.3L673.0 409.3L673.0 409.6L673.5 409.6L673.5 411.4L674.0 411.4L674.0 411.7L674.5 411.7L674.5 412.6ZM676.0 412.6L676.0 411.6L676.5 411.6L676.5 411.4L677.0 411.4L677.0 409.3L677.5 409.3L677.5 409.4L678.0 409.4L678.0 409.3L678.5 409.3L678.5 409.6L679.0 409.6L679.0 409.6L679.5 409.6L679.5 411.7L680.0 411.7L680.0 411.5L680.5 411.5L680.5 412.6ZM683.0 412.6L683.0 412.4L683.5 412.4L683.5 412.6ZM684.0 412.6L684.0 412.3L684.5 412.3L684.5 412.6ZM685.0 412.6L685.0 412.2L685.5 412.2L685.5 412.3L686.0 412.3L686.0 412.6ZM686.5 412.6L686.5 412.0L687.0 412.0L687.0 412.6ZM691.5 412.6L691.5 412.3L692.0 412.3L692.0 412.6ZM692.5 412.6L692.5 412.2L693.0 412.2L693.0 412.2L693.5 412.2L693.5 412.6ZM699.0 412.6L699.0 411.8L699.5 411.8L699.5 412.5L700.0 412.5L700.0 412.6ZM704.0 412.6L704.0 412.3L704.5 412.3L704.5 412.6ZM707.0 412.6L707.0 412.4L707.5 412.4L707.5 412.6ZM710.0 412.6L710.0 412.1L710.5 412.1L710.5 412.1L711.0 412.1L711.0 412.6ZM719.0 412.6L719.0 412.3L719.5 412.3L719.5 412.6ZM721.0 412.6L721.0 412.2L721.5 412.2L721.5 412.6ZM722.0 412.6L722.0 412.3L722.5 412.3L722.5 412.6ZM723.0 412.6L723.0 412.2L723.5 412.2L723.5 412.6ZM727.0 412.6L727.0 412.2L727.5 412.2L727.5 412.6ZM728.0 412.6L728.0 412.2L728.5 412.2L728.5 412.5L729.0 412.5L729.0 412.6ZM730.0 412.6L730.0 412.4L730.5 412.4L730.5 412.6ZM733.5 412.6L733.5 412.4L734.0 412.4L734.0 412.6ZM738.5 412.6L738.5 412.4L739.0 412.4L739.0 412.6ZM747.5 412.6L747.5 412.3L748.0 412.3L748.0 412.6ZM750.5 412.6L750.5 412.4L751.0 412.4L751.0 412.6ZM753.0 412.6L753.0 412.2L753.5 412.2L753.5 412.6Z" fill="#e8683a"/>
<line x1="630.0" y1="426.1" x2="757.0" y2="426.1" stroke="#c8c0a0" stroke-opacity="0.6" stroke-width="1.3"/>
<path d="M631.0 426.1L631.0 425.9L631.5 425.9L631.5 426.1ZM633.5 426.1L633.5 425.8L634.0 425.8L634.0 425.6L634.5 425.6L634.5 426.1ZM636.0 426.1L636.0 424.6L636.5 424.6L636.5 424.5L637.0 424.5L637.0 421.4L637.5 421.4L637.5 421.6L638.0 421.6L638.0 421.2L638.5 421.2L638.5 414.5L639.0 414.5L639.0 414.4L639.5 414.4L639.5 414.5L640.0 414.5L640.0 414.1L640.5 414.1L640.5 414.3L641.0 414.3L641.0 421.9L641.5 421.9L641.5 421.2L642.0 421.2L642.0 426.1ZM643.0 426.1L643.0 425.7L643.5 425.7L643.5 426.1ZM645.0 426.1L645.0 425.8L645.5 425.8L645.5 425.7L646.0 425.7L646.0 426.1ZM646.5 426.1L646.5 425.9L647.0 425.9L647.0 426.1ZM647.5 426.1L647.5 425.6L648.0 425.6L648.0 426.1ZM649.5 426.1L649.5 425.3L650.0 425.3L650.0 426.1ZM652.5 426.1L652.5 425.4L653.0 425.4L653.0 426.1ZM657.0 426.1L657.0 425.7L657.5 425.7L657.5 426.1ZM658.0 426.1L658.0 425.7L658.5 425.7L658.5 426.1ZM664.0 426.1L664.0 425.8L664.5 425.8L664.5 425.9L665.0 425.9L665.0 426.1ZM668.0 426.1L668.0 425.6L668.5 425.6L668.5 426.1ZM671.0 426.1L671.0 425.8L671.5 425.8L671.5 426.1ZM672.0 426.1L672.0 425.8L672.5 425.8L672.5 426.1ZM674.0 426.1L674.0 425.8L674.5 425.8L674.5 425.2L675.0 425.2L675.0 426.1ZM676.5 426.1L676.5 425.2L677.0 425.2L677.0 425.1L677.5 425.1L677.5 423.7L678.0 423.7L678.0 423.7L678.5 423.7L678.5 423.8L679.0 423.8L679.0 423.8L679.5 423.8L679.5 423.7L680.0 423.7L680.0 425.2L680.5 425.2L680.5 425.3L681.0 425.3L681.0 426.1ZM683.5 426.1L683.5 425.9L684.0 425.9L684.0 426.1ZM686.0 426.1L686.0 425.8L686.5 425.8L686.5 425.5L687.0 425.5L687.0 425.1L687.5 425.1L687.5 424.5L688.0 424.5L688.0 424.1L688.5 424.1L688.5 423.6L689.0 423.6L689.0 423.1L689.5 423.1L689.5 422.6L690.0 422.6L690.0 422.8L690.5 422.8L690.5 422.9L691.0 422.9L691.0 423.4L691.5 423.4L691.5 424.2L692.0 424.2L692.0 424.8L692.5 424.8L692.5 425.3L693.0 425.3L693.0 425.6L693.5 425.6L693.5 425.8L694.0 425.8L694.0 426.1ZM694.5 426.1L694.5 425.7L695.0 425.7L695.0 426.1ZM696.5 426.1L696.5 425.7L697.0 425.7L697.0 425.4L697.5 425.4L697.5 426.1ZM698.0 426.1L698.0 425.7L698.5 425.7L698.5 426.1ZM700.0 426.1L700.0 425.8L700.5 425.8L700.5 426.1ZM701.0 426.1L701.0 425.8L701.5 425.8L701.5 426.1ZM702.0 426.1L702.0 425.8L702.5 425.8L702.5 425.7L703.0 425.7L703.0 425.5L703.5 425.5L703.5 425.3L704.0 425.3L704.0 425.1L704.5 425.1L704.5 424.9L705.0 424.9L705.0 424.9L705.5 424.9L705.5 425.1L706.0 425.1L706.0 425.1L706.5 425.1L706.5 425.3L707.0 425.3L707.0 425.5L707.5 425.5L707.5 425.7L708.0 425.7L708.0 425.8L708.5 425.8L708.5 426.1ZM710.0 426.1L710.0 425.6L710.5 425.6L710.5 426.1ZM716.0 426.1L716.0 425.7L716.5 425.7L716.5 426.1ZM717.5 426.1L717.5 425.9L718.0 425.9L718.0 426.1ZM723.5 426.1L723.5 425.9L724.0 425.9L724.0 426.1ZM727.0 426.1L727.0 425.8L727.5 425.8L727.5 426.1ZM728.0 426.1L728.0 425.7L728.5 425.7L728.5 426.1ZM733.5 426.1L733.5 425.9L734.0 425.9L734.0 426.1ZM734.5 426.1L734.5 425.6L735.0 425.6L735.0 425.7L735.5 425.7L735.5 426.1ZM736.5 426.1L736.5 425.9L737.0 425.9L737.0 426.1ZM739.0 426.1L739.0 425.9L739.5 425.9L739.5 426.1ZM740.5 426.1L740.5 425.7L741.0 425.7L741.0 426.1ZM745.0 426.1L745.0 425.6L745.5 425.6L745.5 425.9L746.0 425.9L746.0 426.1ZM748.5 426.1L748.5 425.8L749.0 425.8L749.0 426.1ZM750.0 426.1L750.0 425.7L750.5 425.7L750.5 426.1ZM751.0 426.1L751.0 425.8L751.5 425.8L751.5 425.8L752.0 425.8L752.0 426.1ZM753.0 426.1L753.0 425.6L753.5 425.6L753.5 426.1ZM755.5 426.1L755.5 425.9L756.0 425.9L756.0 426.1ZM756.5 426.1L756.5 425.6L757.0 425.6L757.0 426.1Z" fill="#f6c51d"/>
<line x1="630.0" y1="439.5" x2="757.0" y2="439.5" stroke="#f0922c" stroke-opacity="0.9" stroke-width="1.3"/>
<path d="M630.5 439.5L630.5 435.9L631.0 435.9L631.0 436.2L631.5 436.2L631.5 436.2L632.0 436.2L632.0 436.9L632.5 436.9L632.5 437.3L633.0 437.3L633.0 437.1L633.5 437.1L633.5 436.3L634.0 436.3L634.0 437.4L634.5 437.4L634.5 436.7L635.0 436.7L635.0 436.4L635.5 436.4L635.5 434.8L636.0 434.8L636.0 436.4L636.5 436.4L636.5 436.2L637.0 436.2L637.0 436.3L637.5 436.3L637.5 437.0L638.0 437.0L638.0 436.8L638.5 436.8L638.5 437.1L639.0 437.1L639.0 437.0L639.5 437.0L639.5 435.3L640.0 435.3L640.0 435.1L640.5 435.1L640.5 435.4L641.0 435.4L641.0 435.0L641.5 435.0L641.5 435.3L642.0 435.3L642.0 434.4L642.5 434.4L642.5 433.9L643.0 433.9L643.0 434.1L643.5 434.1L643.5 434.1L644.0 434.1L644.0 434.1L644.5 434.1L644.5 435.3L645.0 435.3L645.0 435.1L645.5 435.1L645.5 435.2L646.0 435.2L646.0 435.3L646.5 435.3L646.5 437.2L647.0 437.2L647.0 436.0L647.5 436.0L647.5 437.0L648.0 437.0L648.0 437.4L648.5 437.4L648.5 434.5L649.0 434.5L649.0 435.7L649.5 435.7L649.5 436.6L650.0 436.6L650.0 431.8L650.5 431.8L650.5 432.2L651.0 432.2L651.0 431.8L651.5 431.8L651.5 431.9L652.0 431.9L652.0 436.5L652.5 436.5L652.5 436.4L653.0 436.4L653.0 435.1L653.5 435.1L653.5 437.1L654.0 437.1L654.0 437.4L654.5 437.4L654.5 436.9L655.0 436.9L655.0 434.6L655.5 434.6L655.5 437.3L656.0 437.3L656.0 435.1L656.5 435.1L656.5 436.9L657.0 436.9L657.0 437.2L657.5 437.2L657.5 436.8L658.0 436.8L658.0 437.5L658.5 437.5L658.5 436.0L659.0 436.0L659.0 437.4L659.5 437.4L659.5 437.6L660.0 437.6L660.0 436.7L660.5 436.7L660.5 437.2L661.0 437.2L661.0 435.8L661.5 435.8L661.5 436.6L662.0 436.6L662.0 437.3L662.5 437.3L662.5 437.0L663.0 437.0L663.0 435.7L663.5 435.7L663.5 437.2L664.0 437.2L664.0 437.6L664.5 437.6L664.5 435.9L665.0 435.9L665.0 437.0L665.5 437.0L665.5 436.8L666.0 436.8L666.0 435.9L666.5 435.9L666.5 437.0L667.0 437.0L667.0 436.8L667.5 436.8L667.5 435.7L668.0 435.7L668.0 437.0L668.5 437.0L668.5 435.3L669.0 435.3L669.0 436.7L669.5 436.7L669.5 436.5L670.0 436.5L670.0 437.0L670.5 437.0L670.5 436.9L671.0 436.9L671.0 435.1L671.5 435.1L671.5 435.3L672.0 435.3L672.0 435.4L672.5 435.4L672.5 435.4L673.0 435.4L673.0 435.0L673.5 435.0L673.5 437.1L674.0 437.1L674.0 437.1L674.5 437.1L674.5 435.8L675.0 435.8L675.0 436.7L675.5 436.7L675.5 435.0L676.0 435.0L676.0 435.8L676.5 435.8L676.5 437.6L677.0 437.6L677.0 435.3L677.5 435.3L677.5 435.0L678.0 435.0L678.0 435.1L678.5 435.1L678.5 435.1L679.0 435.1L679.0 435.2L679.5 435.2L679.5 435.2L680.0 435.2L680.0 437.2L680.5 437.2L680.5 436.0L681.0 436.0L681.0 437.6L681.5 437.6L681.5 436.2L682.0 436.2L682.0 435.5L682.5 435.5L682.5 436.4L683.0 436.4L683.0 436.8L683.5 436.8L683.5 436.4L684.0 436.4L684.0 436.2L684.5 436.2L684.5 436.6L685.0 436.6L685.0 435.6L685.5 435.6L685.5 437.1L686.0 437.1L686.0 437.4L686.5 437.4L686.5 435.1L687.0 435.1L687.0 435.4L687.5 435.4L687.5 436.2L688.0 436.2L688.0 434.4L688.5 434.4L688.5 435.4L689.0 435.4L689.0 436.2L689.5 436.2L689.5 437.0L690.0 437.0L690.0 436.7L690.5 436.7L690.5 433.7L691.0 433.7L691.0 436.3L691.5 436.3L691.5 437.5L692.0 437.5L692.0 437.0L692.5 437.0L692.5 434.8L693.0 434.8L693.0 436.3L693.5 436.3L693.5 437.1L694.0 437.1L694.0 437.4L694.5 437.4L694.5 437.1L695.0 437.1L695.0 436.9L695.5 436.9L695.5 435.3L696.0 435.3L696.0 436.3L696.5 436.3L696.5 436.3L697.0 436.3L697.0 437.3L697.5 437.3L697.5 434.6L698.0 434.6L698.0 437.5L698.5 437.5L698.5 437.1L699.0 437.1L699.0 437.0L699.5 437.0L699.5 437.0L700.0 437.0L700.0 437.1L700.5 437.1L700.5 437.6L701.0 437.6L701.0 435.8L701.5 435.8L701.5 434.9L702.0 434.9L702.0 437.5L702.5 437.5L702.5 437.0L703.0 437.0L703.0 435.4L703.5 435.4L703.5 437.3L704.0 437.3L704.0 437.2L704.5 437.2L704.5 435.7L705.0 435.7L705.0 436.6L705.5 436.6L705.5 436.9L706.0 436.9L706.0 437.0L706.5 437.0L706.5 435.1L707.0 435.1L707.0 437.3L707.5 437.3L707.5 436.0L708.0 436.0L708.0 437.0L708.5 437.0L708.5 436.8L709.0 436.8L709.0 435.4L709.5 435.4L709.5 436.3L710.0 436.3L710.0 436.1L710.5 436.1L710.5 436.2L711.0 436.2L711.0 436.8L711.5 436.8L711.5 436.8L712.0 436.8L712.0 437.2L712.5 437.2L712.5 436.5L713.0 436.5L713.0 436.0L713.5 436.0L713.5 434.9L714.0 434.9L714.0 436.0L714.5 436.0L714.5 434.9L715.0 434.9L715.0 436.2L715.5 436.2L715.5 437.1L716.0 437.1L716.0 436.3L716.5 436.3L716.5 436.3L717.0 436.3L717.0 437.2L717.5 437.2L717.5 436.8L718.0 436.8L718.0 436.9L718.5 436.9L718.5 436.7L719.0 436.7L719.0 436.8L719.5 436.8L719.5 436.6L720.0 436.6L720.0 436.7L720.5 436.7L720.5 435.6L721.0 435.6L721.0 436.0L721.5 436.0L721.5 435.1L722.0 435.1L722.0 436.2L722.5 436.2L722.5 437.6L723.0 437.6L723.0 436.2L723.5 436.2L723.5 437.5L724.0 437.5L724.0 435.3L724.5 435.3L724.5 437.6L725.0 437.6L725.0 436.8L725.5 436.8L725.5 436.4L726.0 436.4L726.0 437.0L726.5 437.0L726.5 436.9L727.0 436.9L727.0 436.6L727.5 436.6L727.5 436.0L728.0 436.0L728.0 436.3L728.5 436.3L728.5 436.9L729.0 436.9L729.0 437.6L729.5 437.6L729.5 437.0L730.0 437.0L730.0 436.2L730.5 436.2L730.5 436.4L731.0 436.4L731.0 436.9L731.5 436.9L731.5 436.9L732.0 436.9L732.0 436.5L732.5 436.5L732.5 436.6L733.0 436.6L733.0 437.4L733.5 437.4L733.5 437.1L734.0 437.1L734.0 436.8L734.5 436.8L734.5 436.6L735.0 436.6L735.0 437.6L735.5 437.6L735.5 435.2L736.0 435.2L736.0 437.7L736.5 437.7L736.5 435.2L737.0 435.2L737.0 436.9L737.5 436.9L737.5 436.3L738.0 436.3L738.0 436.9L738.5 436.9L738.5 437.5L739.0 437.5L739.0 435.9L739.5 435.9L739.5 436.5L740.0 436.5L740.0 436.6L740.5 436.6L740.5 436.9L741.0 436.9L741.0 434.5L741.5 434.5L741.5 436.6L742.0 436.6L742.0 436.4L742.5 436.4L742.5 436.9L743.0 436.9L743.0 436.9L743.5 436.9L743.5 435.2L744.0 435.2L744.0 435.0L744.5 435.0L744.5 437.4L745.0 437.4L745.0 436.2L745.5 436.2L745.5 436.2L746.0 436.2L746.0 434.4L746.5 434.4L746.5 437.4L747.0 437.4L747.0 437.0L747.5 437.0L747.5 436.0L748.0 436.0L748.0 437.5L748.5 437.5L748.5 437.6L749.0 437.6L749.0 437.4L749.5 437.4L749.5 434.7L750.0 434.7L750.0 435.7L750.5 435.7L750.5 435.0L751.0 435.0L751.0 437.0L751.5 437.0L751.5 436.3L752.0 436.3L752.0 433.4L752.5 433.4L752.5 437.4L753.0 437.4L753.0 437.0L753.5 437.0L753.5 436.5L754.0 436.5L754.0 434.7L754.5 434.7L754.5 436.8L755.0 436.8L755.0 437.2L755.5 437.2L755.5 435.8L756.0 435.8L756.0 436.6L756.5 436.6L756.5 436.0L757.0 436.0L757.0 439.5Z" fill="#f0922c"/>
<rect x="649.2" y="280.7" width="2.5" height="159.4" fill="#a0a0a0" fill-opacity="0.33"/>
<rect x="670.5" y="280.7" width="2.9" height="159.4" fill="#a0a0a0" fill-opacity="0.33"/>
<rect x="677.2" y="280.7" width="2.7" height="159.4" fill="#a0a0a0" fill-opacity="0.33"/>
<rect x="629.5" y="231.6" width="128.0" height="208.5" fill="none" stroke="#5a5a5a" stroke-width="1"/>
<text x="136.5" y="226.8" font-size="10.3" font-style="italic" fill="#111">GATA3</text>
<rect x="219.2" y="227.2" width="16.4" height="3.8" fill="#9a9a9a"/>
<line x1="134" y1="236.6" x2="171" y2="236.6" stroke="#1f2fa8" stroke-width="0.8"/>
<rect x="134.2" y="234.2" width="1.40" height="4.60" fill="#1f2fa8"/>
<rect x="136.4" y="234.2" width="1.40" height="4.60" fill="#1f2fa8"/>
<path d="M141.4 233.3 L143.0 233.3 L143.0 240.0 L141.4 240.0 Q140.6 236.6 141.4 233.3Z" fill="#1f2fa8"/>
<rect x="145.8" y="233.3" width="1.10" height="6.70" fill="#1f2fa8"/>
<rect x="154.2" y="233.3" width="1.80" height="6.70" fill="#1f2fa8"/>
<rect x="163.0" y="233.3" width="1.10" height="6.70" fill="#1f2fa8"/>
<rect x="169.4" y="233.3" width="1.70" height="6.70" fill="#1f2fa8"/>
<text x="120.3" y="249.5" font-size="5.6" letter-spacing="0.3" fill="#222">GATA3-AS1</text>
<rect x="125.8" y="254.2" width="91.9" height="10.6" fill="#000"/>
<text x="298.0" y="226.8" font-size="10.3" font-style="italic" fill="#111">XBP1</text>
<rect x="390.8" y="226.4" width="23.9" height="3.6" fill="#9a9a9a"/>
<rect x="288.4" y="236.2" width="3.20" height="3.90" fill="#1f2fa8"/>
<line x1="304" y1="238.2" x2="320.5" y2="238.2" stroke="#1f2fa8" stroke-width="0.8"/>
<path d="M305.5 234.7 L309.2 234.7 L309.2 241.7 L305.5 241.7 Q304.2 238.2 305.5 234.7Z" fill="#1f2fa8"/>
<rect x="311.8" y="234.7" width="1.00" height="7.00" fill="#1f2fa8"/>
<rect x="315.8" y="234.7" width="1.00" height="7.00" fill="#1f2fa8"/>
<rect x="319.5" y="234.7" width="1.00" height="7.00" fill="#1f2fa8"/>
<text x="302.4" y="252.0" font-size="6.0" letter-spacing="0.7" fill="#222">XBP1</text>
<rect x="302.8" y="256.2" width="90.0" height="10.3" fill="#000"/>
<text x="483.8" y="226.8" font-size="10.3" font-style="italic" fill="#111">TFF1</text>
<rect x="537.5" y="226.8" width="47.8" height="3.6" fill="#9a9a9a"/>
<line x1="485" y1="236.0" x2="504" y2="236.0" stroke="#1f2fa8" stroke-width="0.8"/>
<rect x="484.4" y="232.4" width="1.20" height="6.90" fill="#1f2fa8"/>
<rect x="488.0" y="232.4" width="1.20" height="6.90" fill="#1f2fa8"/>
<rect x="502.79999999999995" y="232.4" width="1.20" height="6.90" fill="#1f2fa8"/>
<rect x="528.6" y="233.4" width="5.40" height="5.90" fill="#1f2fa8"/>
<line x1="534" y1="236.3" x2="584.5" y2="236.3" stroke="#1f2fa8" stroke-width="0.8"/>
<rect x="546.9" y="233.0" width="1.00" height="6.60" fill="#1f2fa8"/>
<rect x="550.0" y="233.0" width="1.00" height="6.60" fill="#1f2fa8"/>
<rect x="567.9" y="233.0" width="1.00" height="6.60" fill="#1f2fa8"/>
<rect x="576.5" y="233.0" width="1.00" height="6.60" fill="#1f2fa8"/>
<rect x="581.2" y="233.0" width="1.00" height="6.60" fill="#1f2fa8"/>
<rect x="583.7" y="233.0" width="1.00" height="6.60" fill="#1f2fa8"/>
<text x="487" y="249.5" font-size="5.6" letter-spacing="0.6" fill="#333">TFF1</text>
<text x="570.6" y="249.5" font-size="5.6" letter-spacing="0.6" fill="#333">TMP</text>
<rect x="475.2" y="253.9" width="102.3" height="10.0" fill="#000"/>
<text x="673.6" y="226.8" font-size="10.3" font-style="italic" fill="#111">GREB1</text>
<rect x="684.2" y="227.6" width="71.4" height="3.9" fill="#000"/>
<line x1="674" y1="237.4" x2="746.5" y2="237.4" stroke="#1f2fa8" stroke-width="0.8"/>
<rect x="678.3" y="233.9" width="0.90" height="7.00" fill="#1f2fa8"/>
<rect x="688" y="233.9" width="1.50" height="7.00" fill="#1f2fa8"/>
<rect x="691" y="233.9" width="1.50" height="7.00" fill="#1f2fa8"/>
<rect x="694.3" y="233.9" width="2.90" height="7.00" fill="#1f2fa8"/>
<rect x="702.5" y="233.9" width="3.90" height="7.00" fill="#1f2fa8"/>
<rect x="708.75" y="233.9" width="11.75" height="7.00" fill="#1f2fa8"/>
<rect x="725" y="233.9" width="9.50" height="7.00" fill="#1f2fa8"/>
<rect x="735.3" y="233.9" width="1.60" height="7.00" fill="#1f2fa8"/>
<rect x="739.2" y="233.9" width="7.05" height="7.00" fill="#1f2fa8"/>
<text x="694.7" y="251.0" font-size="5.6" letter-spacing="2.3" fill="#333">GREB1</text>
<text x="745.5" y="251.0" font-size="5.6" letter-spacing="2.0" fill="#333">NT</text>
<rect x="635.0" y="255.0" width="59.0" height="10.1" fill="#000"/>
</svg>
</body></html>
